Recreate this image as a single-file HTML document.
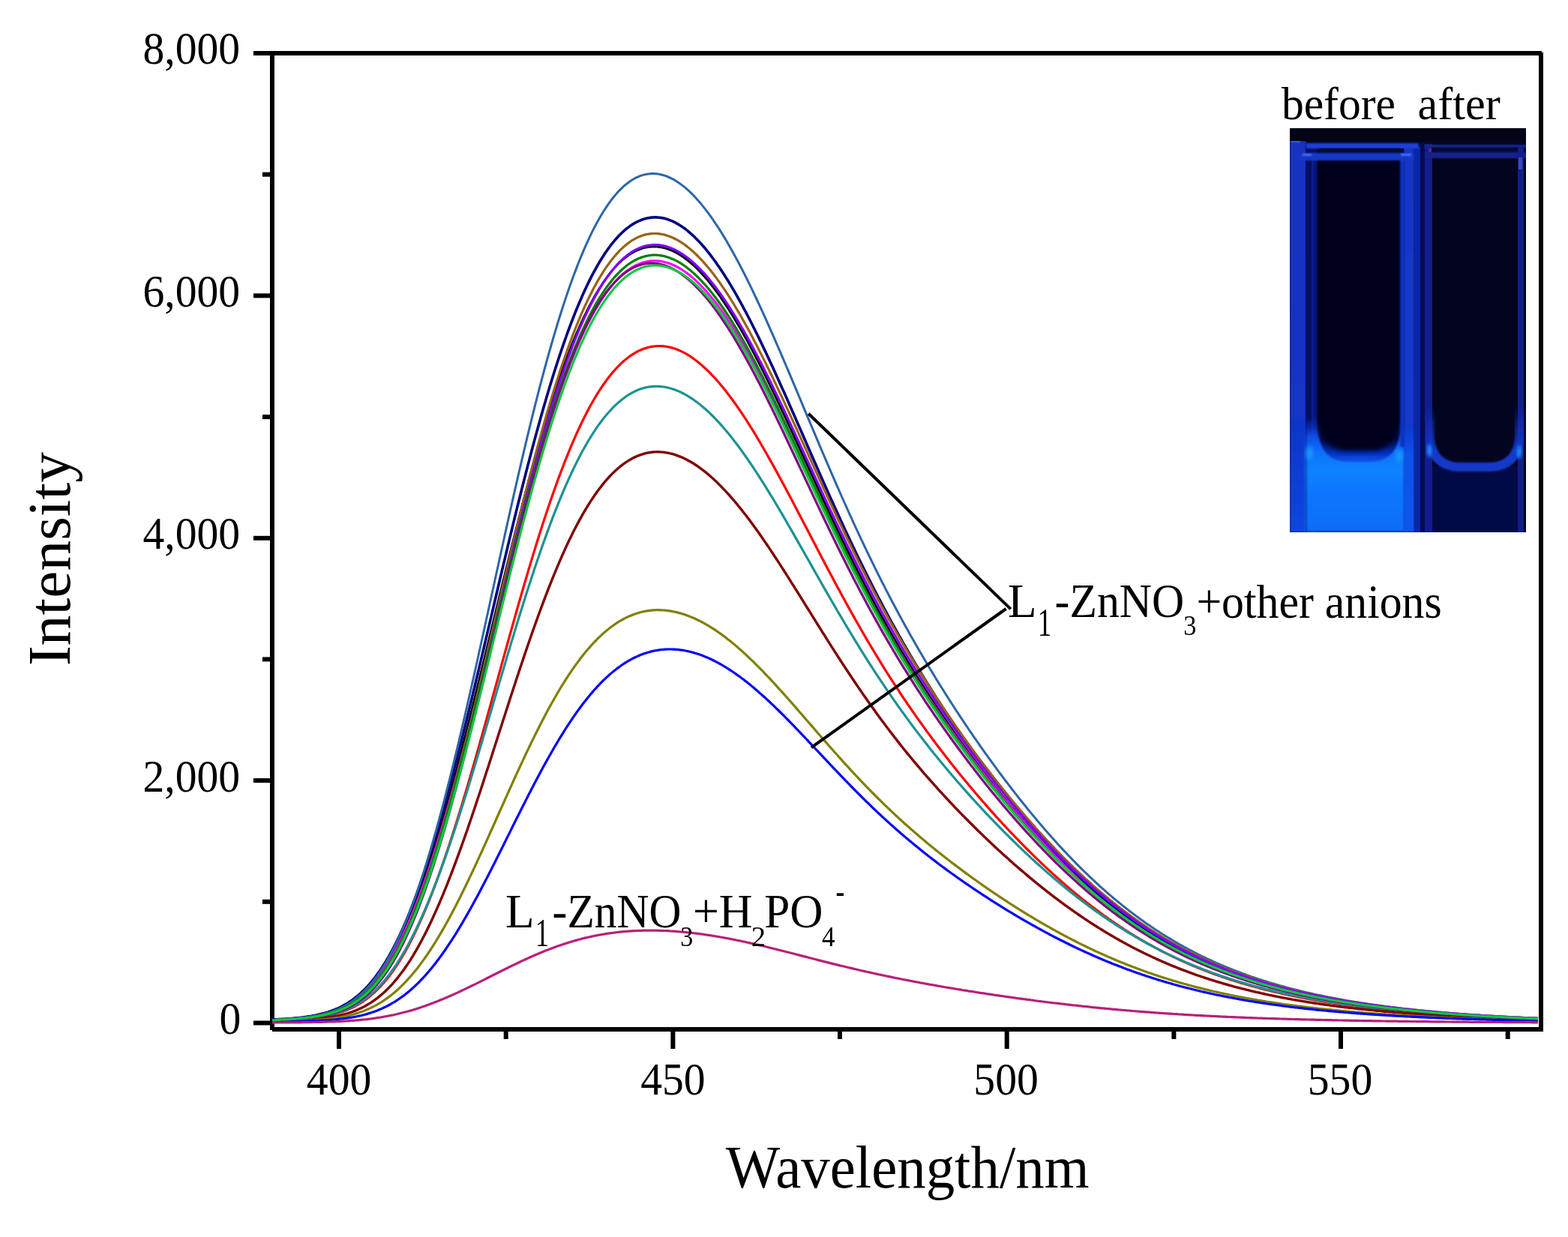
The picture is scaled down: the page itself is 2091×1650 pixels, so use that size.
<!DOCTYPE html>
<html><head><meta charset="utf-8"><title>Fluorescence spectra</title>
<style>
html,body{margin:0;padding:0;background:#fff;overflow:hidden;width:2091px;height:1650px;}
svg{display:block;}
text{font-family:"Liberation Serif","Times New Roman",serif;fill:#000;}
.tk{font-size:60px;}
.ax{font-size:80px;}
.an{font-size:62px;}
</style></head>
<body>
<svg width="2091" height="1650" viewBox="0 0 2091 1650">
<rect x="0" y="0" width="2091" height="1650" fill="#fff"/>
<g id="frame" fill="#000">
<rect x="360" y="68" width="6" height="1306"/>
<rect x="2052" y="70" width="6" height="1306"/>
<rect x="338" y="68" width="1718" height="6"/>
<rect x="363" y="1370" width="1693" height="6"/>
<rect x="338" y="1361.5" width="24" height="6"/>
<rect x="338" y="1038.1" width="24" height="6"/>
<rect x="338" y="714.8" width="24" height="6"/>
<rect x="338" y="391.4" width="24" height="6"/>
<rect x="338" y="68.0" width="24" height="6"/>
<rect x="350" y="1199.8" width="12" height="6"/>
<rect x="350" y="876.4" width="12" height="6"/>
<rect x="350" y="553.1" width="12" height="6"/>
<rect x="350" y="229.7" width="12" height="6"/>
<rect x="449.0" y="1372" width="6" height="27"/>
<rect x="894.4" y="1372" width="6" height="27"/>
<rect x="1339.7" y="1372" width="6" height="27"/>
<rect x="1785.0" y="1372" width="6" height="27"/>
<rect x="671.7" y="1372" width="6" height="14"/>
<rect x="1117.0" y="1372" width="6" height="14"/>
<rect x="1562.4" y="1372" width="6" height="14"/>
<rect x="2007.7" y="1372" width="6" height="14"/>
</g>
<g id="curves">
<polyline points="363,1360.5 365,1360.3 367,1360.2 369,1360.0 371,1359.9 373,1359.8 375,1359.7 377,1359.6 379,1359.5 381,1359.4 383,1359.2 385,1359.1 387,1359.0 389,1358.8 391,1358.6 393,1358.5 395,1358.3 397,1358.1 399,1357.9 401,1357.7 403,1357.4 405,1357.2 407,1357.0 409,1356.7 411,1356.4 413,1356.1 415,1355.8 417,1355.5 419,1355.1 421,1354.7 423,1354.3 425,1353.9 427,1353.5 429,1353.0 431,1352.5 433,1352.0 435,1351.5 437,1350.9 439,1350.3 441,1349.6 443,1349.0 445,1348.2 447,1347.5 449,1346.7 451,1345.8 453,1345.0 455,1344.0 457,1343.0 459,1342.0 461,1340.9 463,1339.8 465,1338.6 467,1337.4 469,1336.0 471,1334.7 473,1333.2 475,1331.7 477,1330.2 479,1328.5 481,1326.8 483,1325.0 485,1323.2 487,1321.3 489,1319.3 491,1317.2 493,1315.0 495,1312.7 497,1310.4 499,1308.0 501,1305.5 503,1302.9 505,1300.2 507,1297.4 509,1294.5 511,1291.6 513,1288.5 515,1285.4 517,1282.1 519,1278.8 521,1275.3 523,1271.8 525,1268.1 527,1264.4 529,1260.5 531,1256.5 533,1252.5 535,1248.3 537,1244.1 539,1239.7 541,1235.2 543,1230.6 545,1226.0 547,1221.2 549,1216.3 551,1211.3 553,1206.2 555,1201.0 557,1195.7 559,1190.3 561,1184.8 563,1179.2 565,1173.5 567,1167.7 569,1161.8 571,1155.8 573,1149.7 575,1143.5 577,1137.2 579,1130.9 581,1124.4 583,1117.9 585,1111.2 587,1104.5 589,1097.7 591,1090.8 593,1083.8 595,1076.8 597,1069.7 599,1062.5 601,1055.2 603,1047.9 605,1040.5 607,1033.0 609,1025.5 611,1017.9 613,1010.2 615,1002.5 617,994.7 619,986.9 621,979.1 623,971.2 625,963.2 627,955.2 629,947.2 631,939.1 633,931.0 635,922.9 637,914.7 639,906.6 641,898.4 643,890.1 645,881.9 647,873.7 649,865.4 651,857.1 653,848.9 655,840.6 657,832.3 659,824.1 661,815.8 663,807.5 665,799.3 667,791.1 669,782.9 671,774.7 673,766.5 675,758.4 677,750.3 679,742.2 681,734.1 683,726.1 685,718.2 687,710.2 689,702.4 691,694.5 693,686.7 695,679.0 697,671.3 699,663.7 701,656.1 703,648.6 705,641.1 707,633.7 709,626.4 711,619.1 713,611.9 715,604.8 717,597.8 719,590.8 721,583.9 723,577.1 725,570.3 727,563.6 729,557.1 731,550.6 733,544.2 735,537.8 737,531.6 739,525.4 741,519.4 743,513.4 745,507.5 747,501.7 749,496.0 751,490.4 753,484.9 755,479.5 757,474.2 759,469.0 761,463.8 763,458.8 765,453.9 767,449.0 769,444.3 771,439.7 773,435.1 775,430.7 777,426.3 779,422.1 781,418.0 783,413.9 785,410.0 787,406.1 789,402.4 791,398.7 793,395.2 795,391.7 797,388.4 799,385.1 801,382.0 803,378.9 805,376.0 807,373.1 809,370.3 811,367.6 813,365.1 815,362.6 817,360.2 819,357.9 821,355.7 823,353.6 825,351.6 827,349.6 829,347.8 831,346.0 833,344.4 835,342.8 837,341.3 839,339.9 841,338.6 843,337.4 845,336.3 847,335.2 849,334.3 851,333.4 853,332.6 855,331.9 857,331.2 859,330.7 861,330.2 863,329.8 865,329.5 867,329.3 869,329.1 871,329.0 873,329.0 875,329.1 877,329.2 879,329.5 881,329.8 883,330.1 885,330.6 887,331.1 889,331.7 891,332.4 893,333.1 895,333.9 897,334.8 899,335.7 901,336.8 903,337.8 905,339.0 907,340.2 909,341.5 911,342.9 913,344.3 915,345.8 917,347.4 919,349.0 921,350.7 923,352.4 925,354.2 927,356.1 929,358.0 931,360.0 933,362.1 935,364.2 937,366.3 939,368.6 941,370.9 943,373.2 945,375.6 947,378.1 949,380.6 951,383.2 953,385.8 955,388.5 957,391.2 959,394.0 961,396.8 963,399.7 965,402.6 967,405.6 969,408.7 971,411.8 973,414.9 975,418.1 977,421.3 979,424.6 981,427.9 983,431.2 985,434.6 987,438.1 989,441.6 991,445.1 993,448.7 995,452.3 997,455.9 999,459.6 1001,463.3 1003,467.0 1005,470.8 1007,474.6 1009,478.5 1011,482.4 1013,486.3 1015,490.2 1017,494.2 1019,498.2 1021,502.2 1023,506.2 1025,510.3 1027,514.4 1029,518.5 1031,522.7 1033,526.8 1035,531.0 1037,535.2 1039,539.4 1041,543.7 1043,547.9 1045,552.2 1047,556.4 1049,560.7 1051,565.0 1053,569.3 1055,573.6 1057,578.0 1059,582.3 1061,586.6 1063,591.0 1065,595.3 1067,599.7 1069,604.1 1071,608.4 1073,612.8 1075,617.1 1077,621.5 1079,625.8 1081,630.2 1083,634.5 1085,638.9 1087,643.2 1089,647.6 1091,651.9 1093,656.2 1095,660.5 1097,664.8 1099,669.1 1101,673.4 1103,677.7 1105,682.0 1107,686.2 1109,690.5 1111,694.7 1113,698.9 1115,703.1 1117,707.3 1119,711.5 1121,715.6 1123,719.8 1125,723.9 1127,728.0 1129,732.1 1131,736.2 1133,740.2 1135,744.3 1137,748.3 1139,752.3 1141,756.3 1143,760.2 1145,764.2 1147,768.1 1149,772.0 1151,775.9 1153,779.8 1155,783.6 1157,787.4 1159,791.2 1161,795.0 1163,798.8 1165,802.5 1167,806.3 1169,810.0 1171,813.7 1173,817.3 1175,821.0 1177,824.6 1179,828.2 1181,831.8 1183,835.3 1185,838.9 1187,842.4 1189,845.9 1191,849.4 1193,852.9 1195,856.3 1197,859.8 1199,863.2 1201,866.6 1203,869.9 1205,873.3 1207,876.6 1209,879.9 1211,883.2 1213,886.5 1215,889.8 1217,893.0 1219,896.3 1221,899.5 1223,902.7 1225,905.9 1227,909.0 1229,912.2 1231,915.3 1233,918.4 1235,921.5 1237,924.6 1239,927.7 1241,930.7 1243,933.7 1245,936.8 1247,939.8 1249,942.8 1251,945.7 1253,948.7 1255,951.7 1257,954.6 1259,957.5 1261,960.4 1263,963.3 1265,966.2 1267,969.1 1269,971.9 1271,974.8 1273,977.6 1275,980.4 1277,983.2 1279,986.0 1281,988.8 1283,991.5 1285,994.3 1287,997.0 1289,999.8 1291,1002.5 1293,1005.2 1295,1007.9 1297,1010.6 1299,1013.2 1301,1015.9 1303,1018.5 1305,1021.2 1307,1023.8 1309,1026.4 1311,1029.0 1313,1031.6 1315,1034.2 1317,1036.7 1319,1039.3 1321,1041.8 1323,1044.4 1325,1046.9 1327,1049.4 1329,1051.9 1331,1054.4 1333,1056.8 1335,1059.3 1337,1061.8 1339,1064.2 1341,1066.6 1343,1069.1 1345,1071.5 1347,1073.9 1349,1076.2 1351,1078.6 1353,1081.0 1355,1083.3 1357,1085.7 1359,1088.0 1361,1090.3 1363,1092.6 1365,1094.9 1367,1097.2 1369,1099.5 1371,1101.7 1373,1104.0 1375,1106.2 1377,1108.4 1379,1110.7 1381,1112.9 1383,1115.1 1385,1117.2 1387,1119.4 1389,1121.6 1391,1123.7 1393,1125.8 1395,1127.9 1397,1130.0 1399,1132.1 1401,1134.2 1403,1136.3 1405,1138.4 1407,1140.4 1409,1142.4 1411,1144.5 1413,1146.5 1415,1148.5 1417,1150.4 1419,1152.4 1421,1154.4 1423,1156.3 1425,1158.3 1427,1160.2 1429,1162.1 1431,1164.0 1433,1165.9 1435,1167.8 1437,1169.6 1439,1171.5 1441,1173.3 1443,1175.1 1445,1176.9 1447,1178.7 1449,1180.5 1451,1182.3 1453,1184.0 1455,1185.8 1457,1187.5 1459,1189.3 1461,1191.0 1463,1192.7 1465,1194.3 1467,1196.0 1469,1197.7 1471,1199.3 1473,1201.0 1475,1202.6 1477,1204.2 1479,1205.8 1481,1207.4 1483,1208.9 1485,1210.5 1487,1212.1 1489,1213.6 1491,1215.1 1493,1216.6 1495,1218.1 1497,1219.6 1499,1221.1 1501,1222.5 1503,1224.0 1505,1225.4 1507,1226.9 1509,1228.3 1511,1229.7 1513,1231.1 1515,1232.4 1517,1233.8 1519,1235.2 1521,1236.5 1523,1237.8 1525,1239.1 1527,1240.5 1529,1241.7 1531,1243.0 1533,1244.3 1535,1245.6 1537,1246.8 1539,1248.1 1541,1249.3 1543,1250.5 1545,1251.7 1547,1252.9 1549,1254.1 1551,1255.2 1553,1256.4 1555,1257.6 1557,1258.7 1559,1259.8 1561,1260.9 1563,1262.0 1565,1263.1 1567,1264.2 1569,1265.3 1571,1266.4 1573,1267.4 1575,1268.5 1577,1269.5 1579,1270.5 1581,1271.5 1583,1272.5 1585,1273.5 1587,1274.5 1589,1275.5 1591,1276.4 1593,1277.4 1595,1278.3 1597,1279.3 1599,1280.2 1601,1281.1 1603,1282.0 1605,1282.9 1607,1283.8 1609,1284.7 1611,1285.6 1613,1286.4 1615,1287.3 1617,1288.1 1619,1289.0 1621,1289.8 1623,1290.6 1625,1291.4 1627,1292.2 1629,1293.0 1631,1293.8 1633,1294.6 1635,1295.4 1637,1296.1 1639,1296.9 1641,1297.6 1643,1298.4 1645,1299.1 1647,1299.8 1649,1300.5 1651,1301.2 1653,1301.9 1655,1302.6 1657,1303.3 1659,1304.0 1661,1304.7 1663,1305.3 1665,1306.0 1667,1306.6 1669,1307.3 1671,1307.9 1673,1308.5 1675,1309.2 1677,1309.8 1679,1310.4 1681,1311.0 1683,1311.6 1685,1312.2 1687,1312.8 1689,1313.3 1691,1313.9 1693,1314.5 1695,1315.0 1697,1315.6 1699,1316.1 1701,1316.7 1703,1317.2 1705,1317.8 1707,1318.3 1709,1318.8 1711,1319.3 1713,1319.8 1715,1320.3 1717,1320.8 1719,1321.3 1721,1321.8 1723,1322.3 1725,1322.7 1727,1323.2 1729,1323.7 1731,1324.1 1733,1324.6 1735,1325.1 1737,1325.5 1739,1325.9 1741,1326.4 1743,1326.8 1745,1327.2 1747,1327.7 1749,1328.1 1751,1328.5 1753,1328.9 1755,1329.3 1757,1329.7 1759,1330.1 1761,1330.5 1763,1330.9 1765,1331.3 1767,1331.6 1769,1332.0 1771,1332.4 1773,1332.7 1775,1333.1 1777,1333.5 1779,1333.8 1781,1334.2 1783,1334.5 1785,1334.9 1787,1335.2 1789,1335.5 1791,1335.9 1793,1336.2 1795,1336.5 1797,1336.9 1799,1337.2 1801,1337.5 1803,1337.8 1805,1338.1 1807,1338.4 1809,1338.7 1811,1339.0 1813,1339.3 1815,1339.6 1817,1339.9 1819,1340.2 1821,1340.4 1823,1340.7 1825,1341.0 1827,1341.3 1829,1341.5 1831,1341.8 1833,1342.1 1835,1342.3 1837,1342.6 1839,1342.9 1841,1343.1 1843,1343.4 1845,1343.6 1847,1343.9 1849,1344.1 1851,1344.3 1853,1344.6 1855,1344.8 1857,1345.0 1859,1345.3 1861,1345.5 1863,1345.7 1865,1345.9 1867,1346.2 1869,1346.4 1871,1346.6 1873,1346.8 1875,1347.0 1877,1347.2 1879,1347.4 1881,1347.6 1883,1347.8 1885,1348.0 1887,1348.2 1889,1348.4 1891,1348.6 1893,1348.8 1895,1349.0 1897,1349.2 1899,1349.4 1901,1349.5 1903,1349.7 1905,1349.9 1907,1350.1 1909,1350.2 1911,1350.4 1913,1350.6 1915,1350.8 1917,1350.9 1919,1351.1 1921,1351.2 1923,1351.4 1925,1351.6 1927,1351.7 1929,1351.9 1931,1352.0 1933,1352.2 1935,1352.3 1937,1352.5 1939,1352.6 1941,1352.8 1943,1352.9 1945,1353.1 1947,1353.2 1949,1353.3 1951,1353.5 1953,1353.6 1955,1353.7 1957,1353.9 1959,1354.0 1961,1354.1 1963,1354.3 1965,1354.4 1967,1354.5 1969,1354.6 1971,1354.8 1973,1354.9 1975,1355.0 1977,1355.1 1979,1355.2 1981,1355.4 1983,1355.5 1985,1355.6 1987,1355.7 1989,1355.8 1991,1355.9 1993,1356.0 1995,1356.1 1997,1356.2 1999,1356.3 2001,1356.4 2003,1356.5 2005,1356.6 2007,1356.7 2009,1356.8 2011,1356.9 2013,1357.0 2015,1357.1 2017,1357.2 2019,1357.3 2021,1357.4 2023,1357.5 2025,1357.6 2027,1357.7 2029,1357.8 2031,1357.9 2033,1357.9 2035,1358.0 2037,1358.1 2039,1358.2 2041,1358.3 2043,1358.3 2045,1358.4 2047,1358.5 2049,1358.6 2051,1358.7" fill="none" stroke="#000000" stroke-width="2.8" stroke-linejoin="round"/>
<polyline points="363,1360.6 365,1360.5 367,1360.3 369,1360.2 371,1360.0 373,1359.9 375,1359.8 377,1359.7 379,1359.6 381,1359.5 383,1359.4 385,1359.3 387,1359.1 389,1359.0 391,1358.8 393,1358.7 395,1358.5 397,1358.3 399,1358.1 401,1357.9 403,1357.7 405,1357.4 407,1357.2 409,1356.9 411,1356.7 413,1356.4 415,1356.1 417,1355.8 419,1355.4 421,1355.1 423,1354.7 425,1354.3 427,1353.9 429,1353.4 431,1353.0 433,1352.5 435,1351.9 437,1351.4 439,1350.8 441,1350.2 443,1349.5 445,1348.8 447,1348.1 449,1347.3 451,1346.5 453,1345.7 455,1344.8 457,1343.8 459,1342.9 461,1341.8 463,1340.7 465,1339.6 467,1338.4 469,1337.1 471,1335.8 473,1334.4 475,1333.0 477,1331.4 479,1329.9 481,1328.2 483,1326.5 485,1324.7 487,1322.8 489,1320.9 491,1318.9 493,1316.8 495,1314.6 497,1312.4 499,1310.0 501,1307.6 503,1305.1 505,1302.5 507,1299.8 509,1297.0 511,1294.1 513,1291.2 515,1288.1 517,1284.9 519,1281.7 521,1278.4 523,1274.9 525,1271.4 527,1267.7 529,1264.0 531,1260.1 533,1256.2 535,1252.2 537,1248.0 539,1243.8 541,1239.4 543,1235.0 545,1230.4 547,1225.7 549,1221.0 551,1216.1 553,1211.2 555,1206.1 557,1200.9 559,1195.7 561,1190.3 563,1184.9 565,1179.3 567,1173.7 569,1167.9 571,1162.1 573,1156.1 575,1150.1 577,1144.0 579,1137.7 581,1131.4 583,1125.0 585,1118.6 587,1112.0 589,1105.4 591,1098.6 593,1091.8 595,1084.9 597,1078.0 599,1070.9 601,1063.8 603,1056.7 605,1049.4 607,1042.1 609,1034.7 611,1027.3 613,1019.8 615,1012.3 617,1004.7 619,997.0 621,989.3 623,981.6 625,973.8 627,966.0 629,958.1 631,950.2 633,942.3 635,934.3 637,926.3 639,918.3 641,910.2 643,902.2 645,894.1 647,886.0 649,877.9 651,869.8 653,861.7 655,853.5 657,845.4 659,837.3 661,829.2 663,821.1 665,813.0 667,804.9 669,796.9 671,788.8 673,780.8 675,772.8 677,764.8 679,756.9 681,749.0 683,741.1 685,733.2 687,725.4 689,717.7 691,710.0 693,702.3 695,694.7 697,687.1 699,679.6 701,672.1 703,664.7 705,657.4 707,650.1 709,642.9 711,635.7 713,628.6 715,621.6 717,614.6 719,607.8 721,601.0 723,594.2 725,587.6 727,581.0 729,574.5 731,568.1 733,561.8 735,555.5 737,549.4 739,543.3 741,537.3 743,531.4 745,525.6 747,519.8 749,514.2 751,508.7 753,503.2 755,497.9 757,492.6 759,487.4 761,482.4 763,477.4 765,472.5 767,467.7 769,463.0 771,458.4 773,453.9 775,449.5 777,445.2 779,441.0 781,436.9 783,432.9 785,429.0 787,425.2 789,421.5 791,417.9 793,414.3 795,410.9 797,407.6 799,404.3 801,401.2 803,398.2 805,395.2 807,392.4 809,389.6 811,386.9 813,384.4 815,381.9 817,379.5 819,377.2 821,375.0 823,372.9 825,370.9 827,368.9 829,367.1 831,365.3 833,363.7 835,362.1 837,360.6 839,359.2 841,357.9 843,356.7 845,355.5 847,354.4 849,353.5 851,352.6 853,351.7 855,351.0 857,350.3 859,349.8 861,349.3 863,348.8 865,348.5 867,348.2 869,348.0 871,347.9 873,347.9 875,347.9 877,348.1 879,348.2 881,348.5 883,348.8 885,349.2 887,349.7 889,350.3 891,350.9 893,351.6 895,352.3 897,353.2 899,354.0 901,355.0 903,356.0 905,357.1 907,358.3 909,359.5 911,360.8 913,362.2 915,363.6 917,365.1 919,366.6 921,368.2 923,369.9 925,371.6 927,373.4 929,375.3 931,377.2 933,379.2 935,381.2 937,383.3 939,385.4 941,387.6 943,389.9 945,392.2 947,394.6 949,397.0 951,399.5 953,402.0 955,404.6 957,407.2 959,409.9 961,412.6 963,415.4 965,418.3 967,421.1 969,424.1 971,427.1 973,430.1 975,433.2 977,436.3 979,439.4 981,442.6 983,445.9 985,449.2 987,452.5 989,455.9 991,459.3 993,462.8 995,466.2 997,469.8 999,473.3 1001,476.9 1003,480.6 1005,484.2 1007,487.9 1009,491.7 1011,495.4 1013,499.2 1015,503.1 1017,506.9 1019,510.8 1021,514.7 1023,518.6 1025,522.6 1027,526.6 1029,530.6 1031,534.6 1033,538.6 1035,542.7 1037,546.8 1039,550.9 1041,555.0 1043,559.1 1045,563.3 1047,567.5 1049,571.6 1051,575.8 1053,580.0 1055,584.2 1057,588.4 1059,592.7 1061,596.9 1063,601.1 1065,605.4 1067,609.6 1069,613.9 1071,618.1 1073,622.4 1075,626.6 1077,630.9 1079,635.2 1081,639.4 1083,643.7 1085,647.9 1087,652.2 1089,656.4 1091,660.6 1093,664.9 1095,669.1 1097,673.3 1099,677.5 1101,681.7 1103,685.9 1105,690.1 1107,694.2 1109,698.4 1111,702.5 1113,706.6 1115,710.8 1117,714.9 1119,719.0 1121,723.0 1123,727.1 1125,731.1 1127,735.2 1129,739.2 1131,743.2 1133,747.1 1135,751.1 1137,755.1 1139,759.0 1141,762.9 1143,766.8 1145,770.7 1147,774.5 1149,778.4 1151,782.2 1153,786.0 1155,789.7 1157,793.5 1159,797.2 1161,801.0 1163,804.7 1165,808.4 1167,812.0 1169,815.7 1171,819.3 1173,822.9 1175,826.5 1177,830.0 1179,833.6 1181,837.1 1183,840.6 1185,844.1 1187,847.6 1189,851.0 1191,854.4 1193,857.9 1195,861.2 1197,864.6 1199,868.0 1201,871.3 1203,874.6 1205,877.9 1207,881.2 1209,884.5 1211,887.7 1213,890.9 1215,894.2 1217,897.4 1219,900.5 1221,903.7 1223,906.8 1225,910.0 1227,913.1 1229,916.2 1231,919.2 1233,922.3 1235,925.4 1237,928.4 1239,931.4 1241,934.4 1243,937.4 1245,940.4 1247,943.3 1249,946.3 1251,949.2 1253,952.1 1255,955.0 1257,957.9 1259,960.8 1261,963.6 1263,966.5 1265,969.3 1267,972.1 1269,974.9 1271,977.7 1273,980.5 1275,983.3 1277,986.0 1279,988.8 1281,991.5 1283,994.2 1285,996.9 1287,999.6 1289,1002.3 1291,1005.0 1293,1007.6 1295,1010.3 1297,1012.9 1299,1015.5 1301,1018.1 1303,1020.7 1305,1023.3 1307,1025.9 1309,1028.5 1311,1031.0 1313,1033.6 1315,1036.1 1317,1038.6 1319,1041.1 1321,1043.7 1323,1046.1 1325,1048.6 1327,1051.1 1329,1053.5 1331,1056.0 1333,1058.4 1335,1060.9 1337,1063.3 1339,1065.7 1341,1068.1 1343,1070.4 1345,1072.8 1347,1075.2 1349,1077.5 1351,1079.9 1353,1082.2 1355,1084.5 1357,1086.8 1359,1089.1 1361,1091.4 1363,1093.7 1365,1095.9 1367,1098.2 1369,1100.4 1371,1102.6 1373,1104.8 1375,1107.0 1377,1109.2 1379,1111.4 1381,1113.6 1383,1115.7 1385,1117.9 1387,1120.0 1389,1122.2 1391,1124.3 1393,1126.4 1395,1128.5 1397,1130.5 1399,1132.6 1401,1134.7 1403,1136.7 1405,1138.7 1407,1140.8 1409,1142.8 1411,1144.8 1413,1146.7 1415,1148.7 1417,1150.7 1419,1152.6 1421,1154.6 1423,1156.5 1425,1158.4 1427,1160.3 1429,1162.2 1431,1164.1 1433,1165.9 1435,1167.8 1437,1169.6 1439,1171.5 1441,1173.3 1443,1175.1 1445,1176.9 1447,1178.6 1449,1180.4 1451,1182.2 1453,1183.9 1455,1185.6 1457,1187.4 1459,1189.1 1461,1190.8 1463,1192.4 1465,1194.1 1467,1195.8 1469,1197.4 1471,1199.1 1473,1200.7 1475,1202.3 1477,1203.9 1479,1205.5 1481,1207.0 1483,1208.6 1485,1210.1 1487,1211.7 1489,1213.2 1491,1214.7 1493,1216.2 1495,1217.7 1497,1219.2 1499,1220.6 1501,1222.1 1503,1223.5 1505,1225.0 1507,1226.4 1509,1227.8 1511,1229.2 1513,1230.6 1515,1231.9 1517,1233.3 1519,1234.6 1521,1236.0 1523,1237.3 1525,1238.6 1527,1239.9 1529,1241.2 1531,1242.5 1533,1243.7 1535,1245.0 1537,1246.2 1539,1247.5 1541,1248.7 1543,1249.9 1545,1251.1 1547,1252.3 1549,1253.5 1551,1254.6 1553,1255.8 1555,1256.9 1557,1258.1 1559,1259.2 1561,1260.3 1563,1261.4 1565,1262.5 1567,1263.6 1569,1264.7 1571,1265.7 1573,1266.8 1575,1267.8 1577,1268.9 1579,1269.9 1581,1270.9 1583,1271.9 1585,1272.9 1587,1273.9 1589,1274.9 1591,1275.8 1593,1276.8 1595,1277.7 1597,1278.7 1599,1279.6 1601,1280.5 1603,1281.4 1605,1282.3 1607,1283.2 1609,1284.1 1611,1284.9 1613,1285.8 1615,1286.7 1617,1287.5 1619,1288.3 1621,1289.2 1623,1290.0 1625,1290.8 1627,1291.6 1629,1292.4 1631,1293.2 1633,1294.0 1635,1294.7 1637,1295.5 1639,1296.3 1641,1297.0 1643,1297.8 1645,1298.5 1647,1299.2 1649,1299.9 1651,1300.6 1653,1301.3 1655,1302.0 1657,1302.7 1659,1303.4 1661,1304.1 1663,1304.7 1665,1305.4 1667,1306.1 1669,1306.7 1671,1307.3 1673,1308.0 1675,1308.6 1677,1309.2 1679,1309.8 1681,1310.4 1683,1311.0 1685,1311.6 1687,1312.2 1689,1312.8 1691,1313.4 1693,1313.9 1695,1314.5 1697,1315.0 1699,1315.6 1701,1316.1 1703,1316.7 1705,1317.2 1707,1317.7 1709,1318.3 1711,1318.8 1713,1319.3 1715,1319.8 1717,1320.3 1719,1320.8 1721,1321.3 1723,1321.8 1725,1322.2 1727,1322.7 1729,1323.2 1731,1323.6 1733,1324.1 1735,1324.6 1737,1325.0 1739,1325.4 1741,1325.9 1743,1326.3 1745,1326.7 1747,1327.2 1749,1327.6 1751,1328.0 1753,1328.4 1755,1328.8 1757,1329.2 1759,1329.6 1761,1330.0 1763,1330.4 1765,1330.8 1767,1331.2 1769,1331.6 1771,1331.9 1773,1332.3 1775,1332.7 1777,1333.0 1779,1333.4 1781,1333.7 1783,1334.1 1785,1334.4 1787,1334.8 1789,1335.1 1791,1335.4 1793,1335.8 1795,1336.1 1797,1336.4 1799,1336.7 1801,1337.1 1803,1337.4 1805,1337.7 1807,1338.0 1809,1338.3 1811,1338.6 1813,1338.9 1815,1339.2 1817,1339.5 1819,1339.8 1821,1340.1 1823,1340.3 1825,1340.6 1827,1340.9 1829,1341.2 1831,1341.4 1833,1341.7 1835,1342.0 1837,1342.2 1839,1342.5 1841,1342.7 1843,1343.0 1845,1343.2 1847,1343.5 1849,1343.7 1851,1344.0 1853,1344.2 1855,1344.5 1857,1344.7 1859,1344.9 1861,1345.1 1863,1345.4 1865,1345.6 1867,1345.8 1869,1346.0 1871,1346.3 1873,1346.5 1875,1346.7 1877,1346.9 1879,1347.1 1881,1347.3 1883,1347.5 1885,1347.7 1887,1347.9 1889,1348.1 1891,1348.3 1893,1348.5 1895,1348.7 1897,1348.9 1899,1349.1 1901,1349.2 1903,1349.4 1905,1349.6 1907,1349.8 1909,1350.0 1911,1350.1 1913,1350.3 1915,1350.5 1917,1350.6 1919,1350.8 1921,1351.0 1923,1351.1 1925,1351.3 1927,1351.5 1929,1351.6 1931,1351.8 1933,1351.9 1935,1352.1 1937,1352.2 1939,1352.4 1941,1352.5 1943,1352.7 1945,1352.8 1947,1352.9 1949,1353.1 1951,1353.2 1953,1353.4 1955,1353.5 1957,1353.6 1959,1353.8 1961,1353.9 1963,1354.0 1965,1354.2 1967,1354.3 1969,1354.4 1971,1354.5 1973,1354.7 1975,1354.8 1977,1354.9 1979,1355.0 1981,1355.1 1983,1355.3 1985,1355.4 1987,1355.5 1989,1355.6 1991,1355.7 1993,1355.8 1995,1355.9 1997,1356.0 1999,1356.1 2001,1356.2 2003,1356.3 2005,1356.4 2007,1356.5 2009,1356.6 2011,1356.7 2013,1356.8 2015,1356.9 2017,1357.0 2019,1357.1 2021,1357.2 2023,1357.3 2025,1357.4 2027,1357.5 2029,1357.6 2031,1357.7 2033,1357.8 2035,1357.8 2037,1357.9 2039,1358.0 2041,1358.1 2043,1358.2 2045,1358.3 2047,1358.3 2049,1358.4 2051,1358.5" fill="none" stroke="#ff00ff" stroke-width="3.2" stroke-linejoin="round"/>
<polyline points="363,1361.5 365,1361.4 367,1361.3 369,1361.2 371,1361.1 373,1360.9 375,1360.8 377,1360.7 379,1360.6 381,1360.4 383,1360.3 385,1360.3 387,1360.2 389,1360.1 391,1360.0 393,1359.9 395,1359.8 397,1359.6 399,1359.5 401,1359.4 403,1359.2 405,1359.0 407,1358.9 409,1358.7 411,1358.5 413,1358.3 415,1358.1 417,1357.8 419,1357.6 421,1357.3 423,1357.1 425,1356.8 427,1356.5 429,1356.2 431,1355.9 433,1355.5 435,1355.1 437,1354.7 439,1354.3 441,1353.9 443,1353.4 445,1352.9 447,1352.4 449,1351.9 451,1351.3 453,1350.7 455,1350.0 457,1349.4 459,1348.6 461,1347.9 463,1347.1 465,1346.3 467,1345.4 469,1344.5 471,1343.5 473,1342.5 475,1341.4 477,1340.3 479,1339.1 481,1337.9 483,1336.6 485,1335.2 487,1333.8 489,1332.4 491,1330.8 493,1329.2 495,1327.6 497,1325.9 499,1324.1 501,1322.2 503,1320.2 505,1318.2 507,1316.1 509,1314.0 511,1311.7 513,1309.4 515,1307.0 517,1304.5 519,1302.0 521,1299.3 523,1296.6 525,1293.8 527,1290.9 529,1287.9 531,1284.8 533,1281.6 535,1278.4 537,1275.0 539,1271.6 541,1268.1 543,1264.5 545,1260.8 547,1257.0 549,1253.1 551,1249.1 553,1245.0 555,1240.8 557,1236.6 559,1232.2 561,1227.8 563,1223.3 565,1218.7 567,1214.0 569,1209.2 571,1204.3 573,1199.3 575,1194.2 577,1189.1 579,1183.9 581,1178.6 583,1173.2 585,1167.7 587,1162.1 589,1156.5 591,1150.8 593,1145.0 595,1139.1 597,1133.1 599,1127.1 601,1121.0 603,1114.9 605,1108.6 607,1102.4 609,1096.0 611,1089.6 613,1083.1 615,1076.6 617,1070.0 619,1063.3 621,1056.6 623,1049.9 625,1043.1 627,1036.3 629,1029.4 631,1022.4 633,1015.5 635,1008.5 637,1001.5 639,994.4 641,987.3 643,980.2 645,973.0 647,965.9 649,958.7 651,951.5 653,944.3 655,937.0 657,929.8 659,922.6 661,915.3 663,908.1 665,900.8 667,893.6 669,886.3 671,879.1 673,871.9 675,864.7 677,857.5 679,850.3 681,843.2 683,836.0 685,828.9 687,821.9 689,814.8 691,807.8 693,800.8 695,793.9 697,787.0 699,780.1 701,773.3 703,766.5 705,759.7 707,753.1 709,746.4 711,739.8 713,733.3 715,726.8 717,720.4 719,714.0 721,707.8 723,701.5 725,695.3 727,689.2 729,683.2 731,677.2 733,671.3 735,665.5 737,659.7 739,654.1 741,648.4 743,642.9 745,637.4 747,632.1 749,626.8 751,621.5 753,616.4 755,611.3 757,606.4 759,601.5 761,596.6 763,591.9 765,587.3 767,582.7 769,578.2 771,573.8 773,569.5 775,565.3 777,561.2 779,557.1 781,553.2 783,549.3 785,545.5 787,541.8 789,538.2 791,534.7 793,531.3 795,527.9 797,524.7 799,521.5 801,518.4 803,515.4 805,512.5 807,509.7 809,506.9 811,504.3 813,501.7 815,499.2 817,496.8 819,494.5 821,492.3 823,490.1 825,488.0 827,486.1 829,484.2 831,482.3 833,480.6 835,478.9 837,477.3 839,475.8 841,474.4 843,473.1 845,471.8 847,470.6 849,469.5 851,468.4 853,467.5 855,466.6 857,465.8 859,465.0 861,464.4 863,463.8 865,463.2 867,462.8 869,462.4 871,462.1 873,461.8 875,461.7 877,461.5 879,461.5 881,461.5 883,461.6 885,461.8 887,462.0 889,462.3 891,462.7 893,463.1 895,463.6 897,464.2 899,464.8 901,465.5 903,466.2 905,467.0 907,467.9 909,468.9 911,469.9 913,470.9 915,472.0 917,473.2 919,474.4 921,475.7 923,477.1 925,478.5 927,480.0 929,481.5 931,483.1 933,484.7 935,486.4 937,488.2 939,490.0 941,491.8 943,493.7 945,495.7 947,497.7 949,499.8 951,501.9 953,504.0 955,506.2 957,508.5 959,510.8 961,513.2 963,515.6 965,518.0 967,520.5 969,523.1 971,525.7 973,528.3 975,531.0 977,533.7 979,536.5 981,539.3 983,542.1 985,545.0 987,547.9 989,550.9 991,553.9 993,556.9 995,560.0 997,563.1 999,566.3 1001,569.5 1003,572.7 1005,575.9 1007,579.2 1009,582.5 1011,585.9 1013,589.3 1015,592.7 1017,596.1 1019,599.5 1021,603.0 1023,606.5 1025,610.1 1027,613.6 1029,617.2 1031,620.8 1033,624.4 1035,628.0 1037,631.7 1039,635.4 1041,639.1 1043,642.8 1045,646.5 1047,650.2 1049,654.0 1051,657.8 1053,661.5 1055,665.3 1057,669.1 1059,672.9 1061,676.7 1063,680.6 1065,684.4 1067,688.2 1069,692.0 1071,695.9 1073,699.7 1075,703.6 1077,707.4 1079,711.3 1081,715.1 1083,718.9 1085,722.8 1087,726.6 1089,730.5 1091,734.3 1093,738.1 1095,741.9 1097,745.8 1099,749.6 1101,753.4 1103,757.2 1105,760.9 1107,764.7 1109,768.5 1111,772.2 1113,776.0 1115,779.7 1117,783.4 1119,787.1 1121,790.8 1123,794.5 1125,798.2 1127,801.8 1129,805.5 1131,809.1 1133,812.7 1135,816.3 1137,819.9 1139,823.4 1141,827.0 1143,830.5 1145,834.0 1147,837.5 1149,841.0 1151,844.5 1153,847.9 1155,851.4 1157,854.8 1159,858.2 1161,861.5 1163,864.9 1165,868.2 1167,871.5 1169,874.8 1171,878.1 1173,881.4 1175,884.6 1177,887.9 1179,891.1 1181,894.3 1183,897.5 1185,900.6 1187,903.8 1189,906.9 1191,910.0 1193,913.1 1195,916.2 1197,919.2 1199,922.2 1201,925.3 1203,928.3 1205,931.3 1207,934.2 1209,937.2 1211,940.1 1213,943.0 1215,945.9 1217,948.8 1219,951.7 1221,954.6 1223,957.4 1225,960.2 1227,963.0 1229,965.8 1231,968.6 1233,971.4 1235,974.2 1237,976.9 1239,979.6 1241,982.3 1243,985.0 1245,987.7 1247,990.4 1249,993.0 1251,995.7 1253,998.3 1255,1000.9 1257,1003.5 1259,1006.1 1261,1008.7 1263,1011.3 1265,1013.8 1267,1016.4 1269,1018.9 1271,1021.4 1273,1023.9 1275,1026.4 1277,1028.9 1279,1031.4 1281,1033.9 1283,1036.3 1285,1038.8 1287,1041.2 1289,1043.6 1291,1046.0 1293,1048.4 1295,1050.8 1297,1053.2 1299,1055.5 1301,1057.9 1303,1060.3 1305,1062.6 1307,1064.9 1309,1067.2 1311,1069.5 1313,1071.8 1315,1074.1 1317,1076.4 1319,1078.6 1321,1080.9 1323,1083.1 1325,1085.4 1327,1087.6 1329,1089.8 1331,1092.0 1333,1094.2 1335,1096.4 1337,1098.6 1339,1100.7 1341,1102.9 1343,1105.0 1345,1107.2 1347,1109.3 1349,1111.4 1351,1113.5 1353,1115.6 1355,1117.7 1357,1119.7 1359,1121.8 1361,1123.9 1363,1125.9 1365,1127.9 1367,1130.0 1369,1132.0 1371,1134.0 1373,1136.0 1375,1137.9 1377,1139.9 1379,1141.9 1381,1143.8 1383,1145.8 1385,1147.7 1387,1149.6 1389,1151.5 1391,1153.4 1393,1155.3 1395,1157.2 1397,1159.0 1399,1160.9 1401,1162.7 1403,1164.6 1405,1166.4 1407,1168.2 1409,1170.0 1411,1171.8 1413,1173.5 1415,1175.3 1417,1177.1 1419,1178.8 1421,1180.6 1423,1182.3 1425,1184.0 1427,1185.7 1429,1187.4 1431,1189.1 1433,1190.7 1435,1192.4 1437,1194.0 1439,1195.7 1441,1197.3 1443,1198.9 1445,1200.5 1447,1202.1 1449,1203.7 1451,1205.2 1453,1206.8 1455,1208.3 1457,1209.9 1459,1211.4 1461,1212.9 1463,1214.4 1465,1215.9 1467,1217.4 1469,1218.8 1471,1220.3 1473,1221.7 1475,1223.1 1477,1224.6 1479,1226.0 1481,1227.4 1483,1228.8 1485,1230.1 1487,1231.5 1489,1232.9 1491,1234.2 1493,1235.5 1495,1236.9 1497,1238.2 1499,1239.5 1501,1240.8 1503,1242.0 1505,1243.3 1507,1244.6 1509,1245.8 1511,1247.0 1513,1248.3 1515,1249.5 1517,1250.7 1519,1251.9 1521,1253.1 1523,1254.2 1525,1255.4 1527,1256.5 1529,1257.7 1531,1258.8 1533,1259.9 1535,1261.0 1537,1262.1 1539,1263.2 1541,1264.3 1543,1265.4 1545,1266.4 1547,1267.5 1549,1268.5 1551,1269.6 1553,1270.6 1555,1271.6 1557,1272.6 1559,1273.6 1561,1274.6 1563,1275.5 1565,1276.5 1567,1277.4 1569,1278.4 1571,1279.3 1573,1280.3 1575,1281.2 1577,1282.1 1579,1283.0 1581,1283.9 1583,1284.7 1585,1285.6 1587,1286.5 1589,1287.3 1591,1288.2 1593,1289.0 1595,1289.8 1597,1290.7 1599,1291.5 1601,1292.3 1603,1293.1 1605,1293.9 1607,1294.6 1609,1295.4 1611,1296.2 1613,1296.9 1615,1297.7 1617,1298.4 1619,1299.2 1621,1299.9 1623,1300.6 1625,1301.3 1627,1302.0 1629,1302.7 1631,1303.4 1633,1304.1 1635,1304.8 1637,1305.4 1639,1306.1 1641,1306.7 1643,1307.4 1645,1308.0 1647,1308.6 1649,1309.3 1651,1309.9 1653,1310.5 1655,1311.1 1657,1311.7 1659,1312.3 1661,1312.9 1663,1313.5 1665,1314.0 1667,1314.6 1669,1315.2 1671,1315.7 1673,1316.3 1675,1316.8 1677,1317.3 1679,1317.9 1681,1318.4 1683,1318.9 1685,1319.4 1687,1319.9 1689,1320.5 1691,1321.0 1693,1321.4 1695,1321.9 1697,1322.4 1699,1322.9 1701,1323.4 1703,1323.8 1705,1324.3 1707,1324.7 1709,1325.2 1711,1325.6 1713,1326.1 1715,1326.5 1717,1327.0 1719,1327.4 1721,1327.8 1723,1328.2 1725,1328.6 1727,1329.0 1729,1329.5 1731,1329.9 1733,1330.2 1735,1330.6 1737,1331.0 1739,1331.4 1741,1331.8 1743,1332.2 1745,1332.5 1747,1332.9 1749,1333.3 1751,1333.6 1753,1334.0 1755,1334.3 1757,1334.7 1759,1335.0 1761,1335.4 1763,1335.7 1765,1336.0 1767,1336.4 1769,1336.7 1771,1337.0 1773,1337.3 1775,1337.6 1777,1337.9 1779,1338.3 1781,1338.6 1783,1338.9 1785,1339.2 1787,1339.4 1789,1339.7 1791,1340.0 1793,1340.3 1795,1340.6 1797,1340.9 1799,1341.1 1801,1341.4 1803,1341.7 1805,1342.0 1807,1342.2 1809,1342.5 1811,1342.7 1813,1343.0 1815,1343.2 1817,1343.5 1819,1343.7 1821,1344.0 1823,1344.2 1825,1344.5 1827,1344.7 1829,1344.9 1831,1345.2 1833,1345.4 1835,1345.6 1837,1345.8 1839,1346.1 1841,1346.3 1843,1346.5 1845,1346.7 1847,1346.9 1849,1347.1 1851,1347.3 1853,1347.5 1855,1347.7 1857,1347.9 1859,1348.1 1861,1348.3 1863,1348.5 1865,1348.7 1867,1348.9 1869,1349.1 1871,1349.3 1873,1349.5 1875,1349.6 1877,1349.8 1879,1350.0 1881,1350.2 1883,1350.3 1885,1350.5 1887,1350.7 1889,1350.9 1891,1351.0 1893,1351.2 1895,1351.3 1897,1351.5 1899,1351.7 1901,1351.8 1903,1352.0 1905,1352.1 1907,1352.3 1909,1352.4 1911,1352.6 1913,1352.7 1915,1352.9 1917,1353.0 1919,1353.1 1921,1353.3 1923,1353.4 1925,1353.6 1927,1353.7 1929,1353.8 1931,1354.0 1933,1354.1 1935,1354.2 1937,1354.3 1939,1354.5 1941,1354.6 1943,1354.7 1945,1354.8 1947,1355.0 1949,1355.1 1951,1355.2 1953,1355.3 1955,1355.4 1957,1355.5 1959,1355.7 1961,1355.8 1963,1355.9 1965,1356.0 1967,1356.1 1969,1356.2 1971,1356.3 1973,1356.4 1975,1356.5 1977,1356.6 1979,1356.7 1981,1356.8 1983,1356.9 1985,1357.0 1987,1357.1 1989,1357.2 1991,1357.3 1993,1357.4 1995,1357.5 1997,1357.6 1999,1357.6 2001,1357.7 2003,1357.8 2005,1357.9 2007,1358.0 2009,1358.1 2011,1358.2 2013,1358.2 2015,1358.3 2017,1358.4 2019,1358.5 2021,1358.6 2023,1358.6 2025,1358.7 2027,1358.8 2029,1358.9 2031,1358.9 2033,1359.0 2035,1359.1 2037,1359.1 2039,1359.2 2041,1359.3 2043,1359.4 2045,1359.4 2047,1359.5 2049,1359.6 2051,1359.6" fill="none" stroke="#ff0000" stroke-width="3.2" stroke-linejoin="round"/>
<polyline points="363,1361.4 365,1361.3 367,1361.2 369,1361.1 371,1361.0 373,1360.9 375,1360.8 377,1360.6 379,1360.6 381,1360.5 383,1360.4 385,1360.3 387,1360.2 389,1360.1 391,1360.0 393,1359.9 395,1359.7 397,1359.6 399,1359.5 401,1359.3 403,1359.1 405,1359.0 407,1358.8 409,1358.6 411,1358.4 413,1358.2 415,1357.9 417,1357.7 419,1357.4 421,1357.2 423,1356.9 425,1356.6 427,1356.3 429,1355.9 431,1355.6 433,1355.2 435,1354.8 437,1354.4 439,1353.9 441,1353.5 443,1353.0 445,1352.4 447,1351.9 449,1351.3 451,1350.7 453,1350.0 455,1349.4 457,1348.6 459,1347.9 461,1347.1 463,1346.2 465,1345.4 467,1344.4 469,1343.5 471,1342.4 473,1341.4 475,1340.3 477,1339.1 479,1337.9 481,1336.6 483,1335.3 485,1333.9 487,1332.4 489,1330.9 491,1329.3 493,1327.7 495,1326.0 497,1324.2 499,1322.4 501,1320.4 503,1318.5 505,1316.4 507,1314.3 509,1312.1 511,1309.8 513,1307.5 515,1305.0 517,1302.5 519,1299.9 521,1297.3 523,1294.5 525,1291.7 527,1288.8 529,1285.8 531,1282.7 533,1279.5 535,1276.3 537,1273.0 539,1269.5 541,1266.0 543,1262.5 545,1258.8 547,1255.0 549,1251.2 551,1247.3 553,1243.2 555,1239.1 557,1235.0 559,1230.7 561,1226.3 563,1221.9 565,1217.4 567,1212.8 569,1208.1 571,1203.3 573,1198.5 575,1193.5 577,1188.5 579,1183.4 581,1178.3 583,1173.0 585,1167.7 587,1162.3 589,1156.9 591,1151.4 593,1145.8 595,1140.1 597,1134.4 599,1128.6 601,1122.7 603,1116.8 605,1110.8 607,1104.8 609,1098.7 611,1092.5 613,1086.3 615,1080.1 617,1073.8 619,1067.4 621,1061.1 623,1054.6 625,1048.2 627,1041.7 629,1035.1 631,1028.5 633,1021.9 635,1015.3 637,1008.6 639,1001.9 641,995.2 643,988.5 645,981.8 647,975.0 649,968.2 651,961.4 653,954.6 655,947.8 657,941.0 659,934.2 661,927.4 663,920.6 665,913.8 667,907.0 669,900.3 671,893.5 673,886.8 675,880.0 677,873.3 679,866.6 681,859.9 683,853.3 685,846.7 687,840.1 689,833.6 691,827.0 693,820.6 695,814.1 697,807.7 699,801.3 701,795.0 703,788.8 705,782.5 707,776.4 709,770.2 711,764.2 713,758.1 715,752.2 717,746.3 719,740.4 721,734.6 723,728.9 725,723.2 727,717.6 729,712.1 731,706.6 733,701.2 735,695.9 737,690.6 739,685.4 741,680.3 743,675.3 745,670.3 747,665.4 749,660.6 751,655.8 753,651.2 755,646.6 757,642.1 759,637.6 761,633.3 763,629.0 765,624.8 767,620.7 769,616.7 771,612.7 773,608.8 775,605.0 777,601.3 779,597.7 781,594.1 783,590.7 785,587.3 787,584.0 789,580.8 791,577.6 793,574.6 795,571.6 797,568.7 799,565.9 801,563.2 803,560.5 805,557.9 807,555.4 809,553.0 811,550.7 813,548.5 815,546.3 817,544.2 819,542.2 821,540.2 823,538.4 825,536.6 827,534.9 829,533.2 831,531.7 833,530.2 835,528.8 837,527.4 839,526.2 841,525.0 843,523.9 845,522.8 847,521.8 849,520.9 851,520.1 853,519.3 855,518.6 857,518.0 859,517.4 861,516.9 863,516.5 865,516.1 867,515.8 869,515.6 871,515.4 873,515.3 875,515.3 877,515.3 879,515.4 881,515.6 883,515.8 885,516.0 887,516.3 889,516.7 891,517.2 893,517.7 895,518.2 897,518.9 899,519.5 901,520.3 903,521.0 905,521.9 907,522.8 909,523.7 911,524.7 913,525.8 915,526.9 917,528.1 919,529.3 921,530.6 923,531.9 925,533.2 927,534.7 929,536.1 931,537.7 933,539.2 935,540.9 937,542.5 939,544.2 941,546.0 943,547.8 945,549.7 947,551.6 949,553.5 951,555.5 953,557.5 955,559.6 957,561.8 959,563.9 961,566.1 963,568.4 965,570.7 967,573.0 969,575.4 971,577.8 973,580.3 975,582.8 977,585.3 979,587.9 981,590.5 983,593.1 985,595.8 987,598.5 989,601.3 991,604.0 993,606.9 995,609.7 997,612.6 999,615.5 1001,618.4 1003,621.4 1005,624.4 1007,627.4 1009,630.5 1011,633.6 1013,636.7 1015,639.8 1017,643.0 1019,646.2 1021,649.4 1023,652.6 1025,655.8 1027,659.1 1029,662.4 1031,665.7 1033,669.0 1035,672.4 1037,675.8 1039,679.1 1041,682.5 1043,685.9 1045,689.4 1047,692.8 1049,696.2 1051,699.7 1053,703.2 1055,706.6 1057,710.1 1059,713.6 1061,717.1 1063,720.6 1065,724.1 1067,727.7 1069,731.2 1071,734.7 1073,738.2 1075,741.8 1077,745.3 1079,748.8 1081,752.4 1083,755.9 1085,759.4 1087,763.0 1089,766.5 1091,770.0 1093,773.5 1095,777.0 1097,780.6 1099,784.1 1101,787.6 1103,791.0 1105,794.5 1107,798.0 1109,801.5 1111,804.9 1113,808.4 1115,811.8 1117,815.2 1119,818.6 1121,822.0 1123,825.4 1125,828.8 1127,832.2 1129,835.5 1131,838.9 1133,842.2 1135,845.5 1137,848.8 1139,852.1 1141,855.4 1143,858.7 1145,861.9 1147,865.1 1149,868.4 1151,871.6 1153,874.7 1155,877.9 1157,881.1 1159,884.2 1161,887.3 1163,890.4 1165,893.5 1167,896.6 1169,899.7 1171,902.7 1173,905.7 1175,908.7 1177,911.7 1179,914.7 1181,917.7 1183,920.6 1185,923.5 1187,926.4 1189,929.3 1191,932.2 1193,935.1 1195,937.9 1197,940.8 1199,943.6 1201,946.4 1203,949.2 1205,951.9 1207,954.7 1209,957.4 1211,960.2 1213,962.9 1215,965.6 1217,968.3 1219,970.9 1221,973.6 1223,976.2 1225,978.9 1227,981.5 1229,984.1 1231,986.7 1233,989.2 1235,991.8 1237,994.3 1239,996.9 1241,999.4 1243,1001.9 1245,1004.4 1247,1006.9 1249,1009.3 1251,1011.8 1253,1014.2 1255,1016.7 1257,1019.1 1259,1021.5 1261,1023.9 1263,1026.3 1265,1028.7 1267,1031.0 1269,1033.4 1271,1035.7 1273,1038.1 1275,1040.4 1277,1042.7 1279,1045.0 1281,1047.3 1283,1049.6 1285,1051.9 1287,1054.1 1289,1056.4 1291,1058.6 1293,1060.8 1295,1063.1 1297,1065.3 1299,1067.5 1301,1069.7 1303,1071.8 1305,1074.0 1307,1076.2 1309,1078.3 1311,1080.5 1313,1082.6 1315,1084.8 1317,1086.9 1319,1089.0 1321,1091.1 1323,1093.2 1325,1095.2 1327,1097.3 1329,1099.4 1331,1101.4 1333,1103.5 1335,1105.5 1337,1107.5 1339,1109.6 1341,1111.6 1343,1113.6 1345,1115.6 1347,1117.5 1349,1119.5 1351,1121.5 1353,1123.4 1355,1125.4 1357,1127.3 1359,1129.3 1361,1131.2 1363,1133.1 1365,1135.0 1367,1136.9 1369,1138.8 1371,1140.6 1373,1142.5 1375,1144.4 1377,1146.2 1379,1148.0 1381,1149.9 1383,1151.7 1385,1153.5 1387,1155.3 1389,1157.1 1391,1158.9 1393,1160.6 1395,1162.4 1397,1164.1 1399,1165.9 1401,1167.6 1403,1169.3 1405,1171.1 1407,1172.8 1409,1174.5 1411,1176.1 1413,1177.8 1415,1179.5 1417,1181.1 1419,1182.8 1421,1184.4 1423,1186.0 1425,1187.7 1427,1189.3 1429,1190.9 1431,1192.4 1433,1194.0 1435,1195.6 1437,1197.2 1439,1198.7 1441,1200.2 1443,1201.8 1445,1203.3 1447,1204.8 1449,1206.3 1451,1207.8 1453,1209.2 1455,1210.7 1457,1212.2 1459,1213.6 1461,1215.1 1463,1216.5 1465,1217.9 1467,1219.3 1469,1220.7 1471,1222.1 1473,1223.5 1475,1224.8 1477,1226.2 1479,1227.5 1481,1228.9 1483,1230.2 1485,1231.5 1487,1232.8 1489,1234.1 1491,1235.4 1493,1236.7 1495,1237.9 1497,1239.2 1499,1240.4 1501,1241.7 1503,1242.9 1505,1244.1 1507,1245.3 1509,1246.5 1511,1247.7 1513,1248.9 1515,1250.1 1517,1251.2 1519,1252.4 1521,1253.5 1523,1254.6 1525,1255.8 1527,1256.9 1529,1258.0 1531,1259.1 1533,1260.1 1535,1261.2 1537,1262.3 1539,1263.3 1541,1264.4 1543,1265.4 1545,1266.4 1547,1267.5 1549,1268.5 1551,1269.5 1553,1270.5 1555,1271.4 1557,1272.4 1559,1273.4 1561,1274.3 1563,1275.3 1565,1276.2 1567,1277.1 1569,1278.1 1571,1279.0 1573,1279.9 1575,1280.8 1577,1281.6 1579,1282.5 1581,1283.4 1583,1284.3 1585,1285.1 1587,1285.9 1589,1286.8 1591,1287.6 1593,1288.4 1595,1289.2 1597,1290.0 1599,1290.8 1601,1291.6 1603,1292.4 1605,1293.2 1607,1293.9 1609,1294.7 1611,1295.5 1613,1296.2 1615,1296.9 1617,1297.7 1619,1298.4 1621,1299.1 1623,1299.8 1625,1300.5 1627,1301.2 1629,1301.9 1631,1302.6 1633,1303.2 1635,1303.9 1637,1304.5 1639,1305.2 1641,1305.8 1643,1306.5 1645,1307.1 1647,1307.7 1649,1308.4 1651,1309.0 1653,1309.6 1655,1310.2 1657,1310.8 1659,1311.4 1661,1311.9 1663,1312.5 1665,1313.1 1667,1313.6 1669,1314.2 1671,1314.7 1673,1315.3 1675,1315.8 1677,1316.4 1679,1316.9 1681,1317.4 1683,1317.9 1685,1318.4 1687,1319.0 1689,1319.5 1691,1319.9 1693,1320.4 1695,1320.9 1697,1321.4 1699,1321.9 1701,1322.4 1703,1322.8 1705,1323.3 1707,1323.7 1709,1324.2 1711,1324.6 1713,1325.1 1715,1325.5 1717,1325.9 1719,1326.4 1721,1326.8 1723,1327.2 1725,1327.6 1727,1328.0 1729,1328.4 1731,1328.8 1733,1329.2 1735,1329.6 1737,1330.0 1739,1330.4 1741,1330.8 1743,1331.2 1745,1331.5 1747,1331.9 1749,1332.3 1751,1332.6 1753,1333.0 1755,1333.3 1757,1333.7 1759,1334.0 1761,1334.4 1763,1334.7 1765,1335.0 1767,1335.4 1769,1335.7 1771,1336.0 1773,1336.3 1775,1336.7 1777,1337.0 1779,1337.3 1781,1337.6 1783,1337.9 1785,1338.2 1787,1338.5 1789,1338.8 1791,1339.1 1793,1339.4 1795,1339.6 1797,1339.9 1799,1340.2 1801,1340.5 1803,1340.7 1805,1341.0 1807,1341.3 1809,1341.5 1811,1341.8 1813,1342.1 1815,1342.3 1817,1342.6 1819,1342.8 1821,1343.1 1823,1343.3 1825,1343.6 1827,1343.8 1829,1344.0 1831,1344.3 1833,1344.5 1835,1344.7 1837,1345.0 1839,1345.2 1841,1345.4 1843,1345.6 1845,1345.8 1847,1346.1 1849,1346.3 1851,1346.5 1853,1346.7 1855,1346.9 1857,1347.1 1859,1347.3 1861,1347.5 1863,1347.7 1865,1347.9 1867,1348.1 1869,1348.3 1871,1348.5 1873,1348.6 1875,1348.8 1877,1349.0 1879,1349.2 1881,1349.4 1883,1349.5 1885,1349.7 1887,1349.9 1889,1350.1 1891,1350.2 1893,1350.4 1895,1350.6 1897,1350.7 1899,1350.9 1901,1351.1 1903,1351.2 1905,1351.4 1907,1351.5 1909,1351.7 1911,1351.8 1913,1352.0 1915,1352.1 1917,1352.3 1919,1352.4 1921,1352.6 1923,1352.7 1925,1352.8 1927,1353.0 1929,1353.1 1931,1353.3 1933,1353.4 1935,1353.5 1937,1353.7 1939,1353.8 1941,1353.9 1943,1354.0 1945,1354.2 1947,1354.3 1949,1354.4 1951,1354.5 1953,1354.7 1955,1354.8 1957,1354.9 1959,1355.0 1961,1355.1 1963,1355.2 1965,1355.4 1967,1355.5 1969,1355.6 1971,1355.7 1973,1355.8 1975,1355.9 1977,1356.0 1979,1356.1 1981,1356.2 1983,1356.3 1985,1356.4 1987,1356.5 1989,1356.6 1991,1356.7 1993,1356.8 1995,1356.9 1997,1357.0 1999,1357.1 2001,1357.2 2003,1357.3 2005,1357.4 2007,1357.4 2009,1357.5 2011,1357.6 2013,1357.7 2015,1357.8 2017,1357.9 2019,1358.0 2021,1358.0 2023,1358.1 2025,1358.2 2027,1358.3 2029,1358.4 2031,1358.4 2033,1358.5 2035,1358.6 2037,1358.7 2039,1358.7 2041,1358.8 2043,1358.9 2045,1358.9 2047,1359.0 2049,1359.1 2051,1359.2" fill="none" stroke="#1e9292" stroke-width="3.2" stroke-linejoin="round"/>
<polyline points="363,1362.3 365,1362.2 367,1362.1 369,1362.0 371,1362.0 373,1361.9 375,1361.8 377,1361.7 379,1361.6 381,1361.5 383,1361.4 385,1361.3 387,1361.2 389,1361.1 391,1361.0 393,1360.9 395,1360.8 397,1360.8 399,1360.7 401,1360.6 403,1360.5 405,1360.4 407,1360.2 409,1360.1 411,1360.0 413,1359.8 415,1359.7 417,1359.5 419,1359.3 421,1359.2 423,1359.0 425,1358.8 427,1358.6 429,1358.3 431,1358.1 433,1357.9 435,1357.6 437,1357.3 439,1357.0 441,1356.7 443,1356.4 445,1356.0 447,1355.6 449,1355.2 451,1354.8 453,1354.4 455,1353.9 457,1353.4 459,1352.9 461,1352.4 463,1351.8 465,1351.2 467,1350.5 469,1349.8 471,1349.1 473,1348.4 475,1347.6 477,1346.7 479,1345.8 481,1344.9 483,1343.9 485,1342.9 487,1341.9 489,1340.7 491,1339.6 493,1338.4 495,1337.1 497,1335.7 499,1334.4 501,1332.9 503,1331.4 505,1329.8 507,1328.2 509,1326.5 511,1324.8 513,1322.9 515,1321.0 517,1319.1 519,1317.0 521,1314.9 523,1312.8 525,1310.5 527,1308.2 529,1305.8 531,1303.3 533,1300.8 535,1298.1 537,1295.4 539,1292.7 541,1289.8 543,1286.9 545,1283.9 547,1280.8 549,1277.6 551,1274.3 553,1271.0 555,1267.6 557,1264.1 559,1260.5 561,1256.8 563,1253.1 565,1249.3 567,1245.4 569,1241.4 571,1237.3 573,1233.2 575,1229.0 577,1224.7 579,1220.3 581,1215.9 583,1211.4 585,1206.8 587,1202.1 589,1197.4 591,1192.6 593,1187.7 595,1182.8 597,1177.8 599,1172.7 601,1167.5 603,1162.3 605,1157.1 607,1151.7 609,1146.4 611,1140.9 613,1135.4 615,1129.9 617,1124.3 619,1118.6 621,1112.9 623,1107.2 625,1101.4 627,1095.5 629,1089.7 631,1083.7 633,1077.8 635,1071.8 637,1065.8 639,1059.7 641,1053.7 643,1047.6 645,1041.4 647,1035.3 649,1029.1 651,1022.9 653,1016.7 655,1010.5 657,1004.3 659,998.1 661,991.8 663,985.6 665,979.3 667,973.1 669,966.9 671,960.6 673,954.4 675,948.2 677,942.0 679,935.8 681,929.6 683,923.5 685,917.3 687,911.2 689,905.1 691,899.1 693,893.0 695,887.0 697,881.1 699,875.1 701,869.2 703,863.4 705,857.5 707,851.7 709,846.0 711,840.3 713,834.7 715,829.1 717,823.5 719,818.0 721,812.6 723,807.2 725,801.9 727,796.6 729,791.4 731,786.2 733,781.1 735,776.1 737,771.1 739,766.2 741,761.3 743,756.6 745,751.8 747,747.2 749,742.6 751,738.1 753,733.7 755,729.3 757,725.0 759,720.8 761,716.7 763,712.6 765,708.6 767,704.7 769,700.8 771,697.1 773,693.4 775,689.8 777,686.2 779,682.7 781,679.4 783,676.0 785,672.8 787,669.6 789,666.6 791,663.6 793,660.6 795,657.8 797,655.0 799,652.3 801,649.7 803,647.1 805,644.6 807,642.2 809,639.9 811,637.7 813,635.5 815,633.4 817,631.4 819,629.4 821,627.5 823,625.7 825,624.0 827,622.3 829,620.8 831,619.2 833,617.8 835,616.4 837,615.1 839,613.9 841,612.7 843,611.6 845,610.6 847,609.6 849,608.7 851,607.9 853,607.1 855,606.4 857,605.8 859,605.2 861,604.7 863,604.2 865,603.8 867,603.5 869,603.2 871,603.0 873,602.9 875,602.8 877,602.8 879,602.8 881,602.9 883,603.1 885,603.3 887,603.5 889,603.9 891,604.2 893,604.7 895,605.1 897,605.7 899,606.2 901,606.9 903,607.6 905,608.3 907,609.1 909,609.9 911,610.8 913,611.8 915,612.8 917,613.8 919,614.9 921,616.0 923,617.2 925,618.4 927,619.7 929,621.0 931,622.4 933,623.8 935,625.3 937,626.8 939,628.3 941,629.9 943,631.6 945,633.2 947,635.0 949,636.7 951,638.5 953,640.4 955,642.3 957,644.2 959,646.2 961,648.2 963,650.2 965,652.3 967,654.4 969,656.6 971,658.8 973,661.0 975,663.3 977,665.6 979,667.9 981,670.3 983,672.7 985,675.2 987,677.6 989,680.1 991,682.7 993,685.3 995,687.8 997,690.5 999,693.1 1001,695.8 1003,698.5 1005,701.3 1007,704.0 1009,706.8 1011,709.6 1013,712.5 1015,715.3 1017,718.2 1019,721.1 1021,724.0 1023,727.0 1025,729.9 1027,732.9 1029,735.9 1031,739.0 1033,742.0 1035,745.0 1037,748.1 1039,751.2 1041,754.3 1043,757.4 1045,760.5 1047,763.7 1049,766.8 1051,769.9 1053,773.1 1055,776.3 1057,779.5 1059,782.6 1061,785.8 1063,789.0 1065,792.2 1067,795.4 1069,798.6 1071,801.9 1073,805.1 1075,808.3 1077,811.5 1079,814.7 1081,817.9 1083,821.2 1085,824.4 1087,827.6 1089,830.8 1091,834.0 1093,837.2 1095,840.4 1097,843.6 1099,846.7 1101,849.9 1103,853.1 1105,856.3 1107,859.4 1109,862.6 1111,865.7 1113,868.8 1115,871.9 1117,875.1 1119,878.2 1121,881.2 1123,884.3 1125,887.4 1127,890.4 1129,893.5 1131,896.5 1133,899.5 1135,902.5 1137,905.5 1139,908.5 1141,911.5 1143,914.4 1145,917.4 1147,920.3 1149,923.2 1151,926.1 1153,929.0 1155,931.8 1157,934.7 1159,937.5 1161,940.3 1163,943.1 1165,945.9 1167,948.7 1169,951.5 1171,954.2 1173,957.0 1175,959.7 1177,962.4 1179,965.1 1181,967.7 1183,970.4 1185,973.0 1187,975.7 1189,978.3 1191,980.9 1193,983.5 1195,986.0 1197,988.6 1199,991.1 1201,993.7 1203,996.2 1205,998.7 1207,1001.2 1209,1003.6 1211,1006.1 1213,1008.5 1215,1011.0 1217,1013.4 1219,1015.8 1221,1018.2 1223,1020.6 1225,1022.9 1227,1025.3 1229,1027.6 1231,1030.0 1233,1032.3 1235,1034.6 1237,1036.9 1239,1039.2 1241,1041.4 1243,1043.7 1245,1045.9 1247,1048.2 1249,1050.4 1251,1052.6 1253,1054.8 1255,1057.0 1257,1059.2 1259,1061.4 1261,1063.5 1263,1065.7 1265,1067.8 1267,1070.0 1269,1072.1 1271,1074.2 1273,1076.3 1275,1078.4 1277,1080.5 1279,1082.6 1281,1084.6 1283,1086.7 1285,1088.7 1287,1090.8 1289,1092.8 1291,1094.8 1293,1096.8 1295,1098.8 1297,1100.8 1299,1102.8 1301,1104.8 1303,1106.7 1305,1108.7 1307,1110.6 1309,1112.6 1311,1114.5 1313,1116.4 1315,1118.4 1317,1120.3 1319,1122.2 1321,1124.1 1323,1125.9 1325,1127.8 1327,1129.7 1329,1131.5 1331,1133.4 1333,1135.2 1335,1137.1 1337,1138.9 1339,1140.7 1341,1142.5 1343,1144.3 1345,1146.1 1347,1147.9 1349,1149.6 1351,1151.4 1353,1153.2 1355,1154.9 1357,1156.7 1359,1158.4 1361,1160.1 1363,1161.8 1365,1163.5 1367,1165.2 1369,1166.9 1371,1168.6 1373,1170.3 1375,1171.9 1377,1173.6 1379,1175.2 1381,1176.9 1383,1178.5 1385,1180.1 1387,1181.7 1389,1183.3 1391,1184.9 1393,1186.5 1395,1188.1 1397,1189.7 1399,1191.2 1401,1192.8 1403,1194.3 1405,1195.8 1407,1197.4 1409,1198.9 1411,1200.4 1413,1201.9 1415,1203.4 1417,1204.8 1419,1206.3 1421,1207.8 1423,1209.2 1425,1210.7 1427,1212.1 1429,1213.5 1431,1214.9 1433,1216.3 1435,1217.7 1437,1219.1 1439,1220.5 1441,1221.9 1443,1223.2 1445,1224.6 1447,1225.9 1449,1227.2 1451,1228.6 1453,1229.9 1455,1231.2 1457,1232.5 1459,1233.8 1461,1235.0 1463,1236.3 1465,1237.6 1467,1238.8 1469,1240.0 1471,1241.3 1473,1242.5 1475,1243.7 1477,1244.9 1479,1246.1 1481,1247.3 1483,1248.5 1485,1249.6 1487,1250.8 1489,1251.9 1491,1253.1 1493,1254.2 1495,1255.3 1497,1256.4 1499,1257.5 1501,1258.6 1503,1259.7 1505,1260.7 1507,1261.8 1509,1262.9 1511,1263.9 1513,1265.0 1515,1266.0 1517,1267.0 1519,1268.0 1521,1269.0 1523,1270.0 1525,1271.0 1527,1272.0 1529,1272.9 1531,1273.9 1533,1274.8 1535,1275.8 1537,1276.7 1539,1277.6 1541,1278.6 1543,1279.5 1545,1280.4 1547,1281.2 1549,1282.1 1551,1283.0 1553,1283.9 1555,1284.7 1557,1285.6 1559,1286.4 1561,1287.3 1563,1288.1 1565,1288.9 1567,1289.7 1569,1290.5 1571,1291.3 1573,1292.1 1575,1292.9 1577,1293.6 1579,1294.4 1581,1295.2 1583,1295.9 1585,1296.7 1587,1297.4 1589,1298.1 1591,1298.8 1593,1299.6 1595,1300.3 1597,1301.0 1599,1301.7 1601,1302.3 1603,1303.0 1605,1303.7 1607,1304.4 1609,1305.0 1611,1305.7 1613,1306.3 1615,1306.9 1617,1307.6 1619,1308.2 1621,1308.8 1623,1309.4 1625,1310.0 1627,1310.6 1629,1311.2 1631,1311.8 1633,1312.4 1635,1313.0 1637,1313.5 1639,1314.1 1641,1314.7 1643,1315.2 1645,1315.8 1647,1316.3 1649,1316.8 1651,1317.4 1653,1317.9 1655,1318.4 1657,1318.9 1659,1319.4 1661,1319.9 1663,1320.4 1665,1320.9 1667,1321.4 1669,1321.9 1671,1322.4 1673,1322.8 1675,1323.3 1677,1323.7 1679,1324.2 1681,1324.7 1683,1325.1 1685,1325.5 1687,1326.0 1689,1326.4 1691,1326.8 1693,1327.3 1695,1327.7 1697,1328.1 1699,1328.5 1701,1328.9 1703,1329.3 1705,1329.7 1707,1330.1 1709,1330.5 1711,1330.9 1713,1331.2 1715,1331.6 1717,1332.0 1719,1332.3 1721,1332.7 1723,1333.1 1725,1333.4 1727,1333.8 1729,1334.1 1731,1334.5 1733,1334.8 1735,1335.1 1737,1335.5 1739,1335.8 1741,1336.1 1743,1336.5 1745,1336.8 1747,1337.1 1749,1337.4 1751,1337.7 1753,1338.0 1755,1338.3 1757,1338.6 1759,1338.9 1761,1339.2 1763,1339.5 1765,1339.8 1767,1340.1 1769,1340.3 1771,1340.6 1773,1340.9 1775,1341.2 1777,1341.4 1779,1341.7 1781,1341.9 1783,1342.2 1785,1342.5 1787,1342.7 1789,1343.0 1791,1343.2 1793,1343.5 1795,1343.7 1797,1343.9 1799,1344.2 1801,1344.4 1803,1344.6 1805,1344.9 1807,1345.1 1809,1345.3 1811,1345.5 1813,1345.8 1815,1346.0 1817,1346.2 1819,1346.4 1821,1346.6 1823,1346.8 1825,1347.0 1827,1347.2 1829,1347.4 1831,1347.6 1833,1347.8 1835,1348.0 1837,1348.2 1839,1348.4 1841,1348.6 1843,1348.8 1845,1349.0 1847,1349.2 1849,1349.3 1851,1349.5 1853,1349.7 1855,1349.9 1857,1350.0 1859,1350.2 1861,1350.4 1863,1350.5 1865,1350.7 1867,1350.9 1869,1351.0 1871,1351.2 1873,1351.4 1875,1351.5 1877,1351.7 1879,1351.8 1881,1352.0 1883,1352.1 1885,1352.3 1887,1352.4 1889,1352.6 1891,1352.7 1893,1352.8 1895,1353.0 1897,1353.1 1899,1353.3 1901,1353.4 1903,1353.5 1905,1353.7 1907,1353.8 1909,1353.9 1911,1354.0 1913,1354.2 1915,1354.3 1917,1354.4 1919,1354.5 1921,1354.7 1923,1354.8 1925,1354.9 1927,1355.0 1929,1355.1 1931,1355.2 1933,1355.4 1935,1355.5 1937,1355.6 1939,1355.7 1941,1355.8 1943,1355.9 1945,1356.0 1947,1356.1 1949,1356.2 1951,1356.3 1953,1356.4 1955,1356.5 1957,1356.6 1959,1356.7 1961,1356.8 1963,1356.9 1965,1357.0 1967,1357.1 1969,1357.2 1971,1357.3 1973,1357.4 1975,1357.5 1977,1357.5 1979,1357.6 1981,1357.7 1983,1357.8 1985,1357.9 1987,1358.0 1989,1358.1 1991,1358.1 1993,1358.2 1995,1358.3 1997,1358.4 1999,1358.5 2001,1358.5 2003,1358.6 2005,1358.7 2007,1358.8 2009,1358.8 2011,1358.9 2013,1359.0 2015,1359.0 2017,1359.1 2019,1359.2 2021,1359.2 2023,1359.3 2025,1359.4 2027,1359.4 2029,1359.5 2031,1359.6 2033,1359.6 2035,1359.7 2037,1359.8 2039,1359.8 2041,1359.9 2043,1359.9 2045,1360.0 2047,1360.1 2049,1360.1 2051,1360.2" fill="none" stroke="#800000" stroke-width="3.4" stroke-linejoin="round"/>
<polyline points="363,1362.8 365,1362.8 367,1362.7 369,1362.7 371,1362.6 373,1362.5 375,1362.5 377,1362.4 379,1362.3 381,1362.3 383,1362.2 385,1362.1 387,1362.0 389,1362.0 391,1361.9 393,1361.9 395,1361.8 397,1361.7 399,1361.7 401,1361.6 403,1361.5 405,1361.4 407,1361.3 409,1361.2 411,1361.1 413,1361.0 415,1360.9 417,1360.8 419,1360.7 421,1360.5 423,1360.4 425,1360.2 427,1360.1 429,1359.9 431,1359.7 433,1359.6 435,1359.4 437,1359.1 439,1358.9 441,1358.7 443,1358.4 445,1358.2 447,1357.9 449,1357.6 451,1357.3 453,1357.0 455,1356.6 457,1356.2 459,1355.9 461,1355.4 463,1355.0 465,1354.6 467,1354.1 469,1353.6 471,1353.0 473,1352.5 475,1351.9 477,1351.3 479,1350.6 481,1349.9 483,1349.2 485,1348.5 487,1347.7 489,1346.8 491,1346.0 493,1345.1 495,1344.1 497,1343.2 499,1342.1 501,1341.1 503,1340.0 505,1338.8 507,1337.6 509,1336.4 511,1335.1 513,1333.7 515,1332.4 517,1330.9 519,1329.4 521,1327.9 523,1326.3 525,1324.7 527,1323.0 529,1321.2 531,1319.4 533,1317.6 535,1315.6 537,1313.7 539,1311.7 541,1309.6 543,1307.4 545,1305.2 547,1303.0 549,1300.7 551,1298.3 553,1295.9 555,1293.4 557,1290.9 559,1288.3 561,1285.6 563,1282.9 565,1280.1 567,1277.3 569,1274.4 571,1271.5 573,1268.5 575,1265.5 577,1262.4 579,1259.2 581,1256.0 583,1252.7 585,1249.4 587,1246.0 589,1242.6 591,1239.1 593,1235.6 595,1232.0 597,1228.4 599,1224.8 601,1221.1 603,1217.3 605,1213.5 607,1209.7 609,1205.8 611,1201.8 613,1197.9 615,1193.9 617,1189.8 619,1185.8 621,1181.7 623,1177.5 625,1173.3 627,1169.1 629,1164.9 631,1160.6 633,1156.4 635,1152.1 637,1147.7 639,1143.4 641,1139.0 643,1134.6 645,1130.2 647,1125.8 649,1121.3 651,1116.9 653,1112.4 655,1108.0 657,1103.5 659,1099.0 661,1094.5 663,1090.0 665,1085.5 667,1081.0 669,1076.6 671,1072.1 673,1067.6 675,1063.1 677,1058.7 679,1054.2 681,1049.8 683,1045.4 685,1040.9 687,1036.5 689,1032.2 691,1027.8 693,1023.5 695,1019.1 697,1014.9 699,1010.6 701,1006.3 703,1002.1 705,997.9 707,993.8 709,989.6 711,985.6 713,981.5 715,977.5 717,973.5 719,969.5 721,965.6 723,961.7 725,957.9 727,954.1 729,950.3 731,946.6 733,942.9 735,939.3 737,935.7 739,932.2 741,928.7 743,925.3 745,921.9 747,918.5 749,915.2 751,912.0 753,908.8 755,905.6 757,902.6 759,899.5 761,896.5 763,893.6 765,890.7 767,887.9 769,885.1 771,882.4 773,879.7 775,877.1 777,874.5 779,872.0 781,869.6 783,867.2 785,864.8 787,862.6 789,860.3 791,858.1 793,856.0 795,854.0 797,851.9 799,850.0 801,848.1 803,846.2 805,844.4 807,842.7 809,841.0 811,839.4 813,837.8 815,836.3 817,834.8 819,833.4 821,832.0 823,830.7 825,829.4 827,828.2 829,827.1 831,826.0 833,824.9 835,823.9 837,822.9 839,822.0 841,821.2 843,820.4 845,819.6 847,818.9 849,818.2 851,817.6 853,817.0 855,816.5 857,816.0 859,815.6 861,815.2 863,814.9 865,814.6 867,814.3 869,814.1 871,813.9 873,813.8 875,813.7 877,813.7 879,813.7 881,813.8 883,813.8 885,814.0 887,814.1 889,814.3 891,814.6 893,814.9 895,815.2 897,815.6 899,816.0 901,816.4 903,816.9 905,817.4 907,817.9 909,818.5 911,819.1 913,819.8 915,820.5 917,821.2 919,822.0 921,822.7 923,823.6 925,824.4 927,825.3 929,826.3 931,827.2 933,828.2 935,829.3 937,830.3 939,831.4 941,832.5 943,833.7 945,834.9 947,836.1 949,837.3 951,838.6 953,839.9 955,841.2 957,842.6 959,844.0 961,845.4 963,846.9 965,848.4 967,849.9 969,851.4 971,853.0 973,854.5 975,856.1 977,857.8 979,859.4 981,861.1 983,862.8 985,864.6 987,866.3 989,868.1 991,869.9 993,871.7 995,873.6 997,875.5 999,877.3 1001,879.3 1003,881.2 1005,883.1 1007,885.1 1009,887.1 1011,889.1 1013,891.1 1015,893.2 1017,895.2 1019,897.3 1021,899.4 1023,901.5 1025,903.6 1027,905.7 1029,907.9 1031,910.0 1033,912.2 1035,914.4 1037,916.6 1039,918.8 1041,921.0 1043,923.2 1045,925.4 1047,927.7 1049,929.9 1051,932.2 1053,934.5 1055,936.7 1057,939.0 1059,941.3 1061,943.6 1063,945.9 1065,948.2 1067,950.5 1069,952.8 1071,955.1 1073,957.4 1075,959.7 1077,962.0 1079,964.3 1081,966.6 1083,968.9 1085,971.2 1087,973.5 1089,975.9 1091,978.2 1093,980.5 1095,982.8 1097,985.1 1099,987.3 1101,989.6 1103,991.9 1105,994.2 1107,996.5 1109,998.7 1111,1001.0 1113,1003.3 1115,1005.5 1117,1007.7 1119,1010.0 1121,1012.2 1123,1014.4 1125,1016.6 1127,1018.8 1129,1021.0 1131,1023.2 1133,1025.4 1135,1027.6 1137,1029.7 1139,1031.9 1141,1034.0 1143,1036.2 1145,1038.3 1147,1040.4 1149,1042.5 1151,1044.6 1153,1046.7 1155,1048.8 1157,1050.8 1159,1052.9 1161,1054.9 1163,1057.0 1165,1059.0 1167,1061.0 1169,1063.0 1171,1065.0 1173,1066.9 1175,1068.9 1177,1070.9 1179,1072.8 1181,1074.8 1183,1076.7 1185,1078.6 1187,1080.5 1189,1082.4 1191,1084.3 1193,1086.1 1195,1088.0 1197,1089.9 1199,1091.7 1201,1093.5 1203,1095.4 1205,1097.2 1207,1099.0 1209,1100.8 1211,1102.5 1213,1104.3 1215,1106.1 1217,1107.8 1219,1109.6 1221,1111.3 1223,1113.0 1225,1114.7 1227,1116.5 1229,1118.2 1231,1119.8 1233,1121.5 1235,1123.2 1237,1124.9 1239,1126.5 1241,1128.2 1243,1129.8 1245,1131.4 1247,1133.0 1249,1134.7 1251,1136.3 1253,1137.9 1255,1139.4 1257,1141.0 1259,1142.6 1261,1144.2 1263,1145.7 1265,1147.3 1267,1148.8 1269,1150.4 1271,1151.9 1273,1153.4 1275,1154.9 1277,1156.4 1279,1157.9 1281,1159.4 1283,1160.9 1285,1162.4 1287,1163.9 1289,1165.4 1291,1166.8 1293,1168.3 1295,1169.7 1297,1171.2 1299,1172.6 1301,1174.0 1303,1175.5 1305,1176.9 1307,1178.3 1309,1179.7 1311,1181.1 1313,1182.5 1315,1183.9 1317,1185.3 1319,1186.6 1321,1188.0 1323,1189.4 1325,1190.7 1327,1192.1 1329,1193.4 1331,1194.8 1333,1196.1 1335,1197.4 1337,1198.7 1339,1200.1 1341,1201.4 1343,1202.7 1345,1204.0 1347,1205.3 1349,1206.5 1351,1207.8 1353,1209.1 1355,1210.4 1357,1211.6 1359,1212.9 1361,1214.1 1363,1215.4 1365,1216.6 1367,1217.9 1369,1219.1 1371,1220.3 1373,1221.5 1375,1222.7 1377,1223.9 1379,1225.1 1381,1226.3 1383,1227.5 1385,1228.7 1387,1229.8 1389,1231.0 1391,1232.2 1393,1233.3 1395,1234.5 1397,1235.6 1399,1236.7 1401,1237.9 1403,1239.0 1405,1240.1 1407,1241.2 1409,1242.3 1411,1243.4 1413,1244.5 1415,1245.6 1417,1246.7 1419,1247.7 1421,1248.8 1423,1249.8 1425,1250.9 1427,1251.9 1429,1253.0 1431,1254.0 1433,1255.0 1435,1256.0 1437,1257.1 1439,1258.1 1441,1259.1 1443,1260.1 1445,1261.0 1447,1262.0 1449,1263.0 1451,1264.0 1453,1264.9 1455,1265.9 1457,1266.8 1459,1267.7 1461,1268.7 1463,1269.6 1465,1270.5 1467,1271.4 1469,1272.3 1471,1273.2 1473,1274.1 1475,1275.0 1477,1275.9 1479,1276.8 1481,1277.6 1483,1278.5 1485,1279.3 1487,1280.2 1489,1281.0 1491,1281.9 1493,1282.7 1495,1283.5 1497,1284.3 1499,1285.1 1501,1285.9 1503,1286.7 1505,1287.5 1507,1288.3 1509,1289.1 1511,1289.8 1513,1290.6 1515,1291.3 1517,1292.1 1519,1292.8 1521,1293.6 1523,1294.3 1525,1295.0 1527,1295.7 1529,1296.5 1531,1297.2 1533,1297.9 1535,1298.5 1537,1299.2 1539,1299.9 1541,1300.6 1543,1301.3 1545,1301.9 1547,1302.6 1549,1303.2 1551,1303.9 1553,1304.5 1555,1305.1 1557,1305.8 1559,1306.4 1561,1307.0 1563,1307.6 1565,1308.2 1567,1308.8 1569,1309.4 1571,1310.0 1573,1310.6 1575,1311.1 1577,1311.7 1579,1312.3 1581,1312.8 1583,1313.4 1585,1313.9 1587,1314.5 1589,1315.0 1591,1315.5 1593,1316.1 1595,1316.6 1597,1317.1 1599,1317.6 1601,1318.1 1603,1318.6 1605,1319.1 1607,1319.6 1609,1320.1 1611,1320.6 1613,1321.1 1615,1321.5 1617,1322.0 1619,1322.5 1621,1322.9 1623,1323.4 1625,1323.8 1627,1324.3 1629,1324.7 1631,1325.1 1633,1325.6 1635,1326.0 1637,1326.4 1639,1326.8 1641,1327.3 1643,1327.7 1645,1328.1 1647,1328.5 1649,1328.9 1651,1329.3 1653,1329.6 1655,1330.0 1657,1330.4 1659,1330.8 1661,1331.2 1663,1331.5 1665,1331.9 1667,1332.2 1669,1332.6 1671,1333.0 1673,1333.3 1675,1333.6 1677,1334.0 1679,1334.3 1681,1334.7 1683,1335.0 1685,1335.3 1687,1335.6 1689,1336.0 1691,1336.3 1693,1336.6 1695,1336.9 1697,1337.2 1699,1337.5 1701,1337.8 1703,1338.1 1705,1338.4 1707,1338.7 1709,1339.0 1711,1339.3 1713,1339.6 1715,1339.8 1717,1340.1 1719,1340.4 1721,1340.7 1723,1340.9 1725,1341.2 1727,1341.4 1729,1341.7 1731,1342.0 1733,1342.2 1735,1342.5 1737,1342.7 1739,1343.0 1741,1343.2 1743,1343.4 1745,1343.7 1747,1343.9 1749,1344.1 1751,1344.4 1753,1344.6 1755,1344.8 1757,1345.0 1759,1345.3 1761,1345.5 1763,1345.7 1765,1345.9 1767,1346.1 1769,1346.3 1771,1346.5 1773,1346.7 1775,1346.9 1777,1347.1 1779,1347.3 1781,1347.5 1783,1347.7 1785,1347.9 1787,1348.1 1789,1348.3 1791,1348.5 1793,1348.7 1795,1348.8 1797,1349.0 1799,1349.2 1801,1349.4 1803,1349.5 1805,1349.7 1807,1349.9 1809,1350.1 1811,1350.2 1813,1350.4 1815,1350.5 1817,1350.7 1819,1350.9 1821,1351.0 1823,1351.2 1825,1351.3 1827,1351.5 1829,1351.6 1831,1351.8 1833,1351.9 1835,1352.1 1837,1352.2 1839,1352.4 1841,1352.5 1843,1352.6 1845,1352.8 1847,1352.9 1849,1353.1 1851,1353.2 1853,1353.3 1855,1353.4 1857,1353.6 1859,1353.7 1861,1353.8 1863,1354.0 1865,1354.1 1867,1354.2 1869,1354.3 1871,1354.4 1873,1354.6 1875,1354.7 1877,1354.8 1879,1354.9 1881,1355.0 1883,1355.1 1885,1355.2 1887,1355.4 1889,1355.5 1891,1355.6 1893,1355.7 1895,1355.8 1897,1355.9 1899,1356.0 1901,1356.1 1903,1356.2 1905,1356.3 1907,1356.4 1909,1356.5 1911,1356.6 1913,1356.7 1915,1356.8 1917,1356.9 1919,1357.0 1921,1357.0 1923,1357.1 1925,1357.2 1927,1357.3 1929,1357.4 1931,1357.5 1933,1357.6 1935,1357.6 1937,1357.7 1939,1357.8 1941,1357.9 1943,1358.0 1945,1358.1 1947,1358.1 1949,1358.2 1951,1358.3 1953,1358.4 1955,1358.4 1957,1358.5 1959,1358.6 1961,1358.7 1963,1358.7 1965,1358.8 1967,1358.9 1969,1358.9 1971,1359.0 1973,1359.1 1975,1359.1 1977,1359.2 1979,1359.3 1981,1359.3 1983,1359.4 1985,1359.5 1987,1359.5 1989,1359.6 1991,1359.7 1993,1359.7 1995,1359.8 1997,1359.8 1999,1359.9 2001,1359.9 2003,1360.0 2005,1360.1 2007,1360.1 2009,1360.2 2011,1360.2 2013,1360.3 2015,1360.3 2017,1360.4 2019,1360.4 2021,1360.5 2023,1360.5 2025,1360.6 2027,1360.6 2029,1360.7 2031,1360.7 2033,1360.8 2035,1360.8 2037,1360.9 2039,1360.9 2041,1361.0 2043,1361.0 2045,1361.1 2047,1361.1 2049,1361.1 2051,1361.2" fill="none" stroke="#808000" stroke-width="3.2" stroke-linejoin="round"/>
<polyline points="363,1363.3 365,1363.2 367,1363.2 369,1363.1 371,1363.1 373,1363.0 375,1363.0 377,1362.9 379,1362.9 381,1362.8 383,1362.8 385,1362.7 387,1362.7 389,1362.6 391,1362.5 393,1362.5 395,1362.4 397,1362.3 399,1362.2 401,1362.2 403,1362.2 405,1362.1 407,1362.1 409,1362.0 411,1361.9 413,1361.9 415,1361.8 417,1361.7 419,1361.6 421,1361.5 423,1361.5 425,1361.4 427,1361.3 429,1361.1 431,1361.0 433,1360.9 435,1360.8 437,1360.6 439,1360.5 441,1360.3 443,1360.2 445,1360.0 447,1359.8 449,1359.7 451,1359.5 453,1359.2 455,1359.0 457,1358.8 459,1358.5 461,1358.3 463,1358.0 465,1357.7 467,1357.4 469,1357.1 471,1356.7 473,1356.3 475,1356.0 477,1355.5 479,1355.1 481,1354.7 483,1354.2 485,1353.7 487,1353.2 489,1352.6 491,1352.0 493,1351.4 495,1350.8 497,1350.1 499,1349.4 501,1348.7 503,1347.9 505,1347.1 507,1346.3 509,1345.4 511,1344.5 513,1343.5 515,1342.6 517,1341.5 519,1340.5 521,1339.4 523,1338.2 525,1337.0 527,1335.8 529,1334.5 531,1333.2 533,1331.8 535,1330.4 537,1329.0 539,1327.5 541,1325.9 543,1324.3 545,1322.7 547,1321.0 549,1319.2 551,1317.4 553,1315.6 555,1313.7 557,1311.8 559,1309.8 561,1307.7 563,1305.6 565,1303.5 567,1301.3 569,1299.0 571,1296.7 573,1294.3 575,1291.9 577,1289.5 579,1287.0 581,1284.4 583,1281.8 585,1279.2 587,1276.4 589,1273.7 591,1270.9 593,1268.0 595,1265.1 597,1262.2 599,1259.2 601,1256.1 603,1253.1 605,1249.9 607,1246.8 609,1243.5 611,1240.3 613,1237.0 615,1233.6 617,1230.3 619,1226.8 621,1223.4 623,1219.9 625,1216.3 627,1212.8 629,1209.2 631,1205.5 633,1201.9 635,1198.2 637,1194.5 639,1190.7 641,1186.9 643,1183.1 645,1179.3 647,1175.5 649,1171.6 651,1167.7 653,1163.8 655,1159.9 657,1155.9 659,1152.0 661,1148.0 663,1144.0 665,1140.0 667,1136.0 669,1132.0 671,1128.0 673,1124.0 675,1119.9 677,1115.9 679,1111.9 681,1107.9 683,1103.8 685,1099.8 687,1095.8 689,1091.8 691,1087.8 693,1083.8 695,1079.8 697,1075.8 699,1071.9 701,1067.9 703,1064.0 705,1060.1 707,1056.2 709,1052.3 711,1048.5 713,1044.6 715,1040.8 717,1037.0 719,1033.3 721,1029.5 723,1025.8 725,1022.1 727,1018.5 729,1014.9 731,1011.3 733,1007.7 735,1004.2 737,1000.7 739,997.3 741,993.9 743,990.5 745,987.1 747,983.8 749,980.6 751,977.3 753,974.2 755,971.0 757,967.9 759,964.9 761,961.8 763,958.9 765,955.9 767,953.1 769,950.2 771,947.4 773,944.7 775,942.0 777,939.3 779,936.7 781,934.2 783,931.7 785,929.2 787,926.8 789,924.4 791,922.1 793,919.8 795,917.6 797,915.4 799,913.3 801,911.2 803,909.2 805,907.2 807,905.3 809,903.4 811,901.6 813,899.8 815,898.1 817,896.4 819,894.7 821,893.2 823,891.6 825,890.1 827,888.7 829,887.3 831,885.9 833,884.6 835,883.4 837,882.2 839,881.0 841,879.9 843,878.8 845,877.8 847,876.8 849,875.9 851,875.0 853,874.1 855,873.3 857,872.6 859,871.8 861,871.2 863,870.5 865,870.0 867,869.4 869,868.9 871,868.4 873,868.0 875,867.6 877,867.3 879,867.0 881,866.7 883,866.5 885,866.3 887,866.2 889,866.1 891,866.0 893,866.0 895,866.0 897,866.1 899,866.1 901,866.3 903,866.4 905,866.6 907,866.9 909,867.1 911,867.4 913,867.8 915,868.2 917,868.6 919,869.0 921,869.5 923,870.0 925,870.6 927,871.2 929,871.8 931,872.4 933,873.1 935,873.8 937,874.6 939,875.4 941,876.2 943,877.0 945,877.9 947,878.8 949,879.8 951,880.7 953,881.7 955,882.8 957,883.8 959,884.9 961,886.0 963,887.2 965,888.3 967,889.5 969,890.8 971,892.0 973,893.3 975,894.6 977,896.0 979,897.3 981,898.7 983,900.1 985,901.6 987,903.0 989,904.5 991,906.0 993,907.6 995,909.1 997,910.7 999,912.3 1001,913.9 1003,915.6 1005,917.3 1007,919.0 1009,920.7 1011,922.4 1013,924.2 1015,925.9 1017,927.7 1019,929.5 1021,931.3 1023,933.2 1025,935.0 1027,936.9 1029,938.8 1031,940.7 1033,942.6 1035,944.6 1037,946.5 1039,948.5 1041,950.5 1043,952.4 1045,954.4 1047,956.4 1049,958.5 1051,960.5 1053,962.5 1055,964.6 1057,966.7 1059,968.7 1061,970.8 1063,972.9 1065,975.0 1067,977.1 1069,979.2 1071,981.3 1073,983.4 1075,985.5 1077,987.6 1079,989.8 1081,991.9 1083,994.0 1085,996.1 1087,998.3 1089,1000.4 1091,1002.5 1093,1004.7 1095,1006.8 1097,1008.9 1099,1011.1 1101,1013.2 1103,1015.3 1105,1017.4 1107,1019.6 1109,1021.7 1111,1023.8 1113,1025.9 1115,1028.0 1117,1030.1 1119,1032.2 1121,1034.3 1123,1036.4 1125,1038.5 1127,1040.5 1129,1042.6 1131,1044.7 1133,1046.7 1135,1048.8 1137,1050.8 1139,1052.8 1141,1054.9 1143,1056.9 1145,1058.9 1147,1060.9 1149,1062.9 1151,1064.9 1153,1066.8 1155,1068.8 1157,1070.7 1159,1072.7 1161,1074.6 1163,1076.6 1165,1078.5 1167,1080.4 1169,1082.3 1171,1084.2 1173,1086.0 1175,1087.9 1177,1089.8 1179,1091.6 1181,1093.4 1183,1095.3 1185,1097.1 1187,1098.9 1189,1100.7 1191,1102.5 1193,1104.2 1195,1106.0 1197,1107.8 1199,1109.5 1201,1111.3 1203,1113.0 1205,1114.7 1207,1116.4 1209,1118.1 1211,1119.8 1213,1121.5 1215,1123.1 1217,1124.8 1219,1126.5 1221,1128.1 1223,1129.7 1225,1131.3 1227,1133.0 1229,1134.6 1231,1136.2 1233,1137.8 1235,1139.3 1237,1140.9 1239,1142.5 1241,1144.0 1243,1145.6 1245,1147.1 1247,1148.6 1249,1150.2 1251,1151.7 1253,1153.2 1255,1154.7 1257,1156.2 1259,1157.6 1261,1159.1 1263,1160.6 1265,1162.1 1267,1163.5 1269,1165.0 1271,1166.4 1273,1167.8 1275,1169.3 1277,1170.7 1279,1172.1 1281,1173.5 1283,1174.9 1285,1176.3 1287,1177.7 1289,1179.1 1291,1180.4 1293,1181.8 1295,1183.2 1297,1184.5 1299,1185.9 1301,1187.2 1303,1188.5 1305,1189.9 1307,1191.2 1309,1192.5 1311,1193.8 1313,1195.1 1315,1196.4 1317,1197.7 1319,1199.0 1321,1200.3 1323,1201.6 1325,1202.9 1327,1204.1 1329,1205.4 1331,1206.6 1333,1207.9 1335,1209.1 1337,1210.4 1339,1211.6 1341,1212.8 1343,1214.1 1345,1215.3 1347,1216.5 1349,1217.7 1351,1218.9 1353,1220.1 1355,1221.3 1357,1222.5 1359,1223.6 1361,1224.8 1363,1226.0 1365,1227.1 1367,1228.3 1369,1229.4 1371,1230.6 1373,1231.7 1375,1232.9 1377,1234.0 1379,1235.1 1381,1236.2 1383,1237.3 1385,1238.4 1387,1239.5 1389,1240.6 1391,1241.7 1393,1242.8 1395,1243.9 1397,1244.9 1399,1246.0 1401,1247.1 1403,1248.1 1405,1249.2 1407,1250.2 1409,1251.2 1411,1252.3 1413,1253.3 1415,1254.3 1417,1255.3 1419,1256.3 1421,1257.3 1423,1258.3 1425,1259.3 1427,1260.3 1429,1261.2 1431,1262.2 1433,1263.2 1435,1264.1 1437,1265.1 1439,1266.0 1441,1266.9 1443,1267.9 1445,1268.8 1447,1269.7 1449,1270.6 1451,1271.5 1453,1272.4 1455,1273.3 1457,1274.2 1459,1275.1 1461,1276.0 1463,1276.8 1465,1277.7 1467,1278.5 1469,1279.4 1471,1280.2 1473,1281.1 1475,1281.9 1477,1282.7 1479,1283.5 1481,1284.3 1483,1285.2 1485,1285.9 1487,1286.7 1489,1287.5 1491,1288.3 1493,1289.1 1495,1289.8 1497,1290.6 1499,1291.4 1501,1292.1 1503,1292.9 1505,1293.6 1507,1294.3 1509,1295.1 1511,1295.8 1513,1296.5 1515,1297.2 1517,1297.9 1519,1298.6 1521,1299.3 1523,1300.0 1525,1300.6 1527,1301.3 1529,1302.0 1531,1302.6 1533,1303.3 1535,1303.9 1537,1304.6 1539,1305.2 1541,1305.8 1543,1306.5 1545,1307.1 1547,1307.7 1549,1308.3 1551,1308.9 1553,1309.5 1555,1310.1 1557,1310.7 1559,1311.2 1561,1311.8 1563,1312.4 1565,1313.0 1567,1313.5 1569,1314.1 1571,1314.6 1573,1315.2 1575,1315.7 1577,1316.2 1579,1316.7 1581,1317.3 1583,1317.8 1585,1318.3 1587,1318.8 1589,1319.3 1591,1319.8 1593,1320.3 1595,1320.8 1597,1321.2 1599,1321.7 1601,1322.2 1603,1322.7 1605,1323.1 1607,1323.6 1609,1324.0 1611,1324.5 1613,1324.9 1615,1325.4 1617,1325.8 1619,1326.2 1621,1326.7 1623,1327.1 1625,1327.5 1627,1327.9 1629,1328.3 1631,1328.7 1633,1329.1 1635,1329.5 1637,1329.9 1639,1330.3 1641,1330.7 1643,1331.0 1645,1331.4 1647,1331.8 1649,1332.2 1651,1332.5 1653,1332.9 1655,1333.2 1657,1333.6 1659,1333.9 1661,1334.3 1663,1334.6 1665,1335.0 1667,1335.3 1669,1335.6 1671,1335.9 1673,1336.3 1675,1336.6 1677,1336.9 1679,1337.2 1681,1337.5 1683,1337.8 1685,1338.1 1687,1338.4 1689,1338.7 1691,1339.0 1693,1339.3 1695,1339.6 1697,1339.9 1699,1340.1 1701,1340.4 1703,1340.7 1705,1341.0 1707,1341.2 1709,1341.5 1711,1341.8 1713,1342.0 1715,1342.3 1717,1342.5 1719,1342.8 1721,1343.0 1723,1343.3 1725,1343.5 1727,1343.8 1729,1344.0 1731,1344.2 1733,1344.5 1735,1344.7 1737,1344.9 1739,1345.1 1741,1345.4 1743,1345.6 1745,1345.8 1747,1346.0 1749,1346.2 1751,1346.4 1753,1346.7 1755,1346.9 1757,1347.1 1759,1347.3 1761,1347.5 1763,1347.7 1765,1347.9 1767,1348.0 1769,1348.2 1771,1348.4 1773,1348.6 1775,1348.8 1777,1349.0 1779,1349.2 1781,1349.3 1783,1349.5 1785,1349.7 1787,1349.9 1789,1350.0 1791,1350.2 1793,1350.4 1795,1350.5 1797,1350.7 1799,1350.9 1801,1351.0 1803,1351.2 1805,1351.3 1807,1351.5 1809,1351.6 1811,1351.8 1813,1351.9 1815,1352.1 1817,1352.2 1819,1352.4 1821,1352.5 1823,1352.7 1825,1352.8 1827,1352.9 1829,1353.1 1831,1353.2 1833,1353.3 1835,1353.5 1837,1353.6 1839,1353.7 1841,1353.9 1843,1354.0 1845,1354.1 1847,1354.2 1849,1354.4 1851,1354.5 1853,1354.6 1855,1354.7 1857,1354.8 1859,1354.9 1861,1355.1 1863,1355.2 1865,1355.3 1867,1355.4 1869,1355.5 1871,1355.6 1873,1355.7 1875,1355.8 1877,1355.9 1879,1356.0 1881,1356.1 1883,1356.2 1885,1356.3 1887,1356.4 1889,1356.5 1891,1356.6 1893,1356.7 1895,1356.8 1897,1356.9 1899,1357.0 1901,1357.1 1903,1357.2 1905,1357.3 1907,1357.4 1909,1357.4 1911,1357.5 1913,1357.6 1915,1357.7 1917,1357.8 1919,1357.9 1921,1358.0 1923,1358.0 1925,1358.1 1927,1358.2 1929,1358.3 1931,1358.3 1933,1358.4 1935,1358.5 1937,1358.6 1939,1358.6 1941,1358.7 1943,1358.8 1945,1358.9 1947,1358.9 1949,1359.0 1951,1359.1 1953,1359.1 1955,1359.2 1957,1359.3 1959,1359.3 1961,1359.4 1963,1359.5 1965,1359.5 1967,1359.6 1969,1359.7 1971,1359.7 1973,1359.8 1975,1359.8 1977,1359.9 1979,1359.9 1981,1360.0 1983,1360.1 1985,1360.1 1987,1360.2 1989,1360.2 1991,1360.3 1993,1360.3 1995,1360.4 1997,1360.4 1999,1360.5 2001,1360.5 2003,1360.6 2005,1360.6 2007,1360.7 2009,1360.7 2011,1360.8 2013,1360.8 2015,1360.9 2017,1360.9 2019,1361.0 2021,1361.0 2023,1361.1 2025,1361.1 2027,1361.2 2029,1361.2 2031,1361.2 2033,1361.3 2035,1361.3 2037,1361.4 2039,1361.4 2041,1361.5 2043,1361.5 2045,1361.5 2047,1361.6 2049,1361.6 2051,1361.6" fill="none" stroke="#0000ff" stroke-width="3.2" stroke-linejoin="round"/>
<polyline points="363,1360.2 365,1360.1 367,1359.9 369,1359.8 371,1359.6 373,1359.5 375,1359.4 377,1359.3 379,1359.2 381,1359.1 383,1359.0 385,1358.8 387,1358.7 389,1358.5 391,1358.3 393,1358.1 395,1357.9 397,1357.7 399,1357.5 401,1357.3 403,1357.0 405,1356.8 407,1356.5 409,1356.2 411,1355.9 413,1355.6 415,1355.3 417,1354.9 419,1354.5 421,1354.2 423,1353.7 425,1353.3 427,1352.8 429,1352.3 431,1351.8 433,1351.3 435,1350.7 437,1350.1 439,1349.4 441,1348.8 443,1348.0 445,1347.3 447,1346.5 449,1345.6 451,1344.8 453,1343.8 455,1342.8 457,1341.8 459,1340.7 461,1339.6 463,1338.4 465,1337.1 467,1335.8 469,1334.5 471,1333.0 473,1331.5 475,1329.9 477,1328.3 479,1326.6 481,1324.8 483,1322.9 485,1321.0 487,1319.0 489,1316.9 491,1314.7 493,1312.5 495,1310.1 497,1307.7 499,1305.2 501,1302.5 503,1299.8 505,1297.0 507,1294.2 509,1291.2 511,1288.1 513,1284.9 515,1281.6 517,1278.3 519,1274.8 521,1271.2 523,1267.5 525,1263.7 527,1259.8 529,1255.8 531,1251.7 533,1247.5 535,1243.2 537,1238.8 539,1234.3 541,1229.7 543,1224.9 545,1220.1 547,1215.1 549,1210.1 551,1204.9 553,1199.6 555,1194.3 557,1188.8 559,1183.2 561,1177.5 563,1171.7 565,1165.9 567,1159.9 569,1153.8 571,1147.6 573,1141.3 575,1134.9 577,1128.4 579,1121.9 581,1115.2 583,1108.4 585,1101.6 587,1094.7 589,1087.6 591,1080.5 593,1073.4 595,1066.1 597,1058.8 599,1051.3 601,1043.8 603,1036.3 605,1028.6 607,1020.9 609,1013.2 611,1005.3 613,997.5 615,989.5 617,981.5 619,973.5 621,965.4 623,957.2 625,949.0 627,940.8 629,932.5 631,924.2 633,915.8 635,907.4 637,899.0 639,890.6 641,882.2 643,873.7 645,865.2 647,856.7 649,848.2 651,839.6 653,831.1 655,822.6 657,814.1 659,805.5 661,797.0 663,788.5 665,780.0 667,771.5 669,763.0 671,754.6 673,746.2 675,737.8 677,729.4 679,721.0 681,712.7 683,704.5 685,696.2 687,688.0 689,679.9 691,671.8 693,663.7 695,655.7 697,647.8 699,639.9 701,632.1 703,624.3 705,616.6 707,608.9 709,601.3 711,593.8 713,586.4 715,579.0 717,571.7 719,564.5 721,557.3 723,550.3 725,543.3 727,536.4 729,529.5 731,522.8 733,516.1 735,509.6 737,503.1 739,496.7 741,490.4 743,484.2 745,478.1 747,472.1 749,466.1 751,460.3 753,454.6 755,449.0 757,443.4 759,438.0 761,432.6 763,427.4 765,422.3 767,417.2 769,412.3 771,407.4 773,402.7 775,398.1 777,393.5 779,389.1 781,384.8 783,380.5 785,376.4 787,372.4 789,368.4 791,364.6 793,360.9 795,357.3 797,353.7 799,350.3 801,347.0 803,343.8 805,340.7 807,337.6 809,334.7 811,331.9 813,329.2 815,326.5 817,324.0 819,321.6 821,319.2 823,317.0 825,314.8 827,312.8 829,310.8 831,308.9 833,307.2 835,305.5 837,303.9 839,302.4 841,300.9 843,299.6 845,298.4 847,297.2 849,296.2 851,295.2 853,294.3 855,293.5 857,292.8 859,292.1 861,291.6 863,291.1 865,290.7 867,290.4 869,290.1 871,290.0 873,289.9 875,289.9 877,290.0 879,290.2 881,290.4 883,290.7 885,291.1 887,291.6 889,292.2 891,292.8 893,293.6 895,294.4 897,295.2 899,296.2 901,297.2 903,298.3 905,299.4 907,300.7 909,302.0 911,303.4 913,304.8 915,306.3 917,307.9 919,309.6 921,311.3 923,313.1 925,315.0 927,316.9 929,318.9 931,321.0 933,323.1 935,325.3 937,327.5 939,329.8 941,332.2 943,334.6 945,337.1 947,339.7 949,342.3 951,345.0 953,347.7 955,350.5 957,353.4 959,356.3 961,359.2 963,362.2 965,365.3 967,368.4 969,371.6 971,374.8 973,378.1 975,381.4 977,384.8 979,388.2 981,391.7 983,395.2 985,398.8 987,402.4 989,406.0 991,409.7 993,413.5 995,417.2 997,421.0 999,424.9 1001,428.8 1003,432.7 1005,436.7 1007,440.7 1009,444.7 1011,448.8 1013,452.9 1015,457.1 1017,461.2 1019,465.4 1021,469.6 1023,473.9 1025,478.2 1027,482.5 1029,486.8 1031,491.1 1033,495.5 1035,499.9 1037,504.3 1039,508.7 1041,513.2 1043,517.7 1045,522.1 1047,526.6 1049,531.1 1051,535.6 1053,540.2 1055,544.7 1057,549.2 1059,553.8 1061,558.4 1063,562.9 1065,567.5 1067,572.1 1069,576.6 1071,581.2 1073,585.8 1075,590.4 1077,594.9 1079,599.5 1081,604.1 1083,608.7 1085,613.2 1087,617.8 1089,622.3 1091,626.9 1093,631.4 1095,635.9 1097,640.5 1099,645.0 1101,649.5 1103,653.9 1105,658.4 1107,662.9 1109,667.3 1111,671.8 1113,676.2 1115,680.6 1117,685.0 1119,689.3 1121,693.7 1123,698.0 1125,702.4 1127,706.7 1129,710.9 1131,715.2 1133,719.5 1135,723.7 1137,727.9 1139,732.1 1141,736.2 1143,740.4 1145,744.5 1147,748.6 1149,752.7 1151,756.8 1153,760.8 1155,764.9 1157,768.9 1159,772.8 1161,776.8 1163,780.7 1165,784.6 1167,788.5 1169,792.4 1171,796.3 1173,800.1 1175,803.9 1177,807.7 1179,811.5 1181,815.2 1183,818.9 1185,822.6 1187,826.3 1189,830.0 1191,833.6 1193,837.2 1195,840.8 1197,844.4 1199,848.0 1201,851.5 1203,855.1 1205,858.6 1207,862.0 1209,865.5 1211,868.9 1213,872.4 1215,875.8 1217,879.2 1219,882.5 1221,885.9 1223,889.2 1225,892.5 1227,895.8 1229,899.1 1231,902.4 1233,905.6 1235,908.9 1237,912.1 1239,915.3 1241,918.5 1243,921.6 1245,924.8 1247,927.9 1249,931.1 1251,934.2 1253,937.2 1255,940.3 1257,943.4 1259,946.4 1261,949.5 1263,952.5 1265,955.5 1267,958.5 1269,961.5 1271,964.4 1273,967.4 1275,970.3 1277,973.2 1279,976.1 1281,979.0 1283,981.9 1285,984.8 1287,987.7 1289,990.5 1291,993.3 1293,996.1 1295,999.0 1297,1001.8 1299,1004.5 1301,1007.3 1303,1010.1 1305,1012.8 1307,1015.5 1309,1018.3 1311,1021.0 1313,1023.7 1315,1026.4 1317,1029.0 1319,1031.7 1321,1034.3 1323,1037.0 1325,1039.6 1327,1042.2 1329,1044.8 1331,1047.4 1333,1050.0 1335,1052.6 1337,1055.1 1339,1057.7 1341,1060.2 1343,1062.7 1345,1065.2 1347,1067.7 1349,1070.2 1351,1072.7 1353,1075.1 1355,1077.6 1357,1080.0 1359,1082.4 1361,1084.8 1363,1087.2 1365,1089.6 1367,1092.0 1369,1094.3 1371,1096.7 1373,1099.0 1375,1101.3 1377,1103.7 1379,1106.0 1381,1108.2 1383,1110.5 1385,1112.8 1387,1115.0 1389,1117.3 1391,1119.5 1393,1121.7 1395,1123.9 1397,1126.1 1399,1128.2 1401,1130.4 1403,1132.5 1405,1134.7 1407,1136.8 1409,1138.9 1411,1141.0 1413,1143.1 1415,1145.1 1417,1147.2 1419,1149.2 1421,1151.3 1423,1153.3 1425,1155.3 1427,1157.3 1429,1159.2 1431,1161.2 1433,1163.1 1435,1165.1 1437,1167.0 1439,1168.9 1441,1170.8 1443,1172.7 1445,1174.6 1447,1176.4 1449,1178.3 1451,1180.1 1453,1181.9 1455,1183.7 1457,1185.5 1459,1187.3 1461,1189.0 1463,1190.8 1465,1192.5 1467,1194.2 1469,1195.9 1471,1197.6 1473,1199.3 1475,1201.0 1477,1202.6 1479,1204.3 1481,1205.9 1483,1207.5 1485,1209.1 1487,1210.7 1489,1212.3 1491,1213.8 1493,1215.4 1495,1216.9 1497,1218.5 1499,1220.0 1501,1221.5 1503,1223.0 1505,1224.4 1507,1225.9 1509,1227.3 1511,1228.8 1513,1230.2 1515,1231.6 1517,1233.0 1519,1234.4 1521,1235.8 1523,1237.1 1525,1238.5 1527,1239.8 1529,1241.1 1531,1242.4 1533,1243.7 1535,1245.0 1537,1246.3 1539,1247.6 1541,1248.8 1543,1250.0 1545,1251.3 1547,1252.5 1549,1253.7 1551,1254.9 1553,1256.1 1555,1257.2 1557,1258.4 1559,1259.6 1561,1260.7 1563,1261.8 1565,1262.9 1567,1264.0 1569,1265.1 1571,1266.2 1573,1267.3 1575,1268.3 1577,1269.4 1579,1270.4 1581,1271.5 1583,1272.5 1585,1273.5 1587,1274.5 1589,1275.5 1591,1276.5 1593,1277.4 1595,1278.4 1597,1279.3 1599,1280.3 1601,1281.2 1603,1282.1 1605,1283.0 1607,1283.9 1609,1284.8 1611,1285.7 1613,1286.6 1615,1287.4 1617,1288.3 1619,1289.2 1621,1290.0 1623,1290.8 1625,1291.6 1627,1292.5 1629,1293.3 1631,1294.0 1633,1294.8 1635,1295.6 1637,1296.4 1639,1297.1 1641,1297.9 1643,1298.6 1645,1299.4 1647,1300.1 1649,1300.8 1651,1301.5 1653,1302.3 1655,1303.0 1657,1303.6 1659,1304.3 1661,1305.0 1663,1305.7 1665,1306.3 1667,1307.0 1669,1307.6 1671,1308.3 1673,1308.9 1675,1309.5 1677,1310.2 1679,1310.8 1681,1311.4 1683,1312.0 1685,1312.6 1687,1313.2 1689,1313.7 1691,1314.3 1693,1314.9 1695,1315.5 1697,1316.0 1699,1316.6 1701,1317.1 1703,1317.6 1705,1318.2 1707,1318.7 1709,1319.2 1711,1319.7 1713,1320.2 1715,1320.8 1717,1321.3 1719,1321.7 1721,1322.2 1723,1322.7 1725,1323.2 1727,1323.7 1729,1324.1 1731,1324.6 1733,1325.1 1735,1325.5 1737,1326.0 1739,1326.4 1741,1326.8 1743,1327.3 1745,1327.7 1747,1328.1 1749,1328.5 1751,1328.9 1753,1329.4 1755,1329.8 1757,1330.2 1759,1330.6 1761,1330.9 1763,1331.3 1765,1331.7 1767,1332.1 1769,1332.5 1771,1332.8 1773,1333.2 1775,1333.6 1777,1333.9 1779,1334.3 1781,1334.6 1783,1335.0 1785,1335.3 1787,1335.7 1789,1336.0 1791,1336.3 1793,1336.7 1795,1337.0 1797,1337.3 1799,1337.6 1801,1337.9 1803,1338.3 1805,1338.6 1807,1338.9 1809,1339.2 1811,1339.5 1813,1339.8 1815,1340.0 1817,1340.3 1819,1340.6 1821,1340.9 1823,1341.2 1825,1341.5 1827,1341.7 1829,1342.0 1831,1342.3 1833,1342.5 1835,1342.8 1837,1343.0 1839,1343.3 1841,1343.5 1843,1343.8 1845,1344.0 1847,1344.3 1849,1344.5 1851,1344.8 1853,1345.0 1855,1345.2 1857,1345.5 1859,1345.7 1861,1345.9 1863,1346.1 1865,1346.4 1867,1346.6 1869,1346.8 1871,1347.0 1873,1347.2 1875,1347.4 1877,1347.6 1879,1347.8 1881,1348.0 1883,1348.2 1885,1348.4 1887,1348.6 1889,1348.8 1891,1349.0 1893,1349.2 1895,1349.4 1897,1349.6 1899,1349.8 1901,1349.9 1903,1350.1 1905,1350.3 1907,1350.5 1909,1350.6 1911,1350.8 1913,1351.0 1915,1351.1 1917,1351.3 1919,1351.5 1921,1351.6 1923,1351.8 1925,1351.9 1927,1352.1 1929,1352.2 1931,1352.4 1933,1352.6 1935,1352.7 1937,1352.8 1939,1353.0 1941,1353.1 1943,1353.3 1945,1353.4 1947,1353.6 1949,1353.7 1951,1353.8 1953,1354.0 1955,1354.1 1957,1354.2 1959,1354.4 1961,1354.5 1963,1354.6 1965,1354.7 1967,1354.9 1969,1355.0 1971,1355.1 1973,1355.2 1975,1355.3 1977,1355.4 1979,1355.6 1981,1355.7 1983,1355.8 1985,1355.9 1987,1356.0 1989,1356.1 1991,1356.2 1993,1356.3 1995,1356.4 1997,1356.5 1999,1356.6 2001,1356.7 2003,1356.8 2005,1356.9 2007,1357.0 2009,1357.1 2011,1357.2 2013,1357.3 2015,1357.4 2017,1357.5 2019,1357.6 2021,1357.7 2023,1357.8 2025,1357.9 2027,1358.0 2029,1358.0 2031,1358.1 2033,1358.2 2035,1358.3 2037,1358.4 2039,1358.4 2041,1358.5 2043,1358.6 2045,1358.7 2047,1358.8 2049,1358.8 2051,1358.8" fill="none" stroke="#000080" stroke-width="3.6" stroke-linejoin="round"/>
<polyline points="363,1360.4 365,1360.3 367,1360.2 369,1360.0 371,1359.9 373,1359.7 375,1359.5 377,1359.4 379,1359.3 381,1359.2 383,1359.1 385,1358.9 387,1358.8 389,1358.7 391,1358.5 393,1358.3 395,1358.2 397,1358.0 399,1357.8 401,1357.6 403,1357.3 405,1357.1 407,1356.9 409,1356.6 411,1356.3 413,1356.0 415,1355.7 417,1355.4 419,1355.0 421,1354.7 423,1354.3 425,1353.9 427,1353.4 429,1353.0 431,1352.5 433,1352.0 435,1351.5 437,1350.9 439,1350.3 441,1349.6 443,1349.0 445,1348.3 447,1347.5 449,1346.7 451,1345.9 453,1345.0 455,1344.0 457,1343.1 459,1342.0 461,1340.9 463,1339.8 465,1338.6 467,1337.3 469,1336.0 471,1334.6 473,1333.1 475,1331.6 477,1330.0 479,1328.3 481,1326.5 483,1324.7 485,1322.8 487,1320.8 489,1318.7 491,1316.6 493,1314.3 495,1312.0 497,1309.5 499,1307.0 501,1304.4 503,1301.7 505,1298.8 507,1295.9 509,1292.9 511,1289.8 513,1286.6 515,1283.2 517,1279.8 519,1276.2 521,1272.6 523,1268.8 525,1264.9 527,1260.9 529,1256.8 531,1252.6 533,1248.3 535,1243.8 537,1239.2 539,1234.5 541,1229.7 543,1224.8 545,1219.8 547,1214.6 549,1209.4 551,1204.0 553,1198.5 555,1192.9 557,1187.1 559,1181.3 561,1175.3 563,1169.3 565,1163.1 567,1156.8 569,1150.4 571,1143.8 573,1137.2 575,1130.5 577,1123.6 579,1116.7 581,1109.6 583,1102.5 585,1095.2 587,1087.9 589,1080.4 591,1072.9 593,1065.3 595,1057.5 597,1049.7 599,1041.8 601,1033.8 603,1025.8 605,1017.6 607,1009.4 609,1001.1 611,992.8 613,984.4 615,975.9 617,967.3 619,958.7 621,950.0 623,941.3 625,932.5 627,923.7 629,914.8 631,905.9 633,897.0 635,888.0 637,879.0 639,869.9 641,860.8 643,851.7 645,842.6 647,833.5 649,824.3 651,815.2 653,806.0 655,796.8 657,787.7 659,778.5 661,769.3 663,760.2 665,751.0 667,741.9 669,732.8 671,723.7 673,714.6 675,705.6 677,696.6 679,687.6 681,678.7 683,669.8 685,660.9 687,652.1 689,643.4 691,634.6 693,626.0 695,617.4 697,608.8 699,600.4 701,591.9 703,583.6 705,575.3 707,567.1 709,558.9 711,550.9 713,542.9 715,535.0 717,527.1 719,519.4 721,511.7 723,504.1 725,496.6 727,489.2 729,481.9 731,474.7 733,467.6 735,460.6 737,453.6 739,446.8 741,440.1 743,433.5 745,426.9 747,420.5 749,414.2 751,408.0 753,401.9 755,395.9 757,390.0 759,384.2 761,378.5 763,373.0 765,367.5 767,362.2 769,356.9 771,351.8 773,346.8 775,341.9 777,337.1 779,332.4 781,327.9 783,323.4 785,319.1 787,314.8 789,310.7 791,306.7 793,302.8 795,299.0 797,295.3 799,291.8 801,288.3 803,285.0 805,281.7 807,278.6 809,275.6 811,272.6 813,269.8 815,267.1 817,264.5 819,262.0 821,259.6 823,257.3 825,255.1 827,253.1 829,251.1 831,249.2 833,247.4 835,245.7 837,244.2 839,242.7 841,241.3 843,240.0 845,238.8 847,237.7 849,236.7 851,235.8 853,234.9 855,234.2 857,233.6 859,233.0 861,232.6 863,232.2 865,231.9 867,231.7 869,231.6 871,231.6 873,231.7 875,231.8 877,232.0 879,232.4 881,232.8 883,233.2 885,233.8 887,234.4 889,235.2 891,236.0 893,236.8 895,237.8 897,238.8 899,239.9 901,241.1 903,242.4 905,243.7 907,245.1 909,246.6 911,248.1 913,249.7 915,251.4 917,253.2 919,255.0 921,256.9 923,258.9 925,260.9 927,263.0 929,265.2 931,267.5 933,269.8 935,272.1 937,274.6 939,277.1 941,279.6 943,282.3 945,284.9 947,287.7 949,290.5 951,293.4 953,296.3 955,299.3 957,302.3 959,305.4 961,308.6 963,311.8 965,315.1 967,318.4 969,321.7 971,325.2 973,328.7 975,332.2 977,335.8 979,339.4 981,343.1 983,346.8 985,350.5 987,354.4 989,358.2 991,362.1 993,366.0 995,370.0 997,374.1 999,378.1 1001,382.2 1003,386.4 1005,390.5 1007,394.8 1009,399.0 1011,403.3 1013,407.6 1015,411.9 1017,416.3 1019,420.7 1021,425.1 1023,429.6 1025,434.1 1027,438.6 1029,443.1 1031,447.7 1033,452.2 1035,456.8 1037,461.5 1039,466.1 1041,470.7 1043,475.4 1045,480.1 1047,484.8 1049,489.5 1051,494.2 1053,498.9 1055,503.7 1057,508.4 1059,513.2 1061,517.9 1063,522.7 1065,527.5 1067,532.2 1069,537.0 1071,541.8 1073,546.6 1075,551.3 1077,556.1 1079,560.9 1081,565.6 1083,570.4 1085,575.1 1087,579.9 1089,584.6 1091,589.4 1093,594.1 1095,598.8 1097,603.5 1099,608.2 1101,612.9 1103,617.6 1105,622.2 1107,626.9 1109,631.5 1111,636.1 1113,640.7 1115,645.3 1117,649.9 1119,654.4 1121,659.0 1123,663.5 1125,668.0 1127,672.5 1129,676.9 1131,681.4 1133,685.8 1135,690.2 1137,694.6 1139,698.9 1141,703.3 1143,707.6 1145,711.9 1147,716.2 1149,720.4 1151,724.7 1153,728.9 1155,733.1 1157,737.3 1159,741.4 1161,745.5 1163,749.6 1165,753.7 1167,757.8 1169,761.8 1171,765.8 1173,769.8 1175,773.8 1177,777.7 1179,781.7 1181,785.6 1183,789.5 1185,793.3 1187,797.2 1189,801.0 1191,804.8 1193,808.5 1195,812.3 1197,816.0 1199,819.8 1201,823.4 1203,827.1 1205,830.8 1207,834.4 1209,838.0 1211,841.6 1213,845.2 1215,848.8 1217,852.3 1219,855.8 1221,859.3 1223,862.8 1225,866.3 1227,869.7 1229,873.1 1231,876.5 1233,879.9 1235,883.3 1237,886.7 1239,890.0 1241,893.3 1243,896.6 1245,899.9 1247,903.2 1249,906.5 1251,909.7 1253,912.9 1255,916.2 1257,919.3 1259,922.5 1261,925.7 1263,928.9 1265,932.0 1267,935.1 1269,938.2 1271,941.3 1273,944.4 1275,947.5 1277,950.5 1279,953.6 1281,956.6 1283,959.6 1285,962.6 1287,965.6 1289,968.6 1291,971.5 1293,974.5 1295,977.4 1297,980.3 1299,983.3 1301,986.2 1303,989.0 1305,991.9 1307,994.8 1309,997.6 1311,1000.5 1313,1003.3 1315,1006.1 1317,1008.9 1319,1011.7 1321,1014.4 1323,1017.2 1325,1019.9 1327,1022.7 1329,1025.4 1331,1028.1 1333,1030.8 1335,1033.5 1337,1036.2 1339,1038.8 1341,1041.5 1343,1044.1 1345,1046.7 1347,1049.4 1349,1052.0 1351,1054.5 1353,1057.1 1355,1059.7 1357,1062.2 1359,1064.8 1361,1067.3 1363,1069.8 1365,1072.3 1367,1074.8 1369,1077.3 1371,1079.7 1373,1082.2 1375,1084.6 1377,1087.0 1379,1089.4 1381,1091.8 1383,1094.2 1385,1096.6 1387,1098.9 1389,1101.3 1391,1103.6 1393,1105.9 1395,1108.3 1397,1110.5 1399,1112.8 1401,1115.1 1403,1117.3 1405,1119.6 1407,1121.8 1409,1124.0 1411,1126.2 1413,1128.4 1415,1130.6 1417,1132.7 1419,1134.9 1421,1137.0 1423,1139.1 1425,1141.2 1427,1143.3 1429,1145.4 1431,1147.5 1433,1149.5 1435,1151.6 1437,1153.6 1439,1155.6 1441,1157.6 1443,1159.6 1445,1161.5 1447,1163.5 1449,1165.4 1451,1167.3 1453,1169.3 1455,1171.2 1457,1173.0 1459,1174.9 1461,1176.8 1463,1178.6 1465,1180.4 1467,1182.3 1469,1184.1 1471,1185.8 1473,1187.6 1475,1189.4 1477,1191.1 1479,1192.9 1481,1194.6 1483,1196.3 1485,1198.0 1487,1199.7 1489,1201.3 1491,1203.0 1493,1204.6 1495,1206.2 1497,1207.9 1499,1209.5 1501,1211.0 1503,1212.6 1505,1214.2 1507,1215.7 1509,1217.2 1511,1218.8 1513,1220.3 1515,1221.8 1517,1223.2 1519,1224.7 1521,1226.2 1523,1227.6 1525,1229.0 1527,1230.5 1529,1231.9 1531,1233.2 1533,1234.6 1535,1236.0 1537,1237.3 1539,1238.7 1541,1240.0 1543,1241.3 1545,1242.6 1547,1243.9 1549,1245.2 1551,1246.5 1553,1247.7 1555,1249.0 1557,1250.2 1559,1251.4 1561,1252.6 1563,1253.8 1565,1255.0 1567,1256.2 1569,1257.4 1571,1258.5 1573,1259.7 1575,1260.8 1577,1261.9 1579,1263.0 1581,1264.1 1583,1265.2 1585,1266.3 1587,1267.3 1589,1268.4 1591,1269.4 1593,1270.5 1595,1271.5 1597,1272.5 1599,1273.5 1601,1274.5 1603,1275.5 1605,1276.4 1607,1277.4 1609,1278.4 1611,1279.3 1613,1280.2 1615,1281.2 1617,1282.1 1619,1283.0 1621,1283.9 1623,1284.8 1625,1285.6 1627,1286.5 1629,1287.4 1631,1288.2 1633,1289.1 1635,1289.9 1637,1290.7 1639,1291.5 1641,1292.3 1643,1293.1 1645,1293.9 1647,1294.7 1649,1295.5 1651,1296.2 1653,1297.0 1655,1297.7 1657,1298.5 1659,1299.2 1661,1299.9 1663,1300.7 1665,1301.4 1667,1302.1 1669,1302.8 1671,1303.5 1673,1304.1 1675,1304.8 1677,1305.5 1679,1306.1 1681,1306.8 1683,1307.4 1685,1308.1 1687,1308.7 1689,1309.3 1691,1309.9 1693,1310.6 1695,1311.2 1697,1311.8 1699,1312.3 1701,1312.9 1703,1313.5 1705,1314.1 1707,1314.7 1709,1315.2 1711,1315.8 1713,1316.3 1715,1316.9 1717,1317.4 1719,1317.9 1721,1318.4 1723,1319.0 1725,1319.5 1727,1320.0 1729,1320.5 1731,1321.0 1733,1321.5 1735,1322.0 1737,1322.5 1739,1322.9 1741,1323.4 1743,1323.9 1745,1324.3 1747,1324.8 1749,1325.2 1751,1325.7 1753,1326.1 1755,1326.6 1757,1327.0 1759,1327.4 1761,1327.8 1763,1328.3 1765,1328.7 1767,1329.1 1769,1329.5 1771,1329.9 1773,1330.3 1775,1330.7 1777,1331.1 1779,1331.4 1781,1331.8 1783,1332.2 1785,1332.6 1787,1332.9 1789,1333.3 1791,1333.7 1793,1334.0 1795,1334.4 1797,1334.7 1799,1335.1 1801,1335.4 1803,1335.7 1805,1336.1 1807,1336.4 1809,1336.7 1811,1337.0 1813,1337.4 1815,1337.7 1817,1338.0 1819,1338.3 1821,1338.6 1823,1338.9 1825,1339.2 1827,1339.5 1829,1339.8 1831,1340.1 1833,1340.4 1835,1340.6 1837,1340.9 1839,1341.2 1841,1341.5 1843,1341.7 1845,1342.0 1847,1342.3 1849,1342.5 1851,1342.8 1853,1343.0 1855,1343.3 1857,1343.5 1859,1343.8 1861,1344.0 1863,1344.3 1865,1344.5 1867,1344.8 1869,1345.0 1871,1345.2 1873,1345.4 1875,1345.7 1877,1345.9 1879,1346.1 1881,1346.3 1883,1346.6 1885,1346.8 1887,1347.0 1889,1347.2 1891,1347.4 1893,1347.6 1895,1347.8 1897,1348.0 1899,1348.2 1901,1348.4 1903,1348.6 1905,1348.8 1907,1349.0 1909,1349.2 1911,1349.3 1913,1349.5 1915,1349.7 1917,1349.9 1919,1350.1 1921,1350.2 1923,1350.4 1925,1350.6 1927,1350.8 1929,1350.9 1931,1351.1 1933,1351.3 1935,1351.4 1937,1351.6 1939,1351.7 1941,1351.9 1943,1352.0 1945,1352.2 1947,1352.4 1949,1352.5 1951,1352.7 1953,1352.8 1955,1352.9 1957,1353.1 1959,1353.2 1961,1353.4 1963,1353.5 1965,1353.6 1967,1353.8 1969,1353.9 1971,1354.0 1973,1354.2 1975,1354.3 1977,1354.4 1979,1354.6 1981,1354.7 1983,1354.8 1985,1354.9 1987,1355.0 1989,1355.2 1991,1355.3 1993,1355.4 1995,1355.5 1997,1355.6 1999,1355.7 2001,1355.8 2003,1356.0 2005,1356.1 2007,1356.2 2009,1356.3 2011,1356.4 2013,1356.5 2015,1356.6 2017,1356.7 2019,1356.8 2021,1356.9 2023,1357.0 2025,1357.1 2027,1357.2 2029,1357.3 2031,1357.4 2033,1357.5 2035,1357.5 2037,1357.6 2039,1357.7 2041,1357.8 2043,1357.9 2045,1358.0 2047,1358.1 2049,1358.2 2051,1358.2" fill="none" stroke="#2d66a6" stroke-width="3.0" stroke-linejoin="round"/>
<polyline points="363,1360.9 365,1360.8 367,1360.7 369,1360.5 371,1360.4 373,1360.3 375,1360.1 377,1360.0 379,1359.8 381,1359.7 383,1359.6 385,1359.5 387,1359.4 389,1359.3 391,1359.2 393,1359.0 395,1358.9 397,1358.7 399,1358.5 401,1358.4 403,1358.2 405,1358.0 407,1357.8 409,1357.5 411,1357.3 413,1357.0 415,1356.8 417,1356.5 419,1356.2 421,1355.9 423,1355.6 425,1355.2 427,1354.8 429,1354.4 431,1354.0 433,1353.6 435,1353.1 437,1352.7 439,1352.1 441,1351.6 443,1351.0 445,1350.4 447,1349.8 449,1349.1 451,1348.4 453,1347.6 455,1346.8 457,1346.0 459,1345.1 461,1344.1 463,1343.1 465,1342.1 467,1341.0 469,1339.8 471,1338.6 473,1337.4 475,1336.0 477,1334.6 479,1333.2 481,1331.7 483,1330.1 485,1328.4 487,1326.6 489,1324.8 491,1322.9 493,1321.0 495,1318.9 497,1316.8 499,1314.5 501,1312.2 503,1309.8 505,1307.3 507,1304.8 509,1302.1 511,1299.3 513,1296.4 515,1293.5 517,1290.4 519,1287.3 521,1284.0 523,1280.7 525,1277.2 527,1273.6 529,1270.0 531,1266.2 533,1262.3 535,1258.3 537,1254.2 539,1250.0 541,1245.7 543,1241.3 545,1236.7 547,1232.1 549,1227.3 551,1222.5 553,1217.5 555,1212.4 557,1207.3 559,1202.0 561,1196.6 563,1191.1 565,1185.5 567,1179.7 569,1173.9 571,1168.0 573,1162.0 575,1155.8 577,1149.6 579,1143.3 581,1136.8 583,1130.3 585,1123.7 587,1117.0 589,1110.2 591,1103.3 593,1096.3 595,1089.2 597,1082.0 599,1074.8 601,1067.5 603,1060.1 605,1052.6 607,1045.0 609,1037.4 611,1029.7 613,1022.0 615,1014.2 617,1006.3 619,998.3 621,990.3 623,982.3 625,974.2 627,966.0 629,957.8 631,949.6 633,941.3 635,932.9 637,924.6 639,916.2 641,907.8 643,899.3 645,890.9 647,882.4 649,873.9 651,865.4 653,856.8 655,848.3 657,839.8 659,831.2 661,822.7 663,814.2 665,805.6 667,797.1 669,788.6 671,780.1 673,771.6 675,763.2 677,754.8 679,746.4 681,738.0 683,729.7 685,721.4 687,713.1 689,704.9 691,696.7 693,688.6 695,680.5 697,672.5 699,664.5 701,656.6 703,648.7 705,640.9 707,633.2 709,625.5 711,617.9 713,610.4 715,602.9 717,595.5 719,588.2 721,581.0 723,573.8 725,566.7 727,559.7 729,552.8 731,546.0 733,539.3 735,532.6 737,526.0 739,519.6 741,513.2 743,506.9 745,500.7 747,494.6 749,488.6 751,482.7 753,476.9 755,471.2 757,465.6 759,460.1 761,454.6 763,449.3 765,444.1 767,439.0 769,434.0 771,429.1 773,424.3 775,419.6 777,415.1 779,410.6 781,406.2 783,401.9 785,397.7 787,393.7 789,389.7 791,385.8 793,382.1 795,378.4 797,374.9 799,371.4 801,368.1 803,364.9 805,361.7 807,358.7 809,355.7 811,352.9 813,350.2 815,347.5 817,345.0 819,342.5 821,340.2 823,337.9 825,335.8 827,333.7 829,331.8 831,329.9 833,328.2 835,326.5 837,324.9 839,323.4 841,322.0 843,320.7 845,319.5 847,318.4 849,317.3 851,316.4 853,315.5 855,314.7 857,314.0 859,313.4 861,312.9 863,312.5 865,312.1 867,311.8 869,311.6 871,311.5 873,311.5 875,311.5 877,311.7 879,311.9 881,312.2 883,312.5 885,312.9 887,313.4 889,314.0 891,314.7 893,315.4 895,316.2 897,317.0 899,318.0 901,319.0 903,320.0 905,321.2 907,322.4 909,323.7 911,325.0 913,326.4 915,327.9 917,329.4 919,331.1 921,332.7 923,334.5 925,336.3 927,338.1 929,340.0 931,342.0 933,344.1 935,346.2 937,348.3 939,350.6 941,352.8 943,355.2 945,357.6 947,360.0 949,362.5 951,365.1 953,367.7 955,370.4 957,373.1 959,375.9 961,378.8 963,381.6 965,384.6 967,387.6 969,390.6 971,393.7 973,396.8 975,400.0 977,403.2 979,406.5 981,409.8 983,413.2 985,416.6 987,420.0 989,423.5 991,427.1 993,430.6 995,434.3 997,437.9 999,441.6 1001,445.3 1003,449.1 1005,452.9 1007,456.7 1009,460.6 1011,464.5 1013,468.4 1015,472.4 1017,476.4 1019,480.4 1021,484.4 1023,488.5 1025,492.6 1027,496.7 1029,500.8 1031,505.0 1033,509.2 1035,513.4 1037,517.6 1039,521.9 1041,526.1 1043,530.4 1045,534.7 1047,539.0 1049,543.3 1051,547.6 1053,552.0 1055,556.3 1057,560.7 1059,565.1 1061,569.5 1063,573.8 1065,578.2 1067,582.6 1069,587.0 1071,591.4 1073,595.8 1075,600.2 1077,604.6 1079,609.0 1081,613.4 1083,617.8 1085,622.2 1087,626.6 1089,631.0 1091,635.4 1093,639.8 1095,644.1 1097,648.5 1099,652.8 1101,657.2 1103,661.5 1105,665.8 1107,670.1 1109,674.4 1111,678.7 1113,683.0 1115,687.3 1117,691.5 1119,695.7 1121,699.9 1123,704.1 1125,708.3 1127,712.5 1129,716.7 1131,720.8 1133,724.9 1135,729.0 1137,733.1 1139,737.2 1141,741.2 1143,745.2 1145,749.2 1147,753.2 1149,757.2 1151,761.1 1153,765.1 1155,769.0 1157,772.9 1159,776.7 1161,780.6 1163,784.4 1165,788.2 1167,792.0 1169,795.8 1171,799.5 1173,803.3 1175,807.0 1177,810.7 1179,814.3 1181,818.0 1183,821.6 1185,825.2 1187,828.8 1189,832.4 1191,835.9 1193,839.5 1195,843.0 1197,846.5 1199,849.9 1201,853.4 1203,856.8 1205,860.2 1207,863.6 1209,867.0 1211,870.4 1213,873.7 1215,877.0 1217,880.3 1219,883.6 1221,886.9 1223,890.2 1225,893.4 1227,896.6 1229,899.8 1231,903.0 1233,906.2 1235,909.3 1237,912.5 1239,915.6 1241,918.7 1243,921.8 1245,924.9 1247,927.9 1249,931.0 1251,934.0 1253,937.0 1255,940.0 1257,943.0 1259,946.0 1261,948.9 1263,951.9 1265,954.8 1267,957.7 1269,960.6 1271,963.5 1273,966.4 1275,969.3 1277,972.1 1279,975.0 1281,977.8 1283,980.6 1285,983.4 1287,986.2 1289,989.0 1291,991.7 1293,994.5 1295,997.2 1297,1000.0 1299,1002.7 1301,1005.4 1303,1008.1 1305,1010.7 1307,1013.4 1309,1016.1 1311,1018.7 1313,1021.4 1315,1024.0 1317,1026.6 1319,1029.2 1321,1031.8 1323,1034.4 1325,1036.9 1327,1039.5 1329,1042.0 1331,1044.6 1333,1047.1 1335,1049.6 1337,1052.1 1339,1054.6 1341,1057.1 1343,1059.5 1345,1062.0 1347,1064.4 1349,1066.8 1351,1069.3 1353,1071.7 1355,1074.1 1357,1076.5 1359,1078.8 1361,1081.2 1363,1083.6 1365,1085.9 1367,1088.2 1369,1090.5 1371,1092.8 1373,1095.1 1375,1097.4 1377,1099.7 1379,1101.9 1381,1104.2 1383,1106.4 1385,1108.7 1387,1110.9 1389,1113.1 1391,1115.3 1393,1117.4 1395,1119.6 1397,1121.8 1399,1123.9 1401,1126.0 1403,1128.1 1405,1130.2 1407,1132.3 1409,1134.4 1411,1136.5 1413,1138.5 1415,1140.6 1417,1142.6 1419,1144.6 1421,1146.6 1423,1148.6 1425,1150.6 1427,1152.6 1429,1154.5 1431,1156.5 1433,1158.4 1435,1160.3 1437,1162.2 1439,1164.1 1441,1166.0 1443,1167.9 1445,1169.7 1447,1171.6 1449,1173.4 1451,1175.2 1453,1177.0 1455,1178.8 1457,1180.6 1459,1182.4 1461,1184.1 1463,1185.9 1465,1187.6 1467,1189.3 1469,1191.0 1471,1192.7 1473,1194.4 1475,1196.1 1477,1197.7 1479,1199.4 1481,1201.0 1483,1202.6 1485,1204.2 1487,1205.8 1489,1207.4 1491,1209.0 1493,1210.5 1495,1212.1 1497,1213.6 1499,1215.1 1501,1216.6 1503,1218.1 1505,1219.6 1507,1221.1 1509,1222.5 1511,1224.0 1513,1225.4 1515,1226.8 1517,1228.2 1519,1229.6 1521,1231.0 1523,1232.4 1525,1233.7 1527,1235.1 1529,1236.4 1531,1237.8 1533,1239.1 1535,1240.4 1537,1241.7 1539,1242.9 1541,1244.2 1543,1245.5 1545,1246.7 1547,1247.9 1549,1249.2 1551,1250.4 1553,1251.6 1555,1252.8 1557,1253.9 1559,1255.1 1561,1256.3 1563,1257.4 1565,1258.5 1567,1259.7 1569,1260.8 1571,1261.9 1573,1263.0 1575,1264.1 1577,1265.1 1579,1266.2 1581,1267.2 1583,1268.3 1585,1269.3 1587,1270.3 1589,1271.3 1591,1272.3 1593,1273.3 1595,1274.3 1597,1275.3 1599,1276.2 1601,1277.2 1603,1278.1 1605,1279.1 1607,1280.0 1609,1280.9 1611,1281.8 1613,1282.7 1615,1283.6 1617,1284.5 1619,1285.3 1621,1286.2 1623,1287.1 1625,1287.9 1627,1288.7 1629,1289.6 1631,1290.4 1633,1291.2 1635,1292.0 1637,1292.8 1639,1293.6 1641,1294.3 1643,1295.1 1645,1295.9 1647,1296.6 1649,1297.4 1651,1298.1 1653,1298.8 1655,1299.5 1657,1300.3 1659,1301.0 1661,1301.7 1663,1302.4 1665,1303.0 1667,1303.7 1669,1304.4 1671,1305.1 1673,1305.7 1675,1306.4 1677,1307.0 1679,1307.6 1681,1308.3 1683,1308.9 1685,1309.5 1687,1310.1 1689,1310.7 1691,1311.3 1693,1311.9 1695,1312.5 1697,1313.1 1699,1313.6 1701,1314.2 1703,1314.8 1705,1315.3 1707,1315.9 1709,1316.4 1711,1316.9 1713,1317.5 1715,1318.0 1717,1318.5 1719,1319.0 1721,1319.5 1723,1320.0 1725,1320.5 1727,1321.0 1729,1321.5 1731,1322.0 1733,1322.5 1735,1322.9 1737,1323.4 1739,1323.9 1741,1324.3 1743,1324.8 1745,1325.2 1747,1325.7 1749,1326.1 1751,1326.5 1753,1327.0 1755,1327.4 1757,1327.8 1759,1328.2 1761,1328.6 1763,1329.0 1765,1329.4 1767,1329.8 1769,1330.2 1771,1330.6 1773,1331.0 1775,1331.4 1777,1331.7 1779,1332.1 1781,1332.5 1783,1332.8 1785,1333.2 1787,1333.6 1789,1333.9 1791,1334.3 1793,1334.6 1795,1334.9 1797,1335.3 1799,1335.6 1801,1335.9 1803,1336.3 1805,1336.6 1807,1336.9 1809,1337.2 1811,1337.5 1813,1337.8 1815,1338.2 1817,1338.5 1819,1338.8 1821,1339.1 1823,1339.3 1825,1339.6 1827,1339.9 1829,1340.2 1831,1340.5 1833,1340.8 1835,1341.0 1837,1341.3 1839,1341.6 1841,1341.8 1843,1342.1 1845,1342.4 1847,1342.6 1849,1342.9 1851,1343.1 1853,1343.4 1855,1343.6 1857,1343.9 1859,1344.1 1861,1344.3 1863,1344.6 1865,1344.8 1867,1345.0 1869,1345.3 1871,1345.5 1873,1345.7 1875,1345.9 1877,1346.2 1879,1346.4 1881,1346.6 1883,1346.8 1885,1347.0 1887,1347.2 1889,1347.4 1891,1347.6 1893,1347.8 1895,1348.0 1897,1348.2 1899,1348.4 1901,1348.6 1903,1348.8 1905,1349.0 1907,1349.2 1909,1349.3 1911,1349.5 1913,1349.7 1915,1349.9 1917,1350.1 1919,1350.2 1921,1350.4 1923,1350.6 1925,1350.7 1927,1350.9 1929,1351.1 1931,1351.2 1933,1351.4 1935,1351.5 1937,1351.7 1939,1351.9 1941,1352.0 1943,1352.2 1945,1352.3 1947,1352.5 1949,1352.6 1951,1352.7 1953,1352.9 1955,1353.0 1957,1353.2 1959,1353.3 1961,1353.4 1963,1353.6 1965,1353.7 1967,1353.9 1969,1354.0 1971,1354.1 1973,1354.2 1975,1354.4 1977,1354.5 1979,1354.6 1981,1354.7 1983,1354.9 1985,1355.0 1987,1355.1 1989,1355.2 1991,1355.3 1993,1355.4 1995,1355.6 1997,1355.7 1999,1355.8 2001,1355.9 2003,1356.0 2005,1356.1 2007,1356.2 2009,1356.3 2011,1356.4 2013,1356.5 2015,1356.6 2017,1356.7 2019,1356.8 2021,1356.9 2023,1357.0 2025,1357.1 2027,1357.2 2029,1357.3 2031,1357.4 2033,1357.5 2035,1357.6 2037,1357.6 2039,1357.7 2041,1357.8 2043,1357.9 2045,1358.0 2047,1358.1 2049,1358.2 2051,1358.2" fill="none" stroke="#9a6216" stroke-width="3.2" stroke-linejoin="round"/>
<polyline points="363,1360.9 365,1360.8 367,1360.7 369,1360.5 371,1360.4 373,1360.3 375,1360.1 377,1360.0 379,1359.8 381,1359.7 383,1359.6 385,1359.5 387,1359.4 389,1359.3 391,1359.2 393,1359.0 395,1358.9 397,1358.7 399,1358.5 401,1358.4 403,1358.2 405,1358.0 407,1357.8 409,1357.5 411,1357.3 413,1357.0 415,1356.8 417,1356.5 419,1356.2 421,1355.9 423,1355.5 425,1355.2 427,1354.8 429,1354.4 431,1354.0 433,1353.6 435,1353.1 437,1352.6 439,1352.1 441,1351.6 443,1351.0 445,1350.4 447,1349.7 449,1349.0 451,1348.3 453,1347.6 455,1346.8 457,1345.9 459,1345.0 461,1344.1 463,1343.1 465,1342.0 467,1340.9 469,1339.8 471,1338.6 473,1337.3 475,1336.0 477,1334.6 479,1333.1 481,1331.6 483,1330.0 485,1328.4 487,1326.6 489,1324.8 491,1322.9 493,1321.0 495,1318.9 497,1316.8 499,1314.6 501,1312.3 503,1309.9 505,1307.4 507,1304.9 509,1302.2 511,1299.5 513,1296.6 515,1293.7 517,1290.6 519,1287.5 521,1284.3 523,1281.0 525,1277.5 527,1274.0 529,1270.4 531,1266.6 533,1262.8 535,1258.8 537,1254.8 539,1250.6 541,1246.3 543,1242.0 545,1237.5 547,1232.9 549,1228.2 551,1223.4 553,1218.5 555,1213.5 557,1208.4 559,1203.2 561,1197.8 563,1192.4 565,1186.9 567,1181.2 569,1175.5 571,1169.6 573,1163.7 575,1157.6 577,1151.5 579,1145.2 581,1138.9 583,1132.5 585,1125.9 587,1119.3 589,1112.6 591,1105.8 593,1098.9 595,1092.0 597,1084.9 599,1077.8 601,1070.6 603,1063.3 605,1055.9 607,1048.5 609,1041.0 611,1033.4 613,1025.8 615,1018.1 617,1010.4 619,1002.5 621,994.7 623,986.7 625,978.8 627,970.7 629,962.7 631,954.6 633,946.4 635,938.2 637,930.0 639,921.8 641,913.5 643,905.2 645,896.9 647,888.5 649,880.2 651,871.8 653,863.4 655,855.0 657,846.6 659,838.2 661,829.8 663,821.5 665,813.1 667,804.7 669,796.3 671,788.0 673,779.7 675,771.4 677,763.1 679,754.8 681,746.6 683,738.4 685,730.3 687,722.2 689,714.1 691,706.1 693,698.1 695,690.1 697,682.2 699,674.4 701,666.6 703,658.9 705,651.2 707,643.6 709,636.1 711,628.6 713,621.2 715,613.9 717,606.6 719,599.4 721,592.3 723,585.3 725,578.3 727,571.4 729,564.6 731,557.9 733,551.3 735,544.7 737,538.3 739,531.9 741,525.6 743,519.5 745,513.4 747,507.4 749,501.5 751,495.7 753,489.9 755,484.3 757,478.8 759,473.4 761,468.1 763,462.8 765,457.7 767,452.7 769,447.8 771,442.9 773,438.2 775,433.6 777,429.1 779,424.7 781,420.3 783,416.1 785,412.0 787,408.0 789,404.1 791,400.3 793,396.6 795,393.0 797,389.5 799,386.1 801,382.8 803,379.6 805,376.5 807,373.5 809,370.6 811,367.8 813,365.1 815,362.5 817,360.0 819,357.5 821,355.2 823,353.0 825,350.9 827,348.8 829,346.9 831,345.1 833,343.3 835,341.6 837,340.1 839,338.6 841,337.2 843,335.9 845,334.7 847,333.6 849,332.5 851,331.6 853,330.7 855,329.9 857,329.2 859,328.6 861,328.1 863,327.6 865,327.3 867,327.0 869,326.8 871,326.6 873,326.6 875,326.6 877,326.7 879,326.9 881,327.2 883,327.5 885,327.9 887,328.4 889,328.9 891,329.6 893,330.3 895,331.0 897,331.9 899,332.8 901,333.8 903,334.8 905,335.9 907,337.1 909,338.3 911,339.6 913,341.0 915,342.5 917,344.0 919,345.6 921,347.2 923,348.9 925,350.6 927,352.5 929,354.4 931,356.3 933,358.3 935,360.4 937,362.5 939,364.7 941,366.9 943,369.2 945,371.6 947,374.0 949,376.5 951,379.0 953,381.5 955,384.2 957,386.9 959,389.6 961,392.4 963,395.2 965,398.1 967,401.1 969,404.0 971,407.1 973,410.2 975,413.3 977,416.5 979,419.7 981,423.0 983,426.3 985,429.6 987,433.0 989,436.5 991,439.9 993,443.5 995,447.0 997,450.6 999,454.3 1001,457.9 1003,461.6 1005,465.4 1007,469.2 1009,473.0 1011,476.8 1013,480.7 1015,484.6 1017,488.5 1019,492.5 1021,496.4 1023,500.5 1025,504.5 1027,508.5 1029,512.6 1031,516.7 1033,520.9 1035,525.0 1037,529.2 1039,533.4 1041,537.6 1043,541.8 1045,546.0 1047,550.3 1049,554.5 1051,558.8 1053,563.1 1055,567.4 1057,571.7 1059,576.0 1061,580.3 1063,584.6 1065,589.0 1067,593.3 1069,597.6 1071,602.0 1073,606.3 1075,610.7 1077,615.0 1079,619.4 1081,623.7 1083,628.0 1085,632.4 1087,636.7 1089,641.0 1091,645.4 1093,649.7 1095,654.0 1097,658.3 1099,662.6 1101,666.9 1103,671.1 1105,675.4 1107,679.7 1109,683.9 1111,688.1 1113,692.4 1115,696.6 1117,700.7 1119,704.9 1121,709.1 1123,713.2 1125,717.4 1127,721.5 1129,725.6 1131,729.7 1133,733.7 1135,737.8 1137,741.8 1139,745.8 1141,749.8 1143,753.8 1145,757.7 1147,761.7 1149,765.6 1151,769.5 1153,773.4 1155,777.2 1157,781.1 1159,784.9 1161,788.7 1163,792.5 1165,796.2 1167,800.0 1169,803.7 1171,807.4 1173,811.1 1175,814.7 1177,818.4 1179,822.0 1181,825.6 1183,829.2 1185,832.8 1187,836.3 1189,839.8 1191,843.3 1193,846.8 1195,850.3 1197,853.7 1199,857.1 1201,860.5 1203,863.9 1205,867.3 1207,870.7 1209,874.0 1211,877.3 1213,880.6 1215,883.9 1217,887.2 1219,890.4 1221,893.6 1223,896.8 1225,900.0 1227,903.2 1229,906.4 1231,909.5 1233,912.6 1235,915.8 1237,918.8 1239,921.9 1241,925.0 1243,928.0 1245,931.1 1247,934.1 1249,937.1 1251,940.1 1253,943.1 1255,946.0 1257,949.0 1259,951.9 1261,954.8 1263,957.7 1265,960.6 1267,963.5 1269,966.4 1271,969.2 1273,972.1 1275,974.9 1277,977.7 1279,980.5 1281,983.3 1283,986.1 1285,988.8 1287,991.6 1289,994.3 1291,997.1 1293,999.8 1295,1002.5 1297,1005.2 1299,1007.9 1301,1010.5 1303,1013.2 1305,1015.8 1307,1018.5 1309,1021.1 1311,1023.7 1313,1026.3 1315,1028.9 1317,1031.5 1319,1034.0 1321,1036.6 1323,1039.1 1325,1041.7 1327,1044.2 1329,1046.7 1331,1049.2 1333,1051.7 1335,1054.2 1337,1056.6 1339,1059.1 1341,1061.5 1343,1064.0 1345,1066.4 1347,1068.8 1349,1071.2 1351,1073.6 1353,1075.9 1355,1078.3 1357,1080.7 1359,1083.0 1361,1085.3 1363,1087.7 1365,1090.0 1367,1092.3 1369,1094.6 1371,1096.8 1373,1099.1 1375,1101.3 1377,1103.6 1379,1105.8 1381,1108.0 1383,1110.2 1385,1112.4 1387,1114.6 1389,1116.8 1391,1118.9 1393,1121.1 1395,1123.2 1397,1125.3 1399,1127.5 1401,1129.6 1403,1131.6 1405,1133.7 1407,1135.8 1409,1137.8 1411,1139.9 1413,1141.9 1415,1143.9 1417,1145.9 1419,1147.9 1421,1149.9 1423,1151.9 1425,1153.8 1427,1155.7 1429,1157.7 1431,1159.6 1433,1161.5 1435,1163.4 1437,1165.3 1439,1167.1 1441,1169.0 1443,1170.8 1445,1172.7 1447,1174.5 1449,1176.3 1451,1178.1 1453,1179.9 1455,1181.6 1457,1183.4 1459,1185.1 1461,1186.9 1463,1188.6 1465,1190.3 1467,1192.0 1469,1193.7 1471,1195.3 1473,1197.0 1475,1198.6 1477,1200.3 1479,1201.9 1481,1203.5 1483,1205.1 1485,1206.7 1487,1208.3 1489,1209.8 1491,1211.4 1493,1212.9 1495,1214.4 1497,1215.9 1499,1217.4 1501,1218.9 1503,1220.4 1505,1221.8 1507,1223.3 1509,1224.7 1511,1226.1 1513,1227.6 1515,1229.0 1517,1230.3 1519,1231.7 1521,1233.1 1523,1234.4 1525,1235.8 1527,1237.1 1529,1238.4 1531,1239.7 1533,1241.0 1535,1242.3 1537,1243.6 1539,1244.8 1541,1246.1 1543,1247.3 1545,1248.6 1547,1249.8 1549,1251.0 1551,1252.2 1553,1253.3 1555,1254.5 1557,1255.7 1559,1256.8 1561,1258.0 1563,1259.1 1565,1260.2 1567,1261.3 1569,1262.4 1571,1263.5 1573,1264.6 1575,1265.6 1577,1266.7 1579,1267.7 1581,1268.8 1583,1269.8 1585,1270.8 1587,1271.8 1589,1272.8 1591,1273.8 1593,1274.8 1595,1275.7 1597,1276.7 1599,1277.7 1601,1278.6 1603,1279.5 1605,1280.4 1607,1281.3 1609,1282.2 1611,1283.1 1613,1284.0 1615,1284.9 1617,1285.8 1619,1286.6 1621,1287.5 1623,1288.3 1625,1289.1 1627,1290.0 1629,1290.8 1631,1291.6 1633,1292.4 1635,1293.2 1637,1293.9 1639,1294.7 1641,1295.5 1643,1296.2 1645,1297.0 1647,1297.7 1649,1298.5 1651,1299.2 1653,1299.9 1655,1300.6 1657,1301.3 1659,1302.0 1661,1302.7 1663,1303.4 1665,1304.1 1667,1304.7 1669,1305.4 1671,1306.0 1673,1306.7 1675,1307.3 1677,1308.0 1679,1308.6 1681,1309.2 1683,1309.8 1685,1310.4 1687,1311.0 1689,1311.6 1691,1312.2 1693,1312.8 1695,1313.4 1697,1313.9 1699,1314.5 1701,1315.0 1703,1315.6 1705,1316.1 1707,1316.7 1709,1317.2 1711,1317.7 1713,1318.3 1715,1318.8 1717,1319.3 1719,1319.8 1721,1320.3 1723,1320.8 1725,1321.3 1727,1321.8 1729,1322.2 1731,1322.7 1733,1323.2 1735,1323.6 1737,1324.1 1739,1324.6 1741,1325.0 1743,1325.4 1745,1325.9 1747,1326.3 1749,1326.7 1751,1327.2 1753,1327.6 1755,1328.0 1757,1328.4 1759,1328.8 1761,1329.2 1763,1329.6 1765,1330.0 1767,1330.4 1769,1330.8 1771,1331.2 1773,1331.6 1775,1331.9 1777,1332.3 1779,1332.7 1781,1333.0 1783,1333.4 1785,1333.7 1787,1334.1 1789,1334.4 1791,1334.8 1793,1335.1 1795,1335.5 1797,1335.8 1799,1336.1 1801,1336.4 1803,1336.8 1805,1337.1 1807,1337.4 1809,1337.7 1811,1338.0 1813,1338.3 1815,1338.6 1817,1338.9 1819,1339.2 1821,1339.5 1823,1339.8 1825,1340.1 1827,1340.4 1829,1340.6 1831,1340.9 1833,1341.2 1835,1341.4 1837,1341.7 1839,1342.0 1841,1342.2 1843,1342.5 1845,1342.8 1847,1343.0 1849,1343.3 1851,1343.5 1853,1343.7 1855,1344.0 1857,1344.2 1859,1344.5 1861,1344.7 1863,1344.9 1865,1345.2 1867,1345.4 1869,1345.6 1871,1345.8 1873,1346.1 1875,1346.3 1877,1346.5 1879,1346.7 1881,1346.9 1883,1347.1 1885,1347.3 1887,1347.5 1889,1347.7 1891,1347.9 1893,1348.1 1895,1348.3 1897,1348.5 1899,1348.7 1901,1348.9 1903,1349.1 1905,1349.3 1907,1349.4 1909,1349.6 1911,1349.8 1913,1350.0 1915,1350.1 1917,1350.3 1919,1350.5 1921,1350.7 1923,1350.8 1925,1351.0 1927,1351.1 1929,1351.3 1931,1351.5 1933,1351.6 1935,1351.8 1937,1351.9 1939,1352.1 1941,1352.2 1943,1352.4 1945,1352.5 1947,1352.7 1949,1352.8 1951,1353.0 1953,1353.1 1955,1353.2 1957,1353.4 1959,1353.5 1961,1353.7 1963,1353.8 1965,1353.9 1967,1354.0 1969,1354.2 1971,1354.3 1973,1354.4 1975,1354.6 1977,1354.7 1979,1354.8 1981,1354.9 1983,1355.0 1985,1355.2 1987,1355.3 1989,1355.4 1991,1355.5 1993,1355.6 1995,1355.7 1997,1355.8 1999,1355.9 2001,1356.0 2003,1356.2 2005,1356.3 2007,1356.4 2009,1356.5 2011,1356.6 2013,1356.7 2015,1356.8 2017,1356.9 2019,1357.0 2021,1357.1 2023,1357.1 2025,1357.2 2027,1357.3 2029,1357.4 2031,1357.5 2033,1357.6 2035,1357.7 2037,1357.8 2039,1357.9 2041,1357.9 2043,1358.0 2045,1358.1 2047,1358.2 2049,1358.3 2051,1358.4" fill="none" stroke="#8000ff" stroke-width="3.2" stroke-linejoin="round"/>
<polyline points="363,1360.8 365,1360.7 367,1360.5 369,1360.4 371,1360.3 373,1360.1 375,1360.0 377,1359.8 379,1359.7 381,1359.7 383,1359.5 385,1359.4 387,1359.3 389,1359.2 391,1359.0 393,1358.9 395,1358.7 397,1358.6 399,1358.4 401,1358.2 403,1358.0 405,1357.8 407,1357.5 409,1357.3 411,1357.0 413,1356.8 415,1356.5 417,1356.2 419,1355.9 421,1355.6 423,1355.2 425,1354.8 427,1354.4 429,1354.0 431,1353.6 433,1353.1 435,1352.6 437,1352.1 439,1351.6 441,1351.0 443,1350.4 445,1349.8 447,1349.1 449,1348.4 451,1347.6 453,1346.8 455,1346.0 457,1345.1 459,1344.1 461,1343.2 463,1342.1 465,1341.0 467,1339.9 469,1338.7 471,1337.5 473,1336.1 475,1334.8 477,1333.3 479,1331.8 481,1330.2 483,1328.6 485,1326.9 487,1325.1 489,1323.2 491,1321.3 493,1319.3 495,1317.2 497,1315.0 499,1312.7 501,1310.4 503,1308.0 505,1305.4 507,1302.8 509,1300.1 511,1297.3 513,1294.5 515,1291.5 517,1288.4 519,1285.2 521,1282.0 523,1278.6 525,1275.1 527,1271.5 529,1267.9 531,1264.1 533,1260.2 535,1256.3 537,1252.2 539,1248.0 541,1243.7 543,1239.3 545,1234.8 547,1230.2 549,1225.5 551,1220.7 553,1215.8 555,1210.8 557,1205.7 559,1200.4 561,1195.1 563,1189.7 565,1184.2 567,1178.5 569,1172.8 571,1167.0 573,1161.1 575,1155.1 577,1149.0 579,1142.7 581,1136.4 583,1130.1 585,1123.6 587,1117.0 589,1110.4 591,1103.6 593,1096.8 595,1089.9 597,1082.9 599,1075.9 601,1068.7 603,1061.5 605,1054.3 607,1046.9 609,1039.5 611,1032.0 613,1024.5 615,1016.9 617,1009.2 619,1001.5 621,993.8 623,985.9 625,978.1 627,970.2 629,962.2 631,954.3 633,946.2 635,938.2 637,930.1 639,922.0 641,913.8 643,905.7 645,897.5 647,889.3 649,881.1 651,872.9 653,864.7 655,856.4 657,848.2 659,840.0 661,831.7 663,823.5 665,815.3 667,807.1 669,798.9 671,790.7 673,782.5 675,774.4 677,766.3 679,758.2 681,750.2 683,742.2 685,734.2 687,726.2 689,718.3 691,710.5 693,702.7 695,694.9 697,687.2 699,679.5 701,671.9 703,664.4 705,656.9 707,649.5 709,642.1 711,634.8 713,627.6 715,620.4 717,613.3 719,606.3 721,599.3 723,592.5 725,585.7 727,578.9 729,572.3 731,565.8 733,559.3 735,552.9 737,546.6 739,540.4 741,534.3 743,528.2 745,522.3 747,516.4 749,510.7 751,505.0 753,499.4 755,494.0 757,488.6 759,483.3 761,478.1 763,473.0 765,468.0 767,463.1 769,458.3 771,453.6 773,449.0 775,444.5 777,440.1 779,435.8 781,431.6 783,427.5 785,423.5 787,419.6 789,415.8 791,412.1 793,408.4 795,404.9 797,401.5 799,398.2 801,395.0 803,391.9 805,388.8 807,385.9 809,383.1 811,380.4 813,377.7 815,375.2 817,372.7 819,370.4 821,368.1 823,365.9 825,363.9 827,361.9 829,360.0 831,358.2 833,356.5 835,354.9 837,353.3 839,351.9 841,350.5 843,349.3 845,348.1 847,347.0 849,346.0 851,345.0 853,344.2 855,343.4 857,342.8 859,342.2 861,341.6 863,341.2 865,340.8 867,340.6 869,340.4 871,340.2 873,340.2 875,340.2 877,340.3 879,340.5 881,340.8 883,341.1 885,341.5 887,342.0 889,342.6 891,343.2 893,343.9 895,344.7 897,345.5 899,346.4 901,347.4 903,348.4 905,349.6 907,350.7 909,352.0 911,353.3 913,354.7 915,356.1 917,357.7 919,359.2 921,360.9 923,362.6 925,364.4 927,366.2 929,368.1 931,370.0 933,372.1 935,374.1 937,376.3 939,378.5 941,380.7 943,383.0 945,385.4 947,387.8 949,390.3 951,392.8 953,395.4 955,398.0 957,400.7 959,403.5 961,406.3 963,409.1 965,412.0 967,415.0 969,418.0 971,421.0 973,424.1 975,427.2 977,430.4 979,433.7 981,436.9 983,440.3 985,443.6 987,447.0 989,450.5 991,454.0 993,457.5 995,461.1 997,464.7 999,468.3 1001,472.0 1003,475.7 1005,479.5 1007,483.2 1009,487.1 1011,490.9 1013,494.8 1015,498.7 1017,502.6 1019,506.6 1021,510.6 1023,514.6 1025,518.6 1027,522.7 1029,526.8 1031,530.9 1033,535.0 1035,539.1 1037,543.3 1039,547.5 1041,551.7 1043,555.9 1045,560.1 1047,564.4 1049,568.6 1051,572.9 1053,577.2 1055,581.4 1057,585.7 1059,590.0 1061,594.4 1063,598.7 1065,603.0 1067,607.3 1069,611.6 1071,616.0 1073,620.3 1075,624.6 1077,628.9 1079,633.3 1081,637.6 1083,641.9 1085,646.2 1087,650.5 1089,654.9 1091,659.2 1093,663.4 1095,667.7 1097,672.0 1099,676.3 1101,680.5 1103,684.8 1105,689.0 1107,693.2 1109,697.5 1111,701.7 1113,705.8 1115,710.0 1117,714.2 1119,718.3 1121,722.4 1123,726.6 1125,730.7 1127,734.7 1129,738.8 1131,742.8 1133,746.9 1135,750.9 1137,754.9 1139,758.8 1141,762.8 1143,766.7 1145,770.7 1147,774.6 1149,778.4 1151,782.3 1153,786.1 1155,789.9 1157,793.7 1159,797.5 1161,801.3 1163,805.0 1165,808.7 1167,812.4 1169,816.1 1171,819.8 1173,823.4 1175,827.0 1177,830.6 1179,834.2 1181,837.8 1183,841.3 1185,844.8 1187,848.3 1189,851.8 1191,855.3 1193,858.7 1195,862.2 1197,865.6 1199,868.9 1201,872.3 1203,875.7 1205,879.0 1207,882.3 1209,885.6 1211,888.9 1213,892.1 1215,895.4 1217,898.6 1219,901.8 1221,905.0 1223,908.1 1225,911.3 1227,914.4 1229,917.6 1231,920.7 1233,923.8 1235,926.8 1237,929.9 1239,932.9 1241,936.0 1243,939.0 1245,942.0 1247,944.9 1249,947.9 1251,950.9 1253,953.8 1255,956.7 1257,959.6 1259,962.5 1261,965.4 1263,968.3 1265,971.2 1267,974.0 1269,976.8 1271,979.7 1273,982.5 1275,985.2 1277,988.0 1279,990.8 1281,993.5 1283,996.3 1285,999.0 1287,1001.7 1289,1004.4 1291,1007.1 1293,1009.8 1295,1012.5 1297,1015.2 1299,1017.8 1301,1020.4 1303,1023.1 1305,1025.7 1307,1028.3 1309,1030.9 1311,1033.4 1313,1036.0 1315,1038.6 1317,1041.1 1319,1043.6 1321,1046.2 1323,1048.7 1325,1051.2 1327,1053.7 1329,1056.1 1331,1058.6 1333,1061.1 1335,1063.5 1337,1065.9 1339,1068.4 1341,1070.8 1343,1073.2 1345,1075.6 1347,1077.9 1349,1080.3 1351,1082.6 1353,1085.0 1355,1087.3 1357,1089.6 1359,1091.9 1361,1094.2 1363,1096.5 1365,1098.8 1367,1101.1 1369,1103.3 1371,1105.6 1373,1107.8 1375,1110.0 1377,1112.2 1379,1114.4 1381,1116.6 1383,1118.7 1385,1120.9 1387,1123.0 1389,1125.2 1391,1127.3 1393,1129.4 1395,1131.5 1397,1133.6 1399,1135.7 1401,1137.7 1403,1139.8 1405,1141.8 1407,1143.8 1409,1145.9 1411,1147.9 1413,1149.9 1415,1151.8 1417,1153.8 1419,1155.7 1421,1157.7 1423,1159.6 1425,1161.5 1427,1163.4 1429,1165.3 1431,1167.2 1433,1169.1 1435,1170.9 1437,1172.8 1439,1174.6 1441,1176.4 1443,1178.2 1445,1180.0 1447,1181.8 1449,1183.5 1451,1185.3 1453,1187.0 1455,1188.8 1457,1190.5 1459,1192.2 1461,1193.9 1463,1195.5 1465,1197.2 1467,1198.9 1469,1200.5 1471,1202.1 1473,1203.8 1475,1205.4 1477,1206.9 1479,1208.5 1481,1210.1 1483,1211.6 1485,1213.2 1487,1214.7 1489,1216.2 1491,1217.7 1493,1219.2 1495,1220.7 1497,1222.2 1499,1223.6 1501,1225.1 1503,1226.5 1505,1227.9 1507,1229.3 1509,1230.7 1511,1232.1 1513,1233.5 1515,1234.8 1517,1236.2 1519,1237.5 1521,1238.8 1523,1240.2 1525,1241.5 1527,1242.7 1529,1244.0 1531,1245.3 1533,1246.5 1535,1247.8 1537,1249.0 1539,1250.2 1541,1251.4 1543,1252.6 1545,1253.8 1547,1255.0 1549,1256.2 1551,1257.3 1553,1258.5 1555,1259.6 1557,1260.7 1559,1261.8 1561,1262.9 1563,1264.0 1565,1265.1 1567,1266.2 1569,1267.2 1571,1268.3 1573,1269.3 1575,1270.3 1577,1271.4 1579,1272.4 1581,1273.4 1583,1274.4 1585,1275.3 1587,1276.3 1589,1277.3 1591,1278.2 1593,1279.2 1595,1280.1 1597,1281.0 1599,1281.9 1601,1282.8 1603,1283.7 1605,1284.6 1607,1285.5 1609,1286.3 1611,1287.2 1613,1288.0 1615,1288.9 1617,1289.7 1619,1290.5 1621,1291.4 1623,1292.2 1625,1293.0 1627,1293.7 1629,1294.5 1631,1295.3 1633,1296.1 1635,1296.8 1637,1297.6 1639,1298.3 1641,1299.0 1643,1299.8 1645,1300.5 1647,1301.2 1649,1301.9 1651,1302.6 1653,1303.3 1655,1304.0 1657,1304.6 1659,1305.3 1661,1306.0 1663,1306.6 1665,1307.3 1667,1307.9 1669,1308.5 1671,1309.2 1673,1309.8 1675,1310.4 1677,1311.0 1679,1311.6 1681,1312.2 1683,1312.8 1685,1313.4 1687,1313.9 1689,1314.5 1691,1315.1 1693,1315.6 1695,1316.2 1697,1316.7 1699,1317.2 1701,1317.8 1703,1318.3 1705,1318.8 1707,1319.3 1709,1319.8 1711,1320.3 1713,1320.8 1715,1321.3 1717,1321.8 1719,1322.3 1721,1322.8 1723,1323.3 1725,1323.7 1727,1324.2 1729,1324.6 1731,1325.1 1733,1325.5 1735,1326.0 1737,1326.4 1739,1326.9 1741,1327.3 1743,1327.7 1745,1328.1 1747,1328.5 1749,1328.9 1751,1329.4 1753,1329.8 1755,1330.1 1757,1330.5 1759,1330.9 1761,1331.3 1763,1331.7 1765,1332.1 1767,1332.4 1769,1332.8 1771,1333.2 1773,1333.5 1775,1333.9 1777,1334.2 1779,1334.6 1781,1334.9 1783,1335.3 1785,1335.6 1787,1335.9 1789,1336.3 1791,1336.6 1793,1336.9 1795,1337.2 1797,1337.5 1799,1337.9 1801,1338.2 1803,1338.5 1805,1338.8 1807,1339.1 1809,1339.4 1811,1339.7 1813,1339.9 1815,1340.2 1817,1340.5 1819,1340.8 1821,1341.1 1823,1341.3 1825,1341.6 1827,1341.9 1829,1342.1 1831,1342.4 1833,1342.7 1835,1342.9 1837,1343.2 1839,1343.4 1841,1343.7 1843,1343.9 1845,1344.2 1847,1344.4 1849,1344.6 1851,1344.9 1853,1345.1 1855,1345.3 1857,1345.6 1859,1345.8 1861,1346.0 1863,1346.2 1865,1346.4 1867,1346.7 1869,1346.9 1871,1347.1 1873,1347.3 1875,1347.5 1877,1347.7 1879,1347.9 1881,1348.1 1883,1348.3 1885,1348.5 1887,1348.7 1889,1348.9 1891,1349.1 1893,1349.2 1895,1349.4 1897,1349.6 1899,1349.8 1901,1350.0 1903,1350.1 1905,1350.3 1907,1350.5 1909,1350.7 1911,1350.8 1913,1351.0 1915,1351.1 1917,1351.3 1919,1351.5 1921,1351.6 1923,1351.8 1925,1351.9 1927,1352.1 1929,1352.2 1931,1352.4 1933,1352.5 1935,1352.7 1937,1352.8 1939,1353.0 1941,1353.1 1943,1353.3 1945,1353.4 1947,1353.5 1949,1353.7 1951,1353.8 1953,1353.9 1955,1354.1 1957,1354.2 1959,1354.3 1961,1354.5 1963,1354.6 1965,1354.7 1967,1354.8 1969,1354.9 1971,1355.1 1973,1355.2 1975,1355.3 1977,1355.4 1979,1355.5 1981,1355.6 1983,1355.8 1985,1355.9 1987,1356.0 1989,1356.1 1991,1356.2 1993,1356.3 1995,1356.4 1997,1356.5 1999,1356.6 2001,1356.7 2003,1356.8 2005,1356.9 2007,1357.0 2009,1357.1 2011,1357.2 2013,1357.3 2015,1357.4 2017,1357.5 2019,1357.6 2021,1357.6 2023,1357.7 2025,1357.8 2027,1357.9 2029,1358.0 2031,1358.1 2033,1358.2 2035,1358.2 2037,1358.3 2039,1358.4 2041,1358.5 2043,1358.6 2045,1358.6 2047,1358.7 2049,1358.8 2051,1358.9" fill="none" stroke="#008000" stroke-width="3.2" stroke-linejoin="round"/>
<polyline points="363,1361.2 365,1361.1 367,1361.0 369,1360.9 371,1360.7 373,1360.6 375,1360.5 377,1360.3 379,1360.2 381,1360.0 383,1359.9 385,1359.8 387,1359.7 389,1359.6 391,1359.5 393,1359.4 395,1359.3 397,1359.1 399,1359.0 401,1358.8 403,1358.6 405,1358.4 407,1358.2 409,1358.0 411,1357.8 413,1357.6 415,1357.3 417,1357.1 419,1356.8 421,1356.5 423,1356.2 425,1355.9 427,1355.6 429,1355.2 431,1354.8 433,1354.4 435,1354.0 437,1353.5 439,1353.1 441,1352.6 443,1352.0 445,1351.5 447,1350.9 449,1350.2 451,1349.6 453,1348.8 455,1348.1 457,1347.3 459,1346.5 461,1345.6 463,1344.7 465,1343.7 467,1342.7 469,1341.6 471,1340.4 473,1339.2 475,1338.0 477,1336.7 479,1335.3 481,1333.8 483,1332.3 485,1330.7 487,1329.1 489,1327.3 491,1325.5 493,1323.7 495,1321.7 497,1319.6 499,1317.5 501,1315.3 503,1313.0 505,1310.6 507,1308.1 509,1305.6 511,1302.9 513,1300.2 515,1297.3 517,1294.4 519,1291.3 521,1288.2 523,1284.9 525,1281.6 527,1278.2 529,1274.6 531,1270.9 533,1267.2 535,1263.3 537,1259.4 539,1255.3 541,1251.1 543,1246.8 545,1242.4 547,1237.9 549,1233.3 551,1228.6 553,1223.7 555,1218.8 557,1213.8 559,1208.6 561,1203.3 563,1198.0 565,1192.5 567,1186.9 569,1181.3 571,1175.5 573,1169.6 575,1163.6 577,1157.5 579,1151.4 581,1145.1 583,1138.7 585,1132.2 587,1125.7 589,1119.0 591,1112.3 593,1105.5 595,1098.6 597,1091.6 599,1084.5 601,1077.3 603,1070.1 605,1062.8 607,1055.4 609,1048.0 611,1040.4 613,1032.8 615,1025.2 617,1017.5 619,1009.7 621,1001.9 623,994.0 625,986.1 627,978.1 629,970.1 631,962.0 633,953.9 635,945.8 637,937.6 639,929.4 641,921.2 643,913.0 645,904.7 647,896.4 649,888.1 651,879.8 653,871.5 655,863.2 657,854.8 659,846.5 661,838.2 663,829.8 665,821.5 667,813.2 669,804.9 671,796.7 673,788.4 675,780.2 677,772.0 679,763.8 681,755.7 683,747.6 685,739.5 687,731.5 689,723.5 691,715.6 693,707.7 695,699.8 697,692.0 699,684.3 701,676.6 703,669.0 705,661.5 707,654.0 709,646.5 711,639.2 713,631.9 715,624.7 717,617.6 719,610.5 721,603.5 723,596.6 725,589.8 727,583.0 729,576.4 731,569.8 733,563.3 735,556.9 737,550.6 739,544.4 741,538.3 743,532.3 745,526.3 747,520.5 749,514.7 751,509.1 753,503.5 755,498.1 757,492.7 759,487.5 761,482.3 763,477.3 765,472.3 767,467.5 769,462.7 771,458.1 773,453.6 775,449.1 777,444.8 779,440.6 781,436.4 783,432.4 785,428.5 787,424.7 789,420.9 791,417.3 793,413.8 795,410.4 797,407.1 799,403.9 801,400.8 803,397.7 805,394.8 807,392.0 809,389.3 811,386.7 813,384.2 815,381.8 817,379.5 819,377.2 821,375.1 823,373.1 825,371.1 827,369.3 829,367.6 831,365.9 833,364.3 835,362.9 837,361.5 839,360.2 841,359.0 843,357.9 845,356.8 847,355.9 849,355.0 851,354.3 853,353.6 855,353.0 857,352.5 859,352.0 861,351.7 863,351.4 865,351.2 867,351.1 869,351.1 871,351.1 873,351.3 875,351.5 877,351.7 879,352.1 881,352.5 883,353.0 885,353.6 887,354.2 889,354.9 891,355.7 893,356.5 895,357.4 897,358.4 899,359.5 901,360.6 903,361.8 905,363.0 907,364.3 909,365.7 911,367.2 913,368.7 915,370.3 917,371.9 919,373.6 921,375.3 923,377.2 925,379.0 927,381.0 929,383.0 931,385.0 933,387.2 935,389.3 937,391.6 939,393.8 941,396.2 943,398.6 945,401.0 947,403.6 949,406.1 951,408.7 953,411.4 955,414.1 957,416.9 959,419.7 961,422.6 963,425.5 965,428.5 967,431.5 969,434.5 971,437.6 973,440.8 975,444.0 977,447.2 979,450.5 981,453.8 983,457.2 985,460.6 987,464.1 989,467.6 991,471.1 993,474.7 995,478.3 997,481.9 999,485.6 1001,489.3 1003,493.0 1005,496.8 1007,500.6 1009,504.4 1011,508.2 1013,512.1 1015,516.0 1017,520.0 1019,523.9 1021,527.9 1023,531.9 1025,536.0 1027,540.0 1029,544.1 1031,548.2 1033,552.3 1035,556.4 1037,560.6 1039,564.8 1041,568.9 1043,573.1 1045,577.3 1047,581.5 1049,585.7 1051,590.0 1053,594.2 1055,598.5 1057,602.7 1059,607.0 1061,611.2 1063,615.5 1065,619.8 1067,624.1 1069,628.3 1071,632.6 1073,636.9 1075,641.1 1077,645.4 1079,649.7 1081,653.9 1083,658.2 1085,662.4 1087,666.7 1089,670.9 1091,675.2 1093,679.4 1095,683.6 1097,687.8 1099,692.0 1101,696.2 1103,700.3 1105,704.5 1107,708.7 1109,712.8 1111,716.9 1113,721.0 1115,725.1 1117,729.2 1119,733.2 1121,737.3 1123,741.3 1125,745.3 1127,749.3 1129,753.3 1131,757.2 1133,761.2 1135,765.1 1137,769.0 1139,772.9 1141,776.8 1143,780.6 1145,784.5 1147,788.3 1149,792.1 1151,795.8 1153,799.6 1155,803.3 1157,807.0 1159,810.7 1161,814.4 1163,818.0 1165,821.7 1167,825.3 1169,828.9 1171,832.5 1173,836.0 1175,839.6 1177,843.1 1179,846.6 1181,850.0 1183,853.5 1185,856.9 1187,860.4 1189,863.8 1191,867.1 1193,870.5 1195,873.8 1197,877.2 1199,880.5 1201,883.8 1203,887.0 1205,890.3 1207,893.5 1209,896.7 1211,899.9 1213,903.1 1215,906.3 1217,909.4 1219,912.6 1221,915.7 1223,918.8 1225,921.9 1227,924.9 1229,928.0 1231,931.0 1233,934.1 1235,937.1 1237,940.1 1239,943.0 1241,946.0 1243,948.9 1245,951.9 1247,954.8 1249,957.7 1251,960.6 1253,963.5 1255,966.3 1257,969.2 1259,972.0 1261,974.8 1263,977.6 1265,980.4 1267,983.2 1269,986.0 1271,988.8 1273,991.5 1275,994.2 1277,997.0 1279,999.7 1281,1002.4 1283,1005.0 1285,1007.7 1287,1010.4 1289,1013.0 1291,1015.7 1293,1018.3 1295,1020.9 1297,1023.5 1299,1026.1 1301,1028.7 1303,1031.3 1305,1033.8 1307,1036.4 1309,1038.9 1311,1041.4 1313,1043.9 1315,1046.5 1317,1048.9 1319,1051.4 1321,1053.9 1323,1056.4 1325,1058.8 1327,1061.2 1329,1063.7 1331,1066.1 1333,1068.5 1335,1070.9 1337,1073.3 1339,1075.6 1341,1078.0 1343,1080.3 1345,1082.7 1347,1085.0 1349,1087.3 1351,1089.6 1353,1091.9 1355,1094.2 1357,1096.5 1359,1098.7 1361,1101.0 1363,1103.2 1365,1105.4 1367,1107.6 1369,1109.9 1371,1112.0 1373,1114.2 1375,1116.4 1377,1118.5 1379,1120.7 1381,1122.8 1383,1124.9 1385,1127.1 1387,1129.2 1389,1131.2 1391,1133.3 1393,1135.4 1395,1137.4 1397,1139.5 1399,1141.5 1401,1143.5 1403,1145.5 1405,1147.5 1407,1149.5 1409,1151.5 1411,1153.4 1413,1155.4 1415,1157.3 1417,1159.2 1419,1161.1 1421,1163.0 1423,1164.9 1425,1166.8 1427,1168.6 1429,1170.5 1431,1172.3 1433,1174.1 1435,1175.9 1437,1177.7 1439,1179.5 1441,1181.3 1443,1183.0 1445,1184.8 1447,1186.5 1449,1188.3 1451,1190.0 1453,1191.7 1455,1193.4 1457,1195.0 1459,1196.7 1461,1198.3 1463,1200.0 1465,1201.6 1467,1203.2 1469,1204.8 1471,1206.4 1473,1208.0 1475,1209.5 1477,1211.1 1479,1212.6 1481,1214.2 1483,1215.7 1485,1217.2 1487,1218.7 1489,1220.1 1491,1221.6 1493,1223.1 1495,1224.5 1497,1225.9 1499,1227.3 1501,1228.8 1503,1230.1 1505,1231.5 1507,1232.9 1509,1234.3 1511,1235.6 1513,1236.9 1515,1238.3 1517,1239.6 1519,1240.9 1521,1242.2 1523,1243.4 1525,1244.7 1527,1246.0 1529,1247.2 1531,1248.4 1533,1249.7 1535,1250.9 1537,1252.1 1539,1253.3 1541,1254.4 1543,1255.6 1545,1256.8 1547,1257.9 1549,1259.0 1551,1260.2 1553,1261.3 1555,1262.4 1557,1263.5 1559,1264.5 1561,1265.6 1563,1266.7 1565,1267.7 1567,1268.8 1569,1269.8 1571,1270.8 1573,1271.8 1575,1272.8 1577,1273.8 1579,1274.8 1581,1275.8 1583,1276.7 1585,1277.7 1587,1278.6 1589,1279.6 1591,1280.5 1593,1281.4 1595,1282.3 1597,1283.2 1599,1284.1 1601,1285.0 1603,1285.8 1605,1286.7 1607,1287.5 1609,1288.4 1611,1289.2 1613,1290.0 1615,1290.9 1617,1291.7 1619,1292.5 1621,1293.3 1623,1294.1 1625,1294.8 1627,1295.6 1629,1296.4 1631,1297.1 1633,1297.9 1635,1298.6 1637,1299.3 1639,1300.0 1641,1300.7 1643,1301.5 1645,1302.2 1647,1302.8 1649,1303.5 1651,1304.2 1653,1304.9 1655,1305.5 1657,1306.2 1659,1306.8 1661,1307.5 1663,1308.1 1665,1308.7 1667,1309.4 1669,1310.0 1671,1310.6 1673,1311.2 1675,1311.8 1677,1312.4 1679,1313.0 1681,1313.5 1683,1314.1 1685,1314.7 1687,1315.2 1689,1315.8 1691,1316.3 1693,1316.9 1695,1317.4 1697,1317.9 1699,1318.4 1701,1319.0 1703,1319.5 1705,1320.0 1707,1320.5 1709,1321.0 1711,1321.5 1713,1322.0 1715,1322.4 1717,1322.9 1719,1323.4 1721,1323.8 1723,1324.3 1725,1324.8 1727,1325.2 1729,1325.6 1731,1326.1 1733,1326.5 1735,1327.0 1737,1327.4 1739,1327.8 1741,1328.2 1743,1328.6 1745,1329.0 1747,1329.4 1749,1329.8 1751,1330.2 1753,1330.6 1755,1331.0 1757,1331.4 1759,1331.8 1761,1332.1 1763,1332.5 1765,1332.9 1767,1333.2 1769,1333.6 1771,1333.9 1773,1334.3 1775,1334.6 1777,1335.0 1779,1335.3 1781,1335.7 1783,1336.0 1785,1336.3 1787,1336.6 1789,1337.0 1791,1337.3 1793,1337.6 1795,1337.9 1797,1338.2 1799,1338.5 1801,1338.8 1803,1339.1 1805,1339.4 1807,1339.7 1809,1340.0 1811,1340.3 1813,1340.6 1815,1340.8 1817,1341.1 1819,1341.4 1821,1341.6 1823,1341.9 1825,1342.2 1827,1342.4 1829,1342.7 1831,1342.9 1833,1343.2 1835,1343.5 1837,1343.7 1839,1343.9 1841,1344.2 1843,1344.4 1845,1344.7 1847,1344.9 1849,1345.1 1851,1345.3 1853,1345.6 1855,1345.8 1857,1346.0 1859,1346.2 1861,1346.5 1863,1346.7 1865,1346.9 1867,1347.1 1869,1347.3 1871,1347.5 1873,1347.7 1875,1347.9 1877,1348.1 1879,1348.3 1881,1348.5 1883,1348.7 1885,1348.9 1887,1349.1 1889,1349.2 1891,1349.4 1893,1349.6 1895,1349.8 1897,1350.0 1899,1350.1 1901,1350.3 1903,1350.5 1905,1350.7 1907,1350.8 1909,1351.0 1911,1351.1 1913,1351.3 1915,1351.5 1917,1351.6 1919,1351.8 1921,1351.9 1923,1352.1 1925,1352.2 1927,1352.4 1929,1352.5 1931,1352.7 1933,1352.8 1935,1353.0 1937,1353.1 1939,1353.3 1941,1353.4 1943,1353.5 1945,1353.7 1947,1353.8 1949,1353.9 1951,1354.1 1953,1354.2 1955,1354.3 1957,1354.4 1959,1354.6 1961,1354.7 1963,1354.8 1965,1354.9 1967,1355.1 1969,1355.2 1971,1355.3 1973,1355.4 1975,1355.5 1977,1355.6 1979,1355.7 1981,1355.8 1983,1356.0 1985,1356.1 1987,1356.2 1989,1356.3 1991,1356.4 1993,1356.5 1995,1356.6 1997,1356.7 1999,1356.8 2001,1356.9 2003,1357.0 2005,1357.1 2007,1357.2 2009,1357.3 2011,1357.4 2013,1357.4 2015,1357.5 2017,1357.6 2019,1357.7 2021,1357.8 2023,1357.9 2025,1358.0 2027,1358.1 2029,1358.1 2031,1358.2 2033,1358.3 2035,1358.4 2037,1358.5 2039,1358.5 2041,1358.6 2043,1358.7 2045,1358.8 2047,1358.8 2049,1358.9 2051,1359.0" fill="none" stroke="#800080" stroke-width="3.2" stroke-linejoin="round"/>
<polyline points="363,1360.9 365,1360.8 367,1360.7 369,1360.5 371,1360.4 373,1360.3 375,1360.1 377,1360.0 379,1359.9 381,1359.8 383,1359.7 385,1359.6 387,1359.5 389,1359.4 391,1359.2 393,1359.1 395,1358.9 397,1358.8 399,1358.6 401,1358.4 403,1358.2 405,1358.0 407,1357.8 409,1357.6 411,1357.3 413,1357.1 415,1356.8 417,1356.5 419,1356.2 421,1355.9 423,1355.6 425,1355.2 427,1354.8 429,1354.5 431,1354.0 433,1353.6 435,1353.1 437,1352.6 439,1352.1 441,1351.6 443,1351.0 445,1350.4 447,1349.7 449,1349.1 451,1348.3 453,1347.6 455,1346.8 457,1345.9 459,1345.0 461,1344.1 463,1343.1 465,1342.1 467,1341.0 469,1339.8 471,1338.6 473,1337.4 475,1336.1 477,1334.7 479,1333.2 481,1331.7 483,1330.1 485,1328.5 487,1326.8 489,1325.0 491,1323.1 493,1321.2 495,1319.2 497,1317.1 499,1314.9 501,1312.6 503,1310.3 505,1307.8 507,1305.3 509,1302.7 511,1300.0 513,1297.2 515,1294.3 517,1291.3 519,1288.2 521,1285.1 523,1281.8 525,1278.4 527,1275.0 529,1271.4 531,1267.7 533,1264.0 535,1260.1 537,1256.1 539,1252.1 541,1247.9 543,1243.6 545,1239.2 547,1234.7 549,1230.2 551,1225.5 553,1220.7 555,1215.8 557,1210.8 559,1205.7 561,1200.5 563,1195.2 565,1189.8 567,1184.3 569,1178.7 571,1173.0 573,1167.2 575,1161.3 577,1155.3 579,1149.2 581,1143.1 583,1136.8 585,1130.4 587,1124.0 589,1117.5 591,1110.9 593,1104.2 595,1097.4 597,1090.5 599,1083.6 601,1076.6 603,1069.5 605,1062.4 607,1055.1 609,1047.9 611,1040.5 613,1033.1 615,1025.6 617,1018.1 619,1010.5 621,1002.8 623,995.2 625,987.4 627,979.6 629,971.8 631,963.9 633,956.0 635,948.1 637,940.1 639,932.1 641,924.1 643,916.0 645,908.0 647,899.9 649,891.8 651,883.6 653,875.5 655,867.4 657,859.2 659,851.1 661,843.0 663,834.8 665,826.7 667,818.6 669,810.5 671,802.4 673,794.3 675,786.3 677,778.3 679,770.3 681,762.3 683,754.4 685,746.5 687,738.6 689,730.8 691,723.0 693,715.2 695,707.5 697,699.9 699,692.3 701,684.8 703,677.3 705,669.8 707,662.5 709,655.2 711,647.9 713,640.7 715,633.6 717,626.6 719,619.6 721,612.7 723,605.9 725,599.1 727,592.5 729,585.9 731,579.4 733,572.9 735,566.6 737,560.3 739,554.2 741,548.1 743,542.1 745,536.2 747,530.3 749,524.6 751,519.0 753,513.4 755,508.0 757,502.6 759,497.3 761,492.2 763,487.1 765,482.1 767,477.2 769,472.5 771,467.8 773,463.2 775,458.7 777,454.3 779,450.0 781,445.8 783,441.7 785,437.7 787,433.8 789,430.0 791,426.3 793,422.7 795,419.2 797,415.8 799,412.5 801,409.3 803,406.1 805,403.1 807,400.2 809,397.3 811,394.6 813,392.0 815,389.4 817,387.0 819,384.6 821,382.3 823,380.2 825,378.1 827,376.1 829,374.2 831,372.4 833,370.7 835,369.0 837,367.5 839,366.0 841,364.7 843,363.4 845,362.2 847,361.1 849,360.0 851,359.1 853,358.2 855,357.4 857,356.7 859,356.1 861,355.6 863,355.1 865,354.7 867,354.4 869,354.2 871,354.1 873,354.0 875,354.0 877,354.1 879,354.2 881,354.5 883,354.8 885,355.2 887,355.6 889,356.1 891,356.7 893,357.4 895,358.1 897,358.9 899,359.8 901,360.7 903,361.7 905,362.8 907,363.9 909,365.2 911,366.4 913,367.8 915,369.2 917,370.6 919,372.2 921,373.7 923,375.4 925,377.1 927,378.9 929,380.7 931,382.6 933,384.6 935,386.6 937,388.7 939,390.8 941,393.0 943,395.2 945,397.5 947,399.9 949,402.3 951,404.8 953,407.3 955,409.8 957,412.5 959,415.1 961,417.9 963,420.6 965,423.5 967,426.3 969,429.3 971,432.2 973,435.3 975,438.3 977,441.4 979,444.6 981,447.8 983,451.0 985,454.3 987,457.7 989,461.0 991,464.4 993,467.9 995,471.4 997,474.9 999,478.5 1001,482.0 1003,485.7 1005,489.3 1007,493.0 1009,496.8 1011,500.5 1013,504.3 1015,508.2 1017,512.0 1019,515.9 1021,519.8 1023,523.7 1025,527.7 1027,531.7 1029,535.7 1031,539.7 1033,543.7 1035,547.8 1037,551.9 1039,556.0 1041,560.1 1043,564.2 1045,568.4 1047,572.5 1049,576.7 1051,580.9 1053,585.1 1055,589.3 1057,593.5 1059,597.7 1061,602.0 1063,606.2 1065,610.5 1067,614.7 1069,619.0 1071,623.2 1073,627.5 1075,631.7 1077,636.0 1079,640.2 1081,644.5 1083,648.7 1085,653.0 1087,657.2 1089,661.5 1091,665.7 1093,669.9 1095,674.1 1097,678.3 1099,682.5 1101,686.7 1103,690.9 1105,695.1 1107,699.3 1109,703.4 1111,707.5 1113,711.7 1115,715.8 1117,719.9 1119,724.0 1121,728.0 1123,732.1 1125,736.1 1127,740.2 1129,744.2 1131,748.1 1133,752.1 1135,756.1 1137,760.0 1139,763.9 1141,767.8 1143,771.7 1145,775.6 1147,779.4 1149,783.3 1151,787.1 1153,790.9 1155,794.6 1157,798.4 1159,802.1 1161,805.8 1163,809.5 1165,813.2 1167,816.9 1169,820.5 1171,824.1 1173,827.7 1175,831.3 1177,834.8 1179,838.4 1181,841.9 1183,845.4 1185,848.9 1187,852.3 1189,855.8 1191,859.2 1193,862.6 1195,866.0 1197,869.3 1199,872.7 1201,876.0 1203,879.3 1205,882.6 1207,885.9 1209,889.1 1211,892.3 1213,895.6 1215,898.8 1217,901.9 1219,905.1 1221,908.3 1223,911.4 1225,914.5 1227,917.6 1229,920.7 1231,923.8 1233,926.8 1235,929.8 1237,932.9 1239,935.9 1241,938.9 1243,941.8 1245,944.8 1247,947.7 1249,950.7 1251,953.6 1253,956.5 1255,959.4 1257,962.3 1259,965.1 1261,968.0 1263,970.8 1265,973.6 1267,976.4 1269,979.2 1271,982.0 1273,984.8 1275,987.6 1277,990.3 1279,993.0 1281,995.8 1283,998.5 1285,1001.2 1287,1003.8 1289,1006.5 1291,1009.2 1293,1011.8 1295,1014.5 1297,1017.1 1299,1019.7 1301,1022.3 1303,1024.9 1305,1027.5 1307,1030.0 1309,1032.6 1311,1035.2 1313,1037.7 1315,1040.2 1317,1042.7 1319,1045.2 1321,1047.7 1323,1050.2 1325,1052.7 1327,1055.1 1329,1057.6 1331,1060.0 1333,1062.4 1335,1064.9 1337,1067.3 1339,1069.6 1341,1072.0 1343,1074.4 1345,1076.8 1347,1079.1 1349,1081.4 1351,1083.8 1353,1086.1 1355,1088.4 1357,1090.7 1359,1093.0 1361,1095.2 1363,1097.5 1365,1099.7 1367,1102.0 1369,1104.2 1371,1106.4 1373,1108.6 1375,1110.8 1377,1113.0 1379,1115.2 1381,1117.3 1383,1119.5 1385,1121.6 1387,1123.7 1389,1125.8 1391,1127.9 1393,1130.0 1395,1132.1 1397,1134.2 1399,1136.2 1401,1138.3 1403,1140.3 1405,1142.3 1407,1144.3 1409,1146.3 1411,1148.3 1413,1150.3 1415,1152.2 1417,1154.2 1419,1156.1 1421,1158.0 1423,1159.9 1425,1161.8 1427,1163.7 1429,1165.6 1431,1167.5 1433,1169.3 1435,1171.2 1437,1173.0 1439,1174.8 1441,1176.6 1443,1178.4 1445,1180.2 1447,1181.9 1449,1183.7 1451,1185.4 1453,1187.1 1455,1188.9 1457,1190.6 1459,1192.3 1461,1193.9 1463,1195.6 1465,1197.3 1467,1198.9 1469,1200.5 1471,1202.1 1473,1203.7 1475,1205.3 1477,1206.9 1479,1208.5 1481,1210.0 1483,1211.6 1485,1213.1 1487,1214.6 1489,1216.1 1491,1217.6 1493,1219.1 1495,1220.6 1497,1222.1 1499,1223.5 1501,1224.9 1503,1226.4 1505,1227.8 1507,1229.2 1509,1230.6 1511,1231.9 1513,1233.3 1515,1234.7 1517,1236.0 1519,1237.3 1521,1238.6 1523,1240.0 1525,1241.2 1527,1242.5 1529,1243.8 1531,1245.1 1533,1246.3 1535,1247.6 1537,1248.8 1539,1250.0 1541,1251.2 1543,1252.4 1545,1253.6 1547,1254.8 1549,1255.9 1551,1257.1 1553,1258.2 1555,1259.3 1557,1260.5 1559,1261.6 1561,1262.7 1563,1263.7 1565,1264.8 1567,1265.9 1569,1266.9 1571,1268.0 1573,1269.0 1575,1270.1 1577,1271.1 1579,1272.1 1581,1273.1 1583,1274.1 1585,1275.0 1587,1276.0 1589,1277.0 1591,1277.9 1593,1278.8 1595,1279.8 1597,1280.7 1599,1281.6 1601,1282.5 1603,1283.4 1605,1284.3 1607,1285.2 1609,1286.0 1611,1286.9 1613,1287.7 1615,1288.6 1617,1289.4 1619,1290.2 1621,1291.0 1623,1291.8 1625,1292.6 1627,1293.4 1629,1294.2 1631,1295.0 1633,1295.7 1635,1296.5 1637,1297.3 1639,1298.0 1641,1298.7 1643,1299.5 1645,1300.2 1647,1300.9 1649,1301.6 1651,1302.3 1653,1303.0 1655,1303.7 1657,1304.3 1659,1305.0 1661,1305.7 1663,1306.3 1665,1307.0 1667,1307.6 1669,1308.2 1671,1308.9 1673,1309.5 1675,1310.1 1677,1310.7 1679,1311.3 1681,1311.9 1683,1312.5 1685,1313.1 1687,1313.6 1689,1314.2 1691,1314.8 1693,1315.3 1695,1315.9 1697,1316.4 1699,1316.9 1701,1317.5 1703,1318.0 1705,1318.5 1707,1319.0 1709,1319.6 1711,1320.1 1713,1320.6 1715,1321.1 1717,1321.5 1719,1322.0 1721,1322.5 1723,1323.0 1725,1323.4 1727,1323.9 1729,1324.4 1731,1324.8 1733,1325.3 1735,1325.7 1737,1326.1 1739,1326.6 1741,1327.0 1743,1327.4 1745,1327.9 1747,1328.3 1749,1328.7 1751,1329.1 1753,1329.5 1755,1329.9 1757,1330.3 1759,1330.7 1761,1331.1 1763,1331.4 1765,1331.8 1767,1332.2 1769,1332.5 1771,1332.9 1773,1333.3 1775,1333.6 1777,1334.0 1779,1334.3 1781,1334.7 1783,1335.0 1785,1335.4 1787,1335.7 1789,1336.0 1791,1336.3 1793,1336.7 1795,1337.0 1797,1337.3 1799,1337.6 1801,1337.9 1803,1338.2 1805,1338.5 1807,1338.8 1809,1339.1 1811,1339.4 1813,1339.7 1815,1340.0 1817,1340.3 1819,1340.6 1821,1340.8 1823,1341.1 1825,1341.4 1827,1341.7 1829,1341.9 1831,1342.2 1833,1342.5 1835,1342.7 1837,1343.0 1839,1343.2 1841,1343.5 1843,1343.7 1845,1344.0 1847,1344.2 1849,1344.4 1851,1344.7 1853,1344.9 1855,1345.1 1857,1345.4 1859,1345.6 1861,1345.8 1863,1346.0 1865,1346.2 1867,1346.5 1869,1346.7 1871,1346.9 1873,1347.1 1875,1347.3 1877,1347.5 1879,1347.7 1881,1347.9 1883,1348.1 1885,1348.3 1887,1348.5 1889,1348.7 1891,1348.9 1893,1349.1 1895,1349.2 1897,1349.4 1899,1349.6 1901,1349.8 1903,1350.0 1905,1350.1 1907,1350.3 1909,1350.5 1911,1350.7 1913,1350.8 1915,1351.0 1917,1351.1 1919,1351.3 1921,1351.5 1923,1351.6 1925,1351.8 1927,1351.9 1929,1352.1 1931,1352.2 1933,1352.4 1935,1352.5 1937,1352.7 1939,1352.8 1941,1353.0 1943,1353.1 1945,1353.3 1947,1353.4 1949,1353.5 1951,1353.7 1953,1353.8 1955,1353.9 1957,1354.1 1959,1354.2 1961,1354.3 1963,1354.4 1965,1354.6 1967,1354.7 1969,1354.8 1971,1354.9 1973,1355.0 1975,1355.2 1977,1355.3 1979,1355.4 1981,1355.5 1983,1355.6 1985,1355.7 1987,1355.8 1989,1356.0 1991,1356.1 1993,1356.2 1995,1356.3 1997,1356.4 1999,1356.5 2001,1356.6 2003,1356.7 2005,1356.8 2007,1356.9 2009,1357.0 2011,1357.1 2013,1357.2 2015,1357.3 2017,1357.3 2019,1357.4 2021,1357.5 2023,1357.6 2025,1357.7 2027,1357.8 2029,1357.9 2031,1358.0 2033,1358.0 2035,1358.1 2037,1358.2 2039,1358.3 2041,1358.4 2043,1358.4 2045,1358.5 2047,1358.6 2049,1358.7 2051,1358.8" fill="none" stroke="#10c840" stroke-width="3.2" stroke-linejoin="round"/>
<polyline points="363,1364.1 365,1364.1 367,1364.0 369,1364.0 371,1364.0 373,1364.0 375,1364.0 377,1364.0 379,1363.9 381,1363.9 383,1363.9 385,1363.9 387,1363.9 389,1363.9 391,1363.9 393,1363.8 395,1363.8 397,1363.8 399,1363.8 401,1363.8 403,1363.7 405,1363.7 407,1363.7 409,1363.7 411,1363.6 413,1363.6 415,1363.6 417,1363.5 419,1363.5 421,1363.5 423,1363.4 425,1363.4 427,1363.3 429,1363.3 431,1363.2 433,1363.2 435,1363.1 437,1363.0 439,1363.0 441,1362.9 443,1362.8 445,1362.8 447,1362.7 449,1362.6 451,1362.5 453,1362.4 455,1362.3 457,1362.2 459,1362.1 461,1362.0 463,1361.9 465,1361.7 467,1361.6 469,1361.4 471,1361.3 473,1361.1 475,1361.0 477,1360.8 479,1360.6 481,1360.4 483,1360.2 485,1360.0 487,1359.8 489,1359.6 491,1359.3 493,1359.1 495,1358.8 497,1358.6 499,1358.3 501,1358.0 503,1357.7 505,1357.4 507,1357.1 509,1356.7 511,1356.4 513,1356.0 515,1355.7 517,1355.3 519,1354.9 521,1354.5 523,1354.1 525,1353.7 527,1353.2 529,1352.8 531,1352.3 533,1351.8 535,1351.3 537,1350.8 539,1350.3 541,1349.8 543,1349.3 545,1348.7 547,1348.1 549,1347.6 551,1347.0 553,1346.4 555,1345.7 557,1345.1 559,1344.5 561,1343.8 563,1343.1 565,1342.4 567,1341.7 569,1341.0 571,1340.3 573,1339.6 575,1338.8 577,1338.1 579,1337.3 581,1336.5 583,1335.8 585,1334.9 587,1334.1 589,1333.3 591,1332.5 593,1331.6 595,1330.8 597,1329.9 599,1329.0 601,1328.2 603,1327.3 605,1326.4 607,1325.5 609,1324.6 611,1323.6 613,1322.7 615,1321.8 617,1320.8 619,1319.9 621,1318.9 623,1317.9 625,1317.0 627,1316.0 629,1315.0 631,1314.0 633,1313.1 635,1312.1 637,1311.1 639,1310.1 641,1309.1 643,1308.1 645,1307.1 647,1306.1 649,1305.0 651,1304.0 653,1303.0 655,1302.0 657,1301.0 659,1300.0 661,1299.0 663,1298.0 665,1297.0 667,1296.0 669,1295.0 671,1294.0 673,1293.0 675,1292.0 677,1291.0 679,1290.0 681,1289.0 683,1288.1 685,1287.1 687,1286.1 689,1285.2 691,1284.2 693,1283.3 695,1282.3 697,1281.4 699,1280.5 701,1279.5 703,1278.6 705,1277.7 707,1276.8 709,1275.9 711,1275.0 713,1274.2 715,1273.3 717,1272.5 719,1271.6 721,1270.8 723,1270.0 725,1269.1 727,1268.3 729,1267.5 731,1266.8 733,1266.0 735,1265.2 737,1264.5 739,1263.7 741,1263.0 743,1262.3 745,1261.6 747,1260.9 749,1260.2 751,1259.5 753,1258.9 755,1258.2 757,1257.6 759,1257.0 761,1256.4 763,1255.8 765,1255.2 767,1254.6 769,1254.1 771,1253.5 773,1253.0 775,1252.4 777,1251.9 779,1251.4 781,1250.9 783,1250.5 785,1250.0 787,1249.6 789,1249.1 791,1248.7 793,1248.3 795,1247.9 797,1247.5 799,1247.1 801,1246.8 803,1246.4 805,1246.1 807,1245.7 809,1245.4 811,1245.1 813,1244.8 815,1244.5 817,1244.3 819,1244.0 821,1243.8 823,1243.5 825,1243.3 827,1243.1 829,1242.9 831,1242.7 833,1242.5 835,1242.4 837,1242.2 839,1242.1 841,1241.9 843,1241.8 845,1241.7 847,1241.6 849,1241.5 851,1241.4 853,1241.3 855,1241.3 857,1241.2 859,1241.2 861,1241.1 863,1241.1 865,1241.1 867,1241.1 869,1241.1 871,1241.1 873,1241.1 875,1241.2 877,1241.2 879,1241.3 881,1241.3 883,1241.4 885,1241.5 887,1241.5 889,1241.6 891,1241.7 893,1241.8 895,1242.0 897,1242.1 899,1242.2 901,1242.4 903,1242.5 905,1242.7 907,1242.8 909,1243.0 911,1243.2 913,1243.4 915,1243.6 917,1243.8 919,1244.0 921,1244.2 923,1244.4 925,1244.7 927,1244.9 929,1245.1 931,1245.4 933,1245.7 935,1245.9 937,1246.2 939,1246.5 941,1246.8 943,1247.1 945,1247.4 947,1247.7 949,1248.0 951,1248.3 953,1248.6 955,1249.0 957,1249.3 959,1249.6 961,1250.0 963,1250.3 965,1250.7 967,1251.1 969,1251.4 971,1251.8 973,1252.2 975,1252.6 977,1253.0 979,1253.4 981,1253.8 983,1254.2 985,1254.6 987,1255.0 989,1255.5 991,1255.9 993,1256.3 995,1256.7 997,1257.2 999,1257.6 1001,1258.1 1003,1258.5 1005,1259.0 1007,1259.5 1009,1259.9 1011,1260.4 1013,1260.9 1015,1261.3 1017,1261.8 1019,1262.3 1021,1262.8 1023,1263.3 1025,1263.7 1027,1264.2 1029,1264.7 1031,1265.2 1033,1265.7 1035,1266.2 1037,1266.7 1039,1267.2 1041,1267.7 1043,1268.2 1045,1268.7 1047,1269.2 1049,1269.8 1051,1270.3 1053,1270.8 1055,1271.3 1057,1271.8 1059,1272.3 1061,1272.8 1063,1273.4 1065,1273.9 1067,1274.4 1069,1274.9 1071,1275.4 1073,1275.9 1075,1276.4 1077,1277.0 1079,1277.5 1081,1278.0 1083,1278.5 1085,1279.0 1087,1279.5 1089,1280.0 1091,1280.6 1093,1281.1 1095,1281.6 1097,1282.1 1099,1282.6 1101,1283.1 1103,1283.6 1105,1284.1 1107,1284.6 1109,1285.1 1111,1285.6 1113,1286.1 1115,1286.6 1117,1287.1 1119,1287.6 1121,1288.1 1123,1288.5 1125,1289.0 1127,1289.5 1129,1290.0 1131,1290.5 1133,1290.9 1135,1291.4 1137,1291.9 1139,1292.4 1141,1292.8 1143,1293.3 1145,1293.8 1147,1294.2 1149,1294.7 1151,1295.1 1153,1295.6 1155,1296.0 1157,1296.5 1159,1296.9 1161,1297.4 1163,1297.8 1165,1298.3 1167,1298.7 1169,1299.1 1171,1299.6 1173,1300.0 1175,1300.4 1177,1300.9 1179,1301.3 1181,1301.7 1183,1302.1 1185,1302.5 1187,1302.9 1189,1303.4 1191,1303.8 1193,1304.2 1195,1304.6 1197,1305.0 1199,1305.4 1201,1305.8 1203,1306.2 1205,1306.6 1207,1307.0 1209,1307.4 1211,1307.7 1213,1308.1 1215,1308.5 1217,1308.9 1219,1309.3 1221,1309.6 1223,1310.0 1225,1310.4 1227,1310.8 1229,1311.1 1231,1311.5 1233,1311.9 1235,1312.2 1237,1312.6 1239,1313.0 1241,1313.3 1243,1313.7 1245,1314.0 1247,1314.4 1249,1314.7 1251,1315.1 1253,1315.4 1255,1315.8 1257,1316.1 1259,1316.5 1261,1316.8 1263,1317.2 1265,1317.5 1267,1317.8 1269,1318.2 1271,1318.5 1273,1318.8 1275,1319.2 1277,1319.5 1279,1319.8 1281,1320.1 1283,1320.5 1285,1320.8 1287,1321.1 1289,1321.4 1291,1321.8 1293,1322.1 1295,1322.4 1297,1322.7 1299,1323.0 1301,1323.3 1303,1323.7 1305,1324.0 1307,1324.3 1309,1324.6 1311,1324.9 1313,1325.2 1315,1325.5 1317,1325.8 1319,1326.1 1321,1326.4 1323,1326.7 1325,1327.0 1327,1327.3 1329,1327.6 1331,1327.9 1333,1328.2 1335,1328.5 1337,1328.7 1339,1329.0 1341,1329.3 1343,1329.6 1345,1329.9 1347,1330.2 1349,1330.5 1351,1330.7 1353,1331.0 1355,1331.3 1357,1331.6 1359,1331.8 1361,1332.1 1363,1332.4 1365,1332.7 1367,1332.9 1369,1333.2 1371,1333.5 1373,1333.7 1375,1334.0 1377,1334.2 1379,1334.5 1381,1334.8 1383,1335.0 1385,1335.3 1387,1335.5 1389,1335.8 1391,1336.0 1393,1336.3 1395,1336.5 1397,1336.8 1399,1337.0 1401,1337.3 1403,1337.5 1405,1337.8 1407,1338.0 1409,1338.2 1411,1338.5 1413,1338.7 1415,1339.0 1417,1339.2 1419,1339.4 1421,1339.7 1423,1339.9 1425,1340.1 1427,1340.3 1429,1340.6 1431,1340.8 1433,1341.0 1435,1341.2 1437,1341.4 1439,1341.7 1441,1341.9 1443,1342.1 1445,1342.3 1447,1342.5 1449,1342.7 1451,1342.9 1453,1343.1 1455,1343.4 1457,1343.6 1459,1343.8 1461,1344.0 1463,1344.2 1465,1344.4 1467,1344.6 1469,1344.8 1471,1344.9 1473,1345.1 1475,1345.3 1477,1345.5 1479,1345.7 1481,1345.9 1483,1346.1 1485,1346.3 1487,1346.4 1489,1346.6 1491,1346.8 1493,1347.0 1495,1347.2 1497,1347.3 1499,1347.5 1501,1347.7 1503,1347.9 1505,1348.0 1507,1348.2 1509,1348.4 1511,1348.5 1513,1348.7 1515,1348.8 1517,1349.0 1519,1349.2 1521,1349.3 1523,1349.5 1525,1349.6 1527,1349.8 1529,1349.9 1531,1350.1 1533,1350.2 1535,1350.4 1537,1350.5 1539,1350.7 1541,1350.8 1543,1351.0 1545,1351.1 1547,1351.3 1549,1351.4 1551,1351.5 1553,1351.7 1555,1351.8 1557,1351.9 1559,1352.1 1561,1352.2 1563,1352.3 1565,1352.5 1567,1352.6 1569,1352.7 1571,1352.8 1573,1353.0 1575,1353.1 1577,1353.2 1579,1353.3 1581,1353.5 1583,1353.6 1585,1353.7 1587,1353.8 1589,1353.9 1591,1354.0 1593,1354.2 1595,1354.3 1597,1354.4 1599,1354.5 1601,1354.6 1603,1354.7 1605,1354.8 1607,1354.9 1609,1355.0 1611,1355.1 1613,1355.2 1615,1355.3 1617,1355.4 1619,1355.5 1621,1355.6 1623,1355.7 1625,1355.8 1627,1355.9 1629,1356.0 1631,1356.1 1633,1356.2 1635,1356.3 1637,1356.4 1639,1356.5 1641,1356.5 1643,1356.6 1645,1356.7 1647,1356.8 1649,1356.9 1651,1357.0 1653,1357.1 1655,1357.1 1657,1357.2 1659,1357.3 1661,1357.4 1663,1357.5 1665,1357.5 1667,1357.6 1669,1357.7 1671,1357.8 1673,1357.8 1675,1357.9 1677,1358.0 1679,1358.1 1681,1358.1 1683,1358.2 1685,1358.3 1687,1358.3 1689,1358.4 1691,1358.5 1693,1358.5 1695,1358.6 1697,1358.7 1699,1358.7 1701,1358.8 1703,1358.9 1705,1358.9 1707,1359.0 1709,1359.0 1711,1359.1 1713,1359.2 1715,1359.2 1717,1359.3 1719,1359.3 1721,1359.4 1723,1359.5 1725,1359.5 1727,1359.6 1729,1359.6 1731,1359.7 1733,1359.7 1735,1359.8 1737,1359.8 1739,1359.9 1741,1359.9 1743,1360.0 1745,1360.0 1747,1360.1 1749,1360.1 1751,1360.2 1753,1360.2 1755,1360.3 1757,1360.3 1759,1360.4 1761,1360.4 1763,1360.5 1765,1360.5 1767,1360.6 1769,1360.6 1771,1360.7 1773,1360.7 1775,1360.7 1777,1360.8 1779,1360.8 1781,1360.9 1783,1360.9 1785,1361.0 1787,1361.0 1789,1361.0 1791,1361.1 1793,1361.1 1795,1361.2 1797,1361.2 1799,1361.2 1801,1361.3 1803,1361.3 1805,1361.3 1807,1361.4 1809,1361.4 1811,1361.4 1813,1361.5 1815,1361.5 1817,1361.6 1819,1361.6 1821,1361.6 1823,1361.7 1825,1361.7 1827,1361.7 1829,1361.7 1831,1361.8 1833,1361.8 1835,1361.8 1837,1361.9 1839,1361.9 1841,1361.9 1843,1362.0 1845,1362.0 1847,1362.0 1849,1362.1 1851,1362.1 1853,1362.1 1855,1362.1 1857,1362.2 1859,1362.2 1861,1362.2 1863,1362.2 1865,1362.3 1867,1362.3 1869,1362.3 1871,1362.3 1873,1362.4 1875,1362.4 1877,1362.4 1879,1362.4 1881,1362.5 1883,1362.5 1885,1362.5 1887,1362.5 1889,1362.6 1891,1362.6 1893,1362.6 1895,1362.6 1897,1362.7 1899,1362.7 1901,1362.7 1903,1362.7 1905,1362.7 1907,1362.8 1909,1362.8 1911,1362.8 1913,1362.8 1915,1362.8 1917,1362.9 1919,1362.9 1921,1362.9 1923,1362.9 1925,1362.9 1927,1363.0 1929,1363.0 1931,1363.0 1933,1363.0 1935,1363.0 1937,1363.1 1939,1363.1 1941,1363.1 1943,1363.1 1945,1363.1 1947,1363.1 1949,1363.2 1951,1363.2 1953,1363.2 1955,1363.2 1957,1363.2 1959,1363.2 1961,1363.3 1963,1363.3 1965,1363.3 1967,1363.3 1969,1363.3 1971,1363.3 1973,1363.3 1975,1363.4 1977,1363.4 1979,1363.4 1981,1363.4 1983,1363.4 1985,1363.4 1987,1363.4 1989,1363.5 1991,1363.5 1993,1363.5 1995,1363.5 1997,1363.5 1999,1363.5 2001,1363.5 2003,1363.5 2005,1363.6 2007,1363.6 2009,1363.6 2011,1363.6 2013,1363.6 2015,1363.6 2017,1363.6 2019,1363.6 2021,1363.6 2023,1363.7 2025,1363.7 2027,1363.7 2029,1363.7 2031,1363.7 2033,1363.7 2035,1363.7 2037,1363.7 2039,1363.7 2041,1363.7 2043,1363.8 2045,1363.8 2047,1363.8 2049,1363.8 2051,1363.8" fill="none" stroke="#b8207a" stroke-width="3.2" stroke-linejoin="round"/>
</g>
<g id="labels">
<text transform="translate(292.46,1378.88) scale(0.577,0.611)" font-size="100">0</text>
<text transform="translate(190.38,1055.50) scale(0.577,0.611)" font-size="100">2,000</text>
<text transform="translate(190.38,732.13) scale(0.577,0.611)" font-size="100">4,000</text>
<text transform="translate(190.38,408.75) scale(0.577,0.611)" font-size="100">6,000</text>
<text transform="translate(190.38,85.38) scale(0.577,0.611)" font-size="100">8,000</text>
<text transform="translate(408.80,1459.78) scale(0.577,0.611)" font-size="100">400</text>
<text transform="translate(854.15,1459.78) scale(0.577,0.611)" font-size="100">450</text>
<text transform="translate(1298.35,1459.78) scale(0.577,0.611)" font-size="100">500</text>
<text transform="translate(1743.70,1459.78) scale(0.577,0.611)" font-size="100">550</text>
<text transform="translate(93.13,888.26) rotate(-90) scale(0.8150,0.8035)" font-size="100">Intensity</text>
<text transform="translate(967.80,1583.90) scale(0.7685,0.8000)" font-size="100">Wavelength/nm</text>
</g>
<g id="annot">
<polyline points="1078.2,551.8 1347.8,812.4" stroke="#000" stroke-width="4" fill="none"/>
<polyline points="1081.9,997.1 1341.6,812" stroke="#000" stroke-width="4" fill="none"/>
<text transform="translate(1708.90,159.48) scale(0.5952,0.6167)" font-size="100">before</text>
<text transform="translate(1890.49,159.39) scale(0.6017,0.6125)" font-size="100">after</text>
<text transform="translate(1344.11,823.20) scale(0.6308,0.6308)" font-size="100">L</text>
<text transform="translate(1383.66,848.10) scale(0.3714,0.5197)" font-size="100">1</text>
<text transform="translate(1406.61,822.85) scale(0.5975,0.6254)" font-size="100">-ZnNO</text>
<text transform="translate(1578.28,847.43) scale(0.3439,0.3697)" font-size="100">3</text>
<text transform="translate(1595.41,823.57) scale(0.5974,0.6271)" font-size="100">+other anions</text>
<text transform="translate(674.00,1237.20) scale(0.6327,0.6354)" font-size="100">L</text>
<text transform="translate(713.68,1262.10) scale(0.3686,0.5182)" font-size="100">1</text>
<text transform="translate(736.62,1236.55) scale(0.5950,0.6254)" font-size="100">-ZnNO</text>
<text transform="translate(907.29,1261.72) scale(0.3415,0.3833)" font-size="100">3</text>
<text transform="translate(923.90,1236.80) scale(0.6190,0.6262)" font-size="100">+H</text>
<text transform="translate(1001.75,1262.10) scale(0.3875,0.3892)" font-size="100">2</text>
<text transform="translate(1019.27,1236.71) scale(0.6116,0.6433)" font-size="100">PO</text>
<text transform="translate(1096.10,1262.10) scale(0.3500,0.3892)" font-size="100">4</text>
<text transform="translate(1114.38,1204.61) scale(0.3538,0.4857)" font-size="100">-</text>
</g>
<g id="photo">
<defs>
<clipPath id="pclip"><rect x="1720" y="171" width="315" height="539"/></clipPath>
<filter id="pb1" x="-20%" y="-20%" width="140%" height="140%"><feGaussianBlur stdDeviation="1.2"/></filter>
<filter id="pb2" x="-20%" y="-20%" width="140%" height="140%"><feGaussianBlur stdDeviation="2"/></filter>
<filter id="pb3" x="-30%" y="-30%" width="160%" height="160%"><feGaussianBlur stdDeviation="3"/></filter>
<linearGradient id="lwall" x1="0" y1="0" x2="0" y2="1">
 <stop offset="0" stop-color="#1432c0"/><stop offset="0.7" stop-color="#1234c8"/><stop offset="1" stop-color="#0a46e0"/>
</linearGradient>
<linearGradient id="liq" gradientUnits="userSpaceOnUse" x1="0" y1="560" x2="0" y2="710">
 <stop offset="0" stop-color="#0a2cc0" stop-opacity="0.3"/><stop offset="0.15" stop-color="#0a50e8"/><stop offset="0.3" stop-color="#0a72fa"/><stop offset="0.45" stop-color="#0a84ff"/><stop offset="0.6" stop-color="#0a78ff"/><stop offset="1" stop-color="#0a6cf6"/>
</linearGradient>
<linearGradient id="rwall" x1="0" y1="0" x2="0" y2="1">
 <stop offset="0" stop-color="#1636c4"/><stop offset="0.72" stop-color="#1238cc"/><stop offset="0.8" stop-color="#0a52ea"/><stop offset="1" stop-color="#0a56ec"/>
</linearGradient>
<linearGradient id="menL" gradientUnits="userSpaceOnUse" x1="0" y1="214" x2="0" y2="618">
 <stop offset="0" stop-color="#02051e"/><stop offset="0.86" stop-color="#02051e"/><stop offset="0.93" stop-color="#031060"/><stop offset="0.97" stop-color="#0634c8"/><stop offset="1" stop-color="#0a5cf0"/>
</linearGradient>
<linearGradient id="uband" gradientUnits="userSpaceOnUse" x1="0" y1="540" x2="0" y2="600">
 <stop offset="0" stop-color="#1238c8" stop-opacity="0"/><stop offset="1" stop-color="#1238c8" stop-opacity="1"/>
</linearGradient>
</defs>
<g clip-path="url(#pclip)">
<rect x="1720" y="171" width="315" height="539" fill="#04061e"/>
<!-- left cuvette -->
<rect x="1720" y="188" width="22" height="522" fill="url(#lwall)" filter="url(#pb1)"/>
<rect x="1741" y="196" width="16" height="514" fill="#050e62"/>
<rect x="1749" y="205" width="3" height="505" fill="#0a1c92"/>
<rect x="1752" y="205" width="5" height="505" fill="#071780"/>
<!-- liquid -->
<rect x="1741" y="560" width="133" height="150" fill="url(#liq)" filter="url(#pb2)"/>
<!-- interior dark with rounded bottom -->
<path d="M1757,214 L1868,214 L1868,568 Q1866,614 1830,616 L1795,616 Q1759,614 1757,568 Z" fill="url(#menL)" filter="url(#pb1)"/>
<path d="M1759,214 L1866,214 L1866,560 Q1864,598 1832,601 L1793,601 Q1761,598 1759,560 Z" fill="#02051c" filter="url(#pb3)"/>
<!-- right glass of left cuvette -->
<rect x="1872" y="196" width="14" height="514" fill="url(#rwall)" filter="url(#pb1)"/>
<rect x="1867" y="196" width="6" height="400" fill="#1030c0" filter="url(#pb1)"/>
<rect x="1886" y="196" width="8" height="514" fill="#0a26ac"/>
<rect x="1894" y="190" width="6" height="520" fill="#030a50"/>
<!-- left cuvette top rims -->
<rect x="1742" y="191" width="150" height="7" fill="#1a40d8" filter="url(#pb1)"/>
<rect x="1760" y="198" width="112" height="6" fill="#030a34"/>
<rect x="1733" y="204" width="152" height="10" fill="#1838c8" filter="url(#pb1)"/>
<rect x="1737" y="205" width="12" height="3" fill="#4a6cff" filter="url(#pb1)"/>
<rect x="1868" y="205" width="14" height="3" fill="#4a6cff" filter="url(#pb1)"/>
<rect x="1722" y="186" width="12" height="4" fill="#3a62f0" filter="url(#pb1)"/>
<!-- glow highlights at meniscus corners -->
<ellipse cx="1746" cy="604" rx="4" ry="9" fill="#1aa0ff" filter="url(#pb3)"/>
<ellipse cx="1866" cy="608" rx="4" ry="9" fill="#1aa0ff" filter="url(#pb3)"/>
<!-- right cuvette -->
<rect x="1900" y="192" width="10" height="518" fill="#121c8e"/>
<rect x="1910" y="212" width="114" height="498" fill="#030520"/>
<rect x="1900" y="193" width="135" height="4" fill="#18268e" filter="url(#pb1)"/>
<rect x="1909" y="197" width="116" height="6" fill="#050838"/>
<rect x="1900" y="203" width="135" height="8" fill="#15228a" filter="url(#pb1)"/>
<rect x="1905" y="198" width="4" height="5" fill="#b03050" opacity="0.5"/>
<rect x="2024" y="196" width="8" height="514" fill="#121c90"/>
<rect x="2025" y="210" width="5" height="16" fill="#5566cc" opacity="0.6"/>
<!-- below meniscus -->
<rect x="1910" y="622" width="114" height="88" fill="#020a46"/>
<!-- right meniscus: U-band -->
<path d="M1907,540 L1907,585 Q1910,621 1945,623 L1988,623 Q2023,621 2026,585 L2026,540" fill="none" stroke="url(#uband)" stroke-width="12" filter="url(#pb1)"/>
<ellipse cx="1906" cy="601" rx="3" ry="9" fill="#1a90ff" filter="url(#pb2)"/>
<ellipse cx="2026" cy="603" rx="3" ry="9" fill="#1a90ff" filter="url(#pb2)"/>
<rect x="1720" y="171" width="315" height="17" fill="#030418"/>
</g>
</g>

</svg>
</body></html>
